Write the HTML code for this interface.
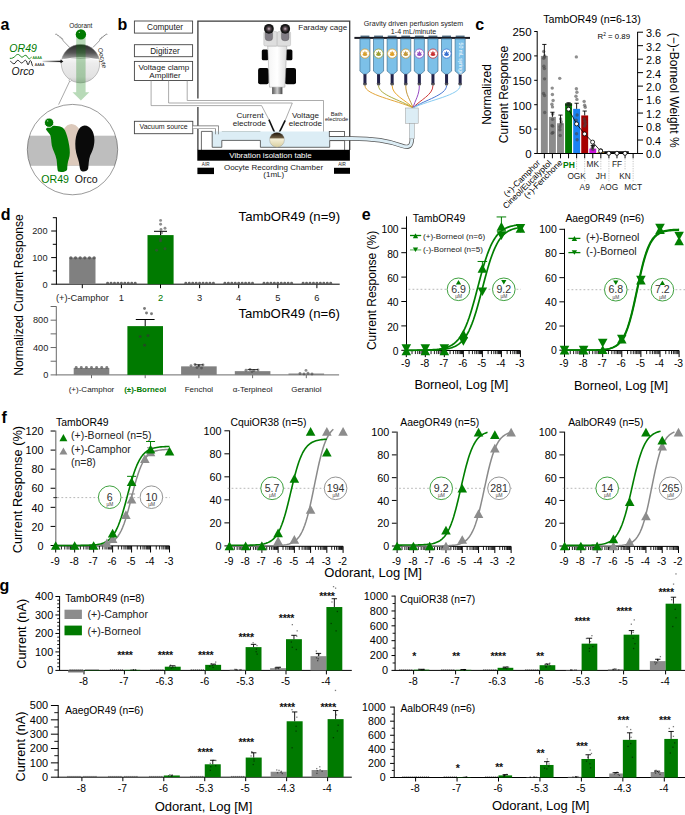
<!DOCTYPE html>
<html><head><meta charset="utf-8"><style>
html,body{margin:0;padding:0;background:#fff;width:685px;height:815px;overflow:hidden}
svg{display:block}
text{font-family:"Liberation Sans", sans-serif}
</style></head><body>
<svg width="685" height="815" viewBox="0 0 685 815">
<defs>
<linearGradient id="oog" x1="0" y1="0" x2="0" y2="1">
<stop offset="0" stop-color="#2a2a2a"/><stop offset="0.22" stop-color="#555"/><stop offset="0.36" stop-color="#9a9a9a"/><stop offset="0.39" stop-color="#f4f4f4"/><stop offset="0.5" stop-color="#ececec"/><stop offset="0.85" stop-color="#e2e2e2"/><stop offset="1" stop-color="#c8c8c8"/>
</linearGradient>
<linearGradient id="oog2" x1="0" y1="0" x2="0" y2="1">
<stop offset="0" stop-color="#1a1208"/><stop offset="0.35" stop-color="#6a5a40"/><stop offset="0.45" stop-color="#f6f0d8"/><stop offset="1" stop-color="#d8cfa0"/>
</linearGradient>
<linearGradient id="arrg" x1="0" y1="0" x2="1" y2="0">
<stop offset="0" stop-color="#ddd"/><stop offset="1" stop-color="#111"/>
</linearGradient>
<linearGradient id="bodyg" x1="0" y1="0" x2="1" y2="0">
<stop offset="0" stop-color="#f4f4f4"/><stop offset="0.5" stop-color="#ffffff"/><stop offset="1" stop-color="#dcdcdc"/>
</linearGradient>
<linearGradient id="objg" x1="0" y1="0" x2="1" y2="0">
<stop offset="0" stop-color="#555"/><stop offset="0.5" stop-color="#ccc"/><stop offset="1" stop-color="#444"/>
</linearGradient>
</defs>
<text x="0.60" y="29.60" font-size="16" font-weight="bold" >a</text>
<text x="80.80" y="27.90" font-size="6.4" text-anchor="middle" fill="#222" >Odorant</text>
<path d="M55.2,34.4 L56.6,34 L57.6,35.6 L58.6,35.5 L59.6,37.2 L60.8,37 L61.4,38.8 L62.4,38.6 L63.2,40.8 L69.6,47.4" fill="none" stroke="#555" stroke-width="0.6" />
<path d="M107.4,34.4 L106,34 L105,35.6 L104,35.5 L103,37.2 L101.8,37 L101.2,38.8 L100.2,38.6 L99.4,40.8 L93,47.4" fill="none" stroke="#555" stroke-width="0.6" />
<circle cx="80.50" cy="63.60" r="19.20" fill="url(#oog)" stroke="#8a8a8a" stroke-width="0.5"/>
<path d="M62.3,60 Q80.5,55.5 98.7,60" fill="none" stroke="#ffffff" stroke-width="1.2" opacity="0.9"/>
<line x1="70.00" y1="80.50" x2="58.60" y2="104.60" stroke="#555" stroke-width="0.5" />
<circle cx="70.20" cy="80.30" r="1.20" fill="#fff" stroke="#777" stroke-width="0.4"/>
<path d="M76.2,36 L85.6,36 L85.6,92.3 L89.3,92.3 L80.9,100.6 L72.5,92.3 L76.2,92.3 Z" fill="#007a00" opacity="0.28"/>
<circle cx="80.90" cy="34.40" r="5.20" fill="#007a00" />
<circle cx="79.30" cy="32.30" r="0.60" fill="#fff" opacity="0.8"/>
<text x="97.70" y="48.60" font-size="6.5" fill="#222" transform="rotate(76 97.70 48.60)" >Oocyte</text>
<text x="9.30" y="51.70" font-size="10.6" fill="#007a00" font-style="italic" >OR49</text>
<text x="11.60" y="74.80" font-size="10.4" fill="#111" font-style="italic" >Orco</text>
<path d="M9.8,58.3 C12,58.8 14,57.5 15.5,55.8 C16.8,54.2 18.5,54 19.6,55.2 C20.8,56.8 21.6,57.6 23,56.8 C24,56 24.8,55 26,55.4 C27.5,56 28,58.8 29.2,58.8 C30.2,58.8 30.8,57.5 31.4,57.2" fill="none" stroke="#007a00" stroke-width="0.9" />
<text x="32.40" y="58.50" font-size="3.6" fill="#007a00" >AAAA</text>
<path d="M10.3,61.2 C11.8,62.2 12.8,63.8 14,63.8 C15.5,63.8 16.2,60.3 17.8,60.3 C19.3,60.3 20.2,63 21.6,63 C23,63 24,60.3 25.6,60.3 C27,60.3 27.2,64.9 28,64.9 C28.9,64.9 29.3,60.5 30.4,60.5 C31.6,60.5 32,66.2 32.9,66.2" fill="none" stroke="#111" stroke-width="0.9" />
<text x="34.80" y="65.90" font-size="3.6" fill="#222" >AAAA</text>
<rect x="42.50" y="60.70" width="18.50" height="1.40" fill="url(#arrg)" />
<path d="M60.5,59.6 L63.4,61.4 L60.5,63.2 Z" fill="#111" />
<clipPath id="mc"><circle cx="72.5" cy="149.6" r="45.2"/></clipPath>
<g clip-path="url(#mc)">
<rect x="20.00" y="135.70" width="110.00" height="30.10" fill="#bebebe" />
</g>
<path d="M60.5,165.5 C59.5,148 59,125 71.5,124 C84,125 84,148 83,165.5 Z" fill="#dcc9bb" />
<path d="M45.8,128.9 C47.5,127.2 50,126 52.5,125.8 C55,125.6 57,125.9 59,126.2 C61.5,126.5 63.5,127.5 65,130.5 C66.5,133.5 68.2,139 69.2,145.5 C70,151 70.2,155 68.8,159 C67.6,162.5 67.3,166 67.2,169.2 C66.8,171.8 61,172.6 58.3,171.6 C57.2,170.8 57.3,165 56.6,159.8 C55.5,154 52.8,150.5 51.8,145.5 C51,141 51.4,137.5 50.2,135 C49,132.5 46.8,131 45.8,128.9 Z" fill="#007a00" />
<circle cx="49.10" cy="122.70" r="4.70" fill="#007a00" stroke="#fff" stroke-width="0.9"/>
<circle cx="47.70" cy="120.90" r="0.60" fill="#fff" opacity="0.8"/>
<path d="M84.6,125.6 C90.5,125.6 94.4,132 94.4,140 C94.4,147 92,151.5 90.2,155.5 C88.6,159.5 88.8,164.5 88.2,168.5 C87.6,171.8 82,172.4 80.6,170.2 C79.4,168 79.6,163.5 78.2,159.5 C76.8,155.5 75.2,150.5 75.3,144 C75.4,134.5 79,125.6 84.6,125.6 Z" fill="#0a0a0a" />
<circle cx="72.50" cy="149.60" r="45.20" fill="none" stroke="#555" stroke-width="0.6"/>
<text x="41.30" y="182.50" font-size="10.6" fill="#007a00" >OR49</text>
<text x="74.80" y="182.50" font-size="10.6" fill="#111" >Orco</text>
<text x="117.40" y="29.70" font-size="16" font-weight="bold" >b</text>
<rect x="134.40" y="21.00" width="58.20" height="12.10" fill="#fff" stroke="#444" stroke-width="0.9"/>
<rect x="134.40" y="44.70" width="58.20" height="12.00" fill="#fff" stroke="#444" stroke-width="0.9"/>
<rect x="134.40" y="61.40" width="58.20" height="19.10" fill="#fff" stroke="#444" stroke-width="0.9"/>
<text x="165.00" y="29.70" font-size="8.2" text-anchor="middle" fill="#222" >Computer</text>
<text x="165.00" y="53.60" font-size="8.2" text-anchor="middle" fill="#222" >Digitizer</text>
<text x="163.80" y="70.10" font-size="8.1" text-anchor="middle" fill="#222" >Voltage clamp</text>
<text x="165.00" y="77.90" font-size="8.1" text-anchor="middle" fill="#222" >Amplifier</text>
<rect x="134.40" y="121.30" width="58.40" height="12.40" fill="#fff" stroke="#444" stroke-width="0.9"/>
<text x="163.60" y="129.40" font-size="7.0" text-anchor="middle" fill="#222" >Vacuum source</text>
<path d="M151.1,80.5 L151.1,105.6 L261.6,105.6 L268.9,119.6" stroke="#888" stroke-width="0.7" fill="none"/>
<path d="M168.6,80.5 L168.6,103.0 L292.3,103.0 L285.2,120.4" stroke="#888" stroke-width="0.7" fill="none"/>
<path d="M187.2,80.5 L187.2,100.5 L323.5,100.5 L323.5,136.4" stroke="#888" stroke-width="0.7" fill="none"/>
<line x1="268.90" y1="119.60" x2="274.60" y2="132.60" stroke="#111" stroke-width="1.6" />
<line x1="285.20" y1="120.40" x2="279.20" y2="132.60" stroke="#111" stroke-width="1.6" />
<path d="M197.9,98.5 L197.9,21.1 L349.7,21.1 L349.7,150" stroke="#3a3a3a" stroke-width="1.3" fill="none"/>
<path d="M197.9,107 L197.9,150" stroke="#3a3a3a" stroke-width="1.3" fill="none"/>
<text x="347.20" y="30.10" font-size="8.0" text-anchor="end" fill="#222" >Faraday cage</text>
<path d="M212.2,131.4 L329.7,131.4 L329.7,140.6 L329.7,147.3 L260.4,147.3 L260.4,140.4 L221.8,140.4 L221.8,147.3 L212.2,147.3 Z" fill="#dcedf5" />
<path d="M201.4,150 L201.4,131.4 L212.2,131.4 L212.2,147.3 L221.8,147.3 L221.8,140.4 L260.4,140.4 L260.4,147.3 L329.7,147.3 L329.7,140.6 L344.6,140.6 L344.6,150" stroke="#444" stroke-width="0.8" fill="none"/>
<line x1="221.80" y1="131.50" x2="260.40" y2="131.50" stroke="#9aa" stroke-width="0.5" />
<path d="M192.8,127.3 L217,127.3 L217,134.2" stroke="#666" stroke-width="3.6" fill="none"/>
<path d="M192.8,127.3 L217,127.3 L217,134.6" stroke="#fff" stroke-width="2.2" fill="none"/>
<path d="M217,131.4 L217,134.4" stroke="#dcedf5" stroke-width="2.2" fill="none"/>
<rect x="329.30" y="131.50" width="15.30" height="4.90" fill="#fff" stroke="#444" stroke-width="0.8"/>
<path d="M329.7,138.5 L352,138.5 C375,138.5 392,142 402,145.8 C409,148.4 411.8,146 411.8,138.5" stroke="#555" stroke-width="4.4" fill="none"/>
<path d="M329.7,138.5 L352,138.5 C375,138.5 392,142 402,145.8 C409,148.4 411.8,146 411.8,138.5" stroke="#dcedf5" stroke-width="2.9" fill="none"/>
<circle cx="277.00" cy="139.80" r="7.40" fill="url(#oog2)" stroke="#777" stroke-width="0.3"/>
<rect x="197.30" y="149.80" width="152.60" height="10.90" fill="#000" />
<text x="270.50" y="157.70" font-size="8.0" text-anchor="middle" fill="#fff" >Vibration isolation table</text>
<rect x="197.40" y="167.70" width="16.60" height="6.40" fill="#000" />
<rect x="334.00" y="167.80" width="16.00" height="6.00" fill="#000" />
<text x="205.70" y="165.60" font-size="4.6" text-anchor="middle" fill="#222" >AIR</text>
<text x="342.00" y="165.60" font-size="4.6" text-anchor="middle" fill="#222" >AIR</text>
<text x="273.50" y="169.60" font-size="8.0" text-anchor="middle" fill="#222" >Oocyte Recording Chamber</text>
<text x="273.80" y="177.40" font-size="8.0" text-anchor="middle" fill="#222" >(1mL)</text>
<text x="250.00" y="117.80" font-size="8.1" text-anchor="middle" fill="#222" >Current</text>
<text x="249.30" y="125.70" font-size="8.1" text-anchor="middle" fill="#222" >electrode</text>
<text x="305.40" y="117.80" font-size="8.1" text-anchor="middle" fill="#222" >Voltage</text>
<text x="305.40" y="125.70" font-size="8.1" text-anchor="middle" fill="#222" >electrode</text>
<text x="336.60" y="115.70" font-size="5.8" text-anchor="middle" fill="#222" >Bath</text>
<text x="336.60" y="120.60" font-size="5.7" text-anchor="middle" fill="#222" >electrode</text>
<rect x="258.1" y="68.1" width="10.6" height="16.2" rx="2" fill="#050505"/>
<rect x="284.8" y="68.1" width="11.2" height="16.2" rx="2" fill="#050505"/>
<rect x="261.8" y="49.4" width="6.6" height="10.8" rx="1.5" fill="#050505"/>
<rect x="285.8" y="49.4" width="6.6" height="10.8" rx="1.5" fill="#050505"/>
<path d="M267.7,46 L286.8,46 L284.9,87.2 L269.5,87.2 Z" fill="url(#bodyg)" stroke="#999" stroke-width="0.5"/>
<rect x="272.1" y="87.2" width="10.3" height="6.9" fill="url(#objg)"/>
<rect x="263.8" y="31.6" width="13.5" height="14.4" rx="1.5" fill="#dedede" stroke="#aaa" stroke-width="0.4"/>
<rect x="277.2" y="31.6" width="13.4" height="14.4" rx="1.5" fill="#dedede" stroke="#aaa" stroke-width="0.4"/>
<rect x="265.2" y="30.5" width="7.4" height="10.2" rx="3" fill="#807c84" stroke="#555" stroke-width="0.4"/>
<rect x="281.4" y="30.5" width="7.6" height="10.2" rx="3" fill="#807c84" stroke="#555" stroke-width="0.4"/>
<radialGradient id="eye"><stop offset="0" stop-color="#c8b8c0"/><stop offset="0.35" stop-color="#5a4a52"/><stop offset="0.7" stop-color="#1a1a1a"/><stop offset="1" stop-color="#111"/></radialGradient>
<circle cx="268.90" cy="28.80" r="4.90" fill="url(#eye)" />
<circle cx="285.20" cy="28.80" r="4.90" fill="url(#eye)" />
<text x="413.50" y="25.50" font-size="7.1" text-anchor="middle" fill="#222" >Gravity driven perfusion system</text>
<text x="413.50" y="33.50" font-size="7.1" text-anchor="middle" fill="#222" >1-4 mL/minute</text>
<rect x="354.40" y="36.90" width="115.60" height="2.00" fill="#1c1c24" />
<rect x="360.50" y="35.60" width="8.90" height="1.40" fill="#4a6478" />
<path d="M359.90,38.8 L370.00,38.8 L370.00,71.1 L366.25,74.2 L363.65,74.2 L359.90,71.1 Z" fill="#7cc0e8" stroke="#2f5f82" stroke-width="0.6"/>
<rect x="363.45" y="74.2" width="3" height="10.6" fill="#23234a"/>
<path d="M362.95,83.2 L366.95,83.2 L365.95,85.6 L363.95,85.6 Z" fill="#555"/>
<path d="M364.95,85.6 C364.95,95 396.18,100 413,107.8" stroke="#e0a030" stroke-width="0.95" fill="none"/>
<circle cx="364.95" cy="53.60" r="4.60" fill="#fff" stroke="#d8a030" stroke-width="0.8"/>
<path d="M362.35,55 Q364.95,57.2 367.55,55 L366.55,53.3 L367.75,51.6 L365.85,52.7 L364.95,50.6 L364.05,52.7 L362.15,51.6 L363.35,53.3 Z" fill="#d8a030"/>
<rect x="374.10" y="35.60" width="8.90" height="1.40" fill="#4a6478" />
<path d="M373.50,38.8 L383.60,38.8 L383.60,71.1 L379.85,74.2 L377.25,74.2 L373.50,71.1 Z" fill="#7cc0e8" stroke="#2f5f82" stroke-width="0.6"/>
<rect x="377.05" y="74.2" width="3" height="10.6" fill="#23234a"/>
<path d="M376.55,83.2 L380.55,83.2 L379.55,85.6 L377.55,85.6 Z" fill="#555"/>
<path d="M378.55,85.6 C378.55,95 400.94,100 413,107.8" stroke="#a8a838" stroke-width="0.95" fill="none"/>
<circle cx="378.55" cy="53.60" r="4.60" fill="#fff" stroke="#a0a030" stroke-width="0.8"/>
<path d="M375.95,55 Q378.55,57.2 381.15,55 L380.15,53.3 L381.35,51.6 L379.45,52.7 L378.55,50.6 L377.65,52.7 L375.75,51.6 L376.95,53.3 Z" fill="#a0a030"/>
<rect x="387.70" y="35.60" width="8.90" height="1.40" fill="#4a6478" />
<path d="M387.10,38.8 L397.20,38.8 L397.20,71.1 L393.45,74.2 L390.85,74.2 L387.10,71.1 Z" fill="#7cc0e8" stroke="#2f5f82" stroke-width="0.6"/>
<rect x="390.65" y="74.2" width="3" height="10.6" fill="#23234a"/>
<path d="M390.15,83.2 L394.15,83.2 L393.15,85.6 L391.15,85.6 Z" fill="#555"/>
<path d="M392.15,85.6 C392.15,95 405.70,100 413,107.8" stroke="#e8a020" stroke-width="0.95" fill="none"/>
<circle cx="392.15" cy="53.60" r="4.60" fill="#fff" stroke="#e0a028" stroke-width="0.8"/>
<path d="M389.55,55 Q392.15,57.2 394.75,55 L393.75,53.3 L394.95,51.6 L393.05,52.7 L392.15,50.6 L391.25,52.7 L389.35,51.6 L390.55,53.3 Z" fill="#e0a028"/>
<rect x="401.30" y="35.60" width="8.90" height="1.40" fill="#4a6478" />
<path d="M400.70,38.8 L410.80,38.8 L410.80,71.1 L407.05,74.2 L404.45,74.2 L400.70,71.1 Z" fill="#7cc0e8" stroke="#2f5f82" stroke-width="0.6"/>
<rect x="404.25" y="74.2" width="3" height="10.6" fill="#23234a"/>
<path d="M403.75,83.2 L407.75,83.2 L406.75,85.6 L404.75,85.6 Z" fill="#555"/>
<path d="M405.75,85.6 C405.75,95 410.46,100 413,107.8" stroke="#c09030" stroke-width="0.95" fill="none"/>
<circle cx="405.75" cy="53.60" r="4.60" fill="#fff" stroke="#c49838" stroke-width="0.8"/>
<path d="M403.15,55 Q405.75,57.2 408.35,55 L407.35,53.3 L408.55,51.6 L406.65,52.7 L405.75,50.6 L404.85,52.7 L402.95,51.6 L404.15,53.3 Z" fill="#c49838"/>
<rect x="414.90" y="35.60" width="8.90" height="1.40" fill="#4a6478" />
<path d="M414.30,38.8 L424.40,38.8 L424.40,71.1 L420.65,74.2 L418.05,74.2 L414.30,71.1 Z" fill="#7cc0e8" stroke="#2f5f82" stroke-width="0.6"/>
<rect x="417.85" y="74.2" width="3" height="10.6" fill="#23234a"/>
<path d="M417.35,83.2 L421.35,83.2 L420.35,85.6 L418.35,85.6 Z" fill="#555"/>
<path d="M419.35,85.6 C419.35,95 415.22,100 413,107.8" stroke="#9040c0" stroke-width="0.95" fill="none"/>
<circle cx="419.35" cy="53.60" r="4.60" fill="#fff" stroke="#9a50c0" stroke-width="0.8"/>
<path d="M416.75,55 Q419.35,57.2 421.95,55 L420.95,53.3 L422.15,51.6 L420.25,52.7 L419.35,50.6 L418.45,52.7 L416.55,51.6 L417.75,53.3 Z" fill="#9a50c0"/>
<rect x="428.50" y="35.60" width="8.90" height="1.40" fill="#4a6478" />
<path d="M427.90,38.8 L438.00,38.8 L438.00,71.1 L434.25,74.2 L431.65,74.2 L427.90,71.1 Z" fill="#7cc0e8" stroke="#2f5f82" stroke-width="0.6"/>
<rect x="431.45" y="74.2" width="3" height="10.6" fill="#23234a"/>
<path d="M430.95,83.2 L434.95,83.2 L433.95,85.6 L431.95,85.6 Z" fill="#555"/>
<path d="M432.95,85.6 C432.95,95 419.98,100 413,107.8" stroke="#c83030" stroke-width="0.95" fill="none"/>
<circle cx="432.95" cy="53.60" r="4.60" fill="#fff" stroke="#c83030" stroke-width="0.8"/>
<path d="M430.35,55 Q432.95,57.2 435.55,55 L434.55,53.3 L435.75,51.6 L433.85,52.7 L432.95,50.6 L432.05,52.7 L430.15,51.6 L431.35,53.3 Z" fill="#c83030"/>
<rect x="442.10" y="35.60" width="8.90" height="1.40" fill="#4a6478" />
<path d="M441.50,38.8 L451.60,38.8 L451.60,71.1 L447.85,74.2 L445.25,74.2 L441.50,71.1 Z" fill="#7cc0e8" stroke="#2f5f82" stroke-width="0.6"/>
<rect x="445.05" y="74.2" width="3" height="10.6" fill="#23234a"/>
<path d="M444.55,83.2 L448.55,83.2 L447.55,85.6 L445.55,85.6 Z" fill="#555"/>
<path d="M446.55,85.6 C446.55,95 424.74,100 413,107.8" stroke="#4070d0" stroke-width="0.95" fill="none"/>
<circle cx="446.55" cy="53.60" r="4.60" fill="#fff" stroke="#3a72d0" stroke-width="0.8"/>
<path d="M443.95,55 Q446.55,57.2 449.15,55 L448.15,53.3 L449.35,51.6 L447.45,52.7 L446.55,50.6 L445.65,52.7 L443.75,51.6 L444.95,53.3 Z" fill="#3a72d0"/>
<rect x="455.70" y="35.60" width="8.90" height="1.40" fill="#4a6478" />
<path d="M455.10,38.8 L465.20,38.8 L465.20,71.1 L461.45,74.2 L458.85,74.2 L455.10,71.1 Z" fill="#7cc0e8" stroke="#2f5f82" stroke-width="0.6"/>
<rect x="458.65" y="74.2" width="3" height="10.6" fill="#23234a"/>
<path d="M458.15,83.2 L462.15,83.2 L461.15,85.6 L459.15,85.6 Z" fill="#555"/>
<path d="M460.15,85.6 C460.15,95 429.50,100 413,107.8" stroke="#80c8f0" stroke-width="0.95" fill="none"/>
<text x="458.55" y="42.50" font-size="5.2" fill="#fff" transform="rotate(90 458.55 42.50)" >50 mL syringe</text>
<rect x="405.50" y="108.00" width="12.70" height="15.30" fill="#dcedf5" stroke="#999" stroke-width="0.5"/>
<rect x="409.30" y="123.30" width="5.10" height="15.50" fill="#dcedf5" stroke="#999" stroke-width="0.5"/>
<text x="475.30" y="29.70" font-size="16" font-weight="bold" >c</text>
<text x="592.00" y="23.30" font-size="10.7" text-anchor="middle" >TambOR49 (n=6-13)</text>
<line x1="537.20" y1="31.20" x2="537.20" y2="154.00" stroke="#000" stroke-width="1" />
<line x1="534.20" y1="153.50" x2="537.20" y2="153.50" stroke="#000" stroke-width="1" />
<text x="531.60" y="158.40" font-size="11.5" text-anchor="end" >0</text>
<line x1="534.20" y1="129.10" x2="537.20" y2="129.10" stroke="#000" stroke-width="1" />
<text x="531.60" y="134.00" font-size="11.5" text-anchor="end" >50</text>
<line x1="534.20" y1="104.70" x2="537.20" y2="104.70" stroke="#000" stroke-width="1" />
<text x="531.60" y="109.60" font-size="11.5" text-anchor="end" >100</text>
<line x1="534.20" y1="80.30" x2="537.20" y2="80.30" stroke="#000" stroke-width="1" />
<text x="531.60" y="85.20" font-size="11.5" text-anchor="end" >150</text>
<line x1="534.20" y1="55.90" x2="537.20" y2="55.90" stroke="#000" stroke-width="1" />
<text x="531.60" y="60.80" font-size="11.5" text-anchor="end" >200</text>
<line x1="534.20" y1="31.50" x2="537.20" y2="31.50" stroke="#000" stroke-width="1" />
<text x="531.60" y="36.40" font-size="11.5" text-anchor="end" >250</text>
<text x="491.40" y="94.50" font-size="12" text-anchor="middle" transform="rotate(-90 491.40 94.50)" >Normalized</text>
<text x="507.70" y="94.50" font-size="12" text-anchor="middle" transform="rotate(-90 507.70 94.50)" >Current Response</text>
<line x1="637.60" y1="31.90" x2="637.60" y2="154.00" stroke="#000" stroke-width="1" />
<line x1="637.60" y1="153.50" x2="643.00" y2="153.50" stroke="#000" stroke-width="1" />
<text x="645.90" y="158.40" font-size="10.9" >0.0</text>
<line x1="637.60" y1="140.02" x2="643.00" y2="140.02" stroke="#000" stroke-width="1" />
<text x="645.90" y="144.92" font-size="10.9" >0.4</text>
<line x1="637.60" y1="126.54" x2="643.00" y2="126.54" stroke="#000" stroke-width="1" />
<text x="645.90" y="131.44" font-size="10.9" >0.8</text>
<line x1="637.60" y1="113.07" x2="643.00" y2="113.07" stroke="#000" stroke-width="1" />
<text x="645.90" y="117.97" font-size="10.9" >1.2</text>
<line x1="637.60" y1="99.59" x2="643.00" y2="99.59" stroke="#000" stroke-width="1" />
<text x="645.90" y="104.49" font-size="10.9" >1.6</text>
<line x1="637.60" y1="86.11" x2="643.00" y2="86.11" stroke="#000" stroke-width="1" />
<text x="645.90" y="91.01" font-size="10.9" >2.0</text>
<line x1="637.60" y1="72.63" x2="643.00" y2="72.63" stroke="#000" stroke-width="1" />
<text x="645.90" y="77.53" font-size="10.9" >2.4</text>
<line x1="637.60" y1="59.16" x2="643.00" y2="59.16" stroke="#000" stroke-width="1" />
<text x="645.90" y="64.06" font-size="10.9" >2.8</text>
<line x1="637.60" y1="45.68" x2="643.00" y2="45.68" stroke="#000" stroke-width="1" />
<text x="645.90" y="50.58" font-size="10.9" >3.2</text>
<line x1="637.60" y1="32.20" x2="643.00" y2="32.20" stroke="#000" stroke-width="1" />
<text x="645.90" y="37.10" font-size="10.9" >3.6</text>
<text x="669.50" y="90.20" font-size="12" text-anchor="middle" transform="rotate(90 669.50 90.20)" >(−)-Borneol Weight %</text>
<text x="597.60" y="39.20" font-size="7.8" >R<tspan font-size="4.8" dy="-3">2</tspan><tspan dy="3"> = 0.89</tspan></text>
<rect x="540.90" y="55.90" width="6.90" height="97.60" fill="#8c8c8c" />
<rect x="548.97" y="116.90" width="6.90" height="36.60" fill="#8c8c8c" />
<rect x="557.04" y="123.24" width="6.90" height="30.26" fill="#8c8c8c" />
<rect x="565.11" y="103.48" width="6.90" height="50.02" fill="#007a00" />
<rect x="573.18" y="108.85" width="6.90" height="44.65" fill="#1a82f2" />
<rect x="581.25" y="115.44" width="6.90" height="38.06" fill="#a60000" />
<rect x="589.32" y="148.62" width="6.90" height="4.88" fill="#c812d8" />
<rect x="597.39" y="152.04" width="6.90" height="1.46" fill="#d9a21e" />
<circle cx="543.69" cy="51.51" r="1.70" fill="#444" opacity="0.6"/>
<circle cx="544.38" cy="57.12" r="1.70" fill="#444" opacity="0.6"/>
<circle cx="544.77" cy="55.90" r="1.70" fill="#444" opacity="0.6"/>
<circle cx="543.91" cy="66.29" r="1.70" fill="#444" opacity="0.6"/>
<circle cx="544.43" cy="68.59" r="1.70" fill="#444" opacity="0.6"/>
<circle cx="544.59" cy="78.84" r="1.70" fill="#444" opacity="0.6"/>
<circle cx="543.56" cy="93.48" r="1.70" fill="#444" opacity="0.6"/>
<circle cx="544.55" cy="95.43" r="1.70" fill="#444" opacity="0.6"/>
<circle cx="544.71" cy="112.51" r="1.70" fill="#444" opacity="0.6"/>
<circle cx="543.69" cy="58.34" r="1.70" fill="#444" opacity="0.6"/>
<line x1="544.35" y1="55.90" x2="544.35" y2="44.43" stroke="#000" stroke-width="0.9" />
<line x1="542.25" y1="44.43" x2="546.45" y2="44.43" stroke="#000" stroke-width="0.9" />
<circle cx="552.22" cy="88.11" r="1.70" fill="#444" opacity="0.6"/>
<circle cx="552.40" cy="94.45" r="1.70" fill="#444" opacity="0.6"/>
<circle cx="553.12" cy="100.50" r="1.70" fill="#444" opacity="0.6"/>
<circle cx="551.91" cy="104.21" r="1.70" fill="#444" opacity="0.6"/>
<circle cx="552.50" cy="106.90" r="1.70" fill="#444" opacity="0.6"/>
<circle cx="552.71" cy="113.97" r="1.70" fill="#444" opacity="0.6"/>
<circle cx="552.00" cy="125.39" r="1.70" fill="#444" opacity="0.6"/>
<circle cx="552.64" cy="126.17" r="1.70" fill="#444" opacity="0.6"/>
<circle cx="552.93" cy="132.52" r="1.70" fill="#444" opacity="0.6"/>
<circle cx="552.06" cy="133.20" r="1.70" fill="#444" opacity="0.6"/>
<circle cx="552.52" cy="119.34" r="1.70" fill="#444" opacity="0.6"/>
<line x1="552.42" y1="116.90" x2="552.42" y2="112.26" stroke="#000" stroke-width="0.9" />
<line x1="550.32" y1="112.26" x2="554.52" y2="112.26" stroke="#000" stroke-width="0.9" />
<circle cx="559.73" cy="78.35" r="1.70" fill="#444" opacity="0.6"/>
<circle cx="560.64" cy="119.00" r="1.70" fill="#444" opacity="0.6"/>
<circle cx="561.04" cy="123.98" r="1.70" fill="#444" opacity="0.6"/>
<circle cx="559.87" cy="129.69" r="1.70" fill="#444" opacity="0.6"/>
<circle cx="560.21" cy="135.44" r="1.70" fill="#444" opacity="0.6"/>
<circle cx="561.21" cy="121.78" r="1.70" fill="#444" opacity="0.6"/>
<circle cx="559.97" cy="126.66" r="1.70" fill="#444" opacity="0.6"/>
<line x1="560.49" y1="123.24" x2="560.49" y2="115.09" stroke="#000" stroke-width="0.9" />
<line x1="558.39" y1="115.09" x2="562.59" y2="115.09" stroke="#000" stroke-width="0.9" />
<circle cx="568.19" cy="104.70" r="1.70" fill="#444" opacity="0.6"/>
<circle cx="568.79" cy="104.70" r="1.70" fill="#444" opacity="0.6"/>
<circle cx="569.19" cy="104.70" r="1.70" fill="#444" opacity="0.6"/>
<circle cx="568.31" cy="104.70" r="1.70" fill="#444" opacity="0.6"/>
<circle cx="568.50" cy="104.70" r="1.70" fill="#444" opacity="0.6"/>
<circle cx="569.24" cy="104.70" r="1.70" fill="#444" opacity="0.6"/>
<circle cx="568.03" cy="104.70" r="1.70" fill="#444" opacity="0.6"/>
<circle cx="568.82" cy="104.70" r="1.70" fill="#444" opacity="0.6"/>
<line x1="568.56" y1="103.48" x2="568.56" y2="102.75" stroke="#000" stroke-width="0.9" />
<line x1="566.46" y1="102.75" x2="570.66" y2="102.75" stroke="#000" stroke-width="0.9" />
<circle cx="576.36" cy="56.88" r="1.70" fill="#444" opacity="0.6"/>
<circle cx="576.39" cy="88.79" r="1.70" fill="#444" opacity="0.6"/>
<circle cx="576.91" cy="92.30" r="1.70" fill="#444" opacity="0.6"/>
<circle cx="575.96" cy="96.21" r="1.70" fill="#444" opacity="0.6"/>
<circle cx="576.91" cy="99.38" r="1.70" fill="#444" opacity="0.6"/>
<circle cx="577.09" cy="115.00" r="1.70" fill="#444" opacity="0.6"/>
<circle cx="576.21" cy="120.22" r="1.70" fill="#444" opacity="0.6"/>
<circle cx="576.51" cy="133.69" r="1.70" fill="#444" opacity="0.6"/>
<circle cx="577.13" cy="139.69" r="1.70" fill="#444" opacity="0.6"/>
<line x1="576.63" y1="108.85" x2="576.63" y2="103.24" stroke="#000" stroke-width="0.9" />
<line x1="574.53" y1="103.24" x2="578.73" y2="103.24" stroke="#000" stroke-width="0.9" />
<circle cx="584.13" cy="101.38" r="1.70" fill="#444" opacity="0.6"/>
<circle cx="584.61" cy="105.29" r="1.70" fill="#444" opacity="0.6"/>
<circle cx="585.25" cy="107.19" r="1.70" fill="#444" opacity="0.6"/>
<circle cx="584.25" cy="118.90" r="1.70" fill="#444" opacity="0.6"/>
<circle cx="584.94" cy="121.49" r="1.70" fill="#444" opacity="0.6"/>
<circle cx="585.31" cy="124.12" r="1.70" fill="#444" opacity="0.6"/>
<circle cx="584.46" cy="126.12" r="1.70" fill="#444" opacity="0.6"/>
<line x1="584.70" y1="115.44" x2="584.70" y2="111.04" stroke="#000" stroke-width="0.9" />
<line x1="582.60" y1="111.04" x2="586.80" y2="111.04" stroke="#000" stroke-width="0.9" />
<circle cx="592.48" cy="147.64" r="1.70" fill="#444" opacity="0.6"/>
<circle cx="593.06" cy="146.18" r="1.70" fill="#444" opacity="0.6"/>
<circle cx="593.37" cy="145.20" r="1.70" fill="#444" opacity="0.6"/>
<circle cx="592.07" cy="148.62" r="1.70" fill="#444" opacity="0.6"/>
<circle cx="592.99" cy="149.60" r="1.70" fill="#444" opacity="0.6"/>
<line x1="592.77" y1="148.62" x2="592.77" y2="145.69" stroke="#000" stroke-width="0.9" />
<line x1="590.67" y1="145.69" x2="594.87" y2="145.69" stroke="#000" stroke-width="0.9" />
<circle cx="600.62" cy="149.60" r="1.70" fill="#444" opacity="0.6"/>
<circle cx="601.08" cy="150.57" r="1.70" fill="#444" opacity="0.6"/>
<circle cx="601.38" cy="151.55" r="1.70" fill="#444" opacity="0.6"/>
<circle cx="600.47" cy="152.52" r="1.70" fill="#444" opacity="0.6"/>
<circle cx="600.67" cy="150.08" r="1.70" fill="#444" opacity="0.6"/>
<line x1="600.84" y1="152.04" x2="600.84" y2="150.08" stroke="#000" stroke-width="0.9" />
<line x1="598.74" y1="150.08" x2="602.94" y2="150.08" stroke="#000" stroke-width="0.9" />
<circle cx="608.61" cy="153.01" r="1.70" fill="#444" opacity="0.6"/>
<circle cx="608.95" cy="153.26" r="1.70" fill="#444" opacity="0.6"/>
<circle cx="609.28" cy="152.52" r="1.70" fill="#444" opacity="0.6"/>
<circle cx="608.15" cy="153.01" r="1.70" fill="#444" opacity="0.6"/>
<circle cx="616.69" cy="153.01" r="1.70" fill="#444" opacity="0.6"/>
<circle cx="617.27" cy="153.26" r="1.70" fill="#444" opacity="0.6"/>
<circle cx="617.23" cy="152.52" r="1.70" fill="#444" opacity="0.6"/>
<circle cx="616.66" cy="153.01" r="1.70" fill="#444" opacity="0.6"/>
<circle cx="624.50" cy="153.01" r="1.70" fill="#444" opacity="0.6"/>
<circle cx="624.84" cy="153.26" r="1.70" fill="#444" opacity="0.6"/>
<circle cx="625.43" cy="152.52" r="1.70" fill="#444" opacity="0.6"/>
<circle cx="624.71" cy="153.01" r="1.70" fill="#444" opacity="0.6"/>
<rect x="565.20" y="103.30" width="6.90" height="2.60" fill="#0a2a0a" opacity="0.8"/>
<rect x="604.30" y="151.20" width="24.50" height="2.30" fill="#111" />
<line x1="537.20" y1="153.50" x2="637.60" y2="153.50" stroke="#000" stroke-width="1" />
<line x1="544.35" y1="153.50" x2="544.35" y2="158.30" stroke="#000" stroke-width="1" />
<line x1="552.42" y1="153.50" x2="552.42" y2="158.30" stroke="#000" stroke-width="1" />
<line x1="560.49" y1="153.50" x2="560.49" y2="158.30" stroke="#000" stroke-width="1" />
<line x1="568.56" y1="153.50" x2="568.56" y2="158.30" stroke="#000" stroke-width="1" />
<line x1="576.63" y1="153.50" x2="576.63" y2="158.30" stroke="#000" stroke-width="1" />
<line x1="584.70" y1="153.50" x2="584.70" y2="158.30" stroke="#000" stroke-width="1" />
<line x1="592.77" y1="153.50" x2="592.77" y2="158.30" stroke="#000" stroke-width="1" />
<line x1="600.84" y1="153.50" x2="600.84" y2="158.30" stroke="#000" stroke-width="1" />
<line x1="608.91" y1="153.50" x2="608.91" y2="158.30" stroke="#000" stroke-width="1" />
<line x1="616.98" y1="153.50" x2="616.98" y2="158.30" stroke="#000" stroke-width="1" />
<line x1="625.05" y1="153.50" x2="625.05" y2="158.30" stroke="#000" stroke-width="1" />
<line x1="633.12" y1="153.50" x2="633.12" y2="158.30" stroke="#000" stroke-width="1" />
<path d="M568.60,109.20 L576.60,123.90 L584.60,133.90 L592.60,142.10 L600.70,151.10 L608.80,153.30 L616.90,153.30 L625.00,153.30" fill="none" stroke="#000" stroke-width="0.8" />
<circle cx="568.60" cy="109.20" r="2.00" fill="#fff" stroke="#000" stroke-width="0.8"/>
<circle cx="576.60" cy="123.90" r="2.00" fill="#fff" stroke="#000" stroke-width="0.8"/>
<circle cx="584.60" cy="133.90" r="2.00" fill="#fff" stroke="#000" stroke-width="0.8"/>
<circle cx="592.60" cy="142.10" r="2.00" fill="#fff" stroke="#000" stroke-width="0.8"/>
<circle cx="600.70" cy="151.10" r="2.00" fill="#fff" stroke="#000" stroke-width="0.8"/>
<circle cx="608.80" cy="153.30" r="2.00" fill="#fff" stroke="#000" stroke-width="0.8"/>
<circle cx="616.90" cy="153.30" r="2.00" fill="#fff" stroke="#000" stroke-width="0.8"/>
<circle cx="625.00" cy="153.30" r="2.00" fill="#fff" stroke="#000" stroke-width="0.8"/>
<text x="540.80" y="163.40" font-size="8.4" text-anchor="end" transform="rotate(-45 540.80 163.40)" >(+)-Camphor</text>
<text x="552.00" y="163.60" font-size="8.4" text-anchor="end" transform="rotate(-45 552.00 163.60)" >Cineol/Eucalyptol</text>
<text x="563.00" y="163.20" font-size="8.4" text-anchor="end" transform="rotate(-45 563.00 163.20)" >(+)-Fenchone</text>
<text x="568.90" y="167.50" font-size="8.5" text-anchor="middle" font-weight="bold" fill="#007a00" >PH</text>
<text x="576.63" y="178.70" font-size="8.3" text-anchor="middle" fill="#222" >OGK</text>
<line x1="576.63" y1="158.50" x2="576.63" y2="170.50" stroke="#aaa" stroke-width="0.7" stroke-dasharray="1.2,1.2"/>
<text x="584.70" y="189.60" font-size="8.3" text-anchor="middle" fill="#222" >A9</text>
<line x1="584.70" y1="158.50" x2="584.70" y2="181.40" stroke="#aaa" stroke-width="0.7" stroke-dasharray="1.2,1.2"/>
<text x="592.77" y="167.20" font-size="8.3" text-anchor="middle" fill="#222" >MK</text>
<text x="600.84" y="178.70" font-size="8.3" text-anchor="middle" fill="#222" >JH</text>
<line x1="600.84" y1="158.50" x2="600.84" y2="170.50" stroke="#aaa" stroke-width="0.7" stroke-dasharray="1.2,1.2"/>
<text x="608.91" y="189.60" font-size="8.3" text-anchor="middle" fill="#222" >AOG</text>
<line x1="608.91" y1="158.50" x2="608.91" y2="181.40" stroke="#aaa" stroke-width="0.7" stroke-dasharray="1.2,1.2"/>
<text x="616.98" y="167.20" font-size="8.3" text-anchor="middle" fill="#222" >FF</text>
<text x="625.05" y="178.70" font-size="8.3" text-anchor="middle" fill="#222" >KN</text>
<line x1="625.05" y1="158.50" x2="625.05" y2="170.50" stroke="#aaa" stroke-width="0.7" stroke-dasharray="1.2,1.2"/>
<text x="633.12" y="189.60" font-size="8.3" text-anchor="middle" fill="#222" >MCT</text>
<line x1="633.12" y1="158.50" x2="633.12" y2="181.40" stroke="#aaa" stroke-width="0.7" stroke-dasharray="1.2,1.2"/>
<text x="0.70" y="219.70" font-size="16" font-weight="bold" >d</text>
<text x="23.20" y="295.00" font-size="12" text-anchor="middle" transform="rotate(-90 23.20 295.00)" >Normalized Current Response</text>
<line x1="56.40" y1="217.30" x2="56.40" y2="284.70" stroke="#000" stroke-width="1" />
<line x1="51.20" y1="284.20" x2="56.40" y2="284.20" stroke="#000" stroke-width="1" />
<text x="47.60" y="287.50" font-size="9.2" text-anchor="end" fill="#222" >0</text>
<line x1="52.80" y1="270.90" x2="56.40" y2="270.90" stroke="#000" stroke-width="1" />
<line x1="51.20" y1="257.60" x2="56.40" y2="257.60" stroke="#000" stroke-width="1" />
<text x="47.60" y="260.90" font-size="9.2" text-anchor="end" fill="#222" >100</text>
<line x1="52.80" y1="244.30" x2="56.40" y2="244.30" stroke="#000" stroke-width="1" />
<line x1="51.20" y1="231.00" x2="56.40" y2="231.00" stroke="#000" stroke-width="1" />
<text x="47.60" y="234.30" font-size="9.2" text-anchor="end" fill="#222" >200</text>
<line x1="52.80" y1="217.70" x2="56.40" y2="217.70" stroke="#000" stroke-width="1" />
<line x1="56.40" y1="284.20" x2="339.70" y2="284.20" stroke="#000" stroke-width="1" />
<line x1="82.30" y1="284.20" x2="82.30" y2="288.20" stroke="#000" stroke-width="1" />
<line x1="121.40" y1="284.20" x2="121.40" y2="288.20" stroke="#000" stroke-width="1" />
<line x1="160.50" y1="284.20" x2="160.50" y2="288.20" stroke="#000" stroke-width="1" />
<line x1="199.60" y1="284.20" x2="199.60" y2="288.20" stroke="#000" stroke-width="1" />
<line x1="238.70" y1="284.20" x2="238.70" y2="288.20" stroke="#000" stroke-width="1" />
<line x1="277.80" y1="284.20" x2="277.80" y2="288.20" stroke="#000" stroke-width="1" />
<line x1="316.90" y1="284.20" x2="316.90" y2="288.20" stroke="#000" stroke-width="1" />
<rect x="69.20" y="257.60" width="26.30" height="26.60" fill="#808080" />
<rect x="147.50" y="235.10" width="26.10" height="49.10" fill="#007a00" />
<line x1="160.50" y1="235.10" x2="160.50" y2="231.30" stroke="#000" stroke-width="1" />
<line x1="154.00" y1="231.30" x2="167.00" y2="231.30" stroke="#000" stroke-width="1" />
<circle cx="70.90" cy="257.80" r="1.60" fill="#555" opacity="0.85"/>
<circle cx="75.54" cy="257.80" r="1.60" fill="#555" opacity="0.85"/>
<circle cx="80.18" cy="257.80" r="1.60" fill="#555" opacity="0.85"/>
<circle cx="84.82" cy="257.80" r="1.60" fill="#555" opacity="0.85"/>
<circle cx="89.46" cy="257.80" r="1.60" fill="#555" opacity="0.85"/>
<circle cx="94.10" cy="257.80" r="1.60" fill="#555" opacity="0.85"/>
<circle cx="160.60" cy="220.40" r="1.45" fill="#444" opacity="0.6"/>
<circle cx="160.60" cy="224.30" r="1.45" fill="#444" opacity="0.6"/>
<circle cx="161.00" cy="229.50" r="1.45" fill="#444" opacity="0.6"/>
<circle cx="165.00" cy="228.30" r="1.45" fill="#444" opacity="0.6"/>
<circle cx="160.50" cy="239.20" r="1.45" fill="#444" opacity="0.6"/>
<circle cx="160.50" cy="240.90" r="1.45" fill="#444" opacity="0.6"/>
<circle cx="156.60" cy="250.20" r="1.45" fill="#444" opacity="0.6"/>
<circle cx="165.00" cy="248.80" r="1.45" fill="#444" opacity="0.6"/>
<circle cx="161.50" cy="233.00" r="1.45" fill="#444" opacity="0.6"/>
<circle cx="107.60" cy="283.20" r="1.45" fill="#555" opacity="0.9"/>
<circle cx="111.05" cy="283.20" r="1.45" fill="#555" opacity="0.9"/>
<circle cx="114.50" cy="283.20" r="1.45" fill="#555" opacity="0.9"/>
<circle cx="117.95" cy="283.20" r="1.45" fill="#555" opacity="0.9"/>
<circle cx="121.40" cy="283.20" r="1.45" fill="#555" opacity="0.9"/>
<circle cx="124.85" cy="283.20" r="1.45" fill="#555" opacity="0.9"/>
<circle cx="128.30" cy="283.20" r="1.45" fill="#555" opacity="0.9"/>
<circle cx="131.75" cy="283.20" r="1.45" fill="#555" opacity="0.9"/>
<circle cx="135.20" cy="283.20" r="1.45" fill="#555" opacity="0.9"/>
<circle cx="185.80" cy="283.20" r="1.45" fill="#555" opacity="0.9"/>
<circle cx="189.25" cy="283.20" r="1.45" fill="#555" opacity="0.9"/>
<circle cx="192.70" cy="283.20" r="1.45" fill="#555" opacity="0.9"/>
<circle cx="196.15" cy="283.20" r="1.45" fill="#555" opacity="0.9"/>
<circle cx="199.60" cy="283.20" r="1.45" fill="#555" opacity="0.9"/>
<circle cx="203.05" cy="283.20" r="1.45" fill="#555" opacity="0.9"/>
<circle cx="206.50" cy="283.20" r="1.45" fill="#555" opacity="0.9"/>
<circle cx="209.95" cy="283.20" r="1.45" fill="#555" opacity="0.9"/>
<circle cx="213.40" cy="283.20" r="1.45" fill="#555" opacity="0.9"/>
<circle cx="224.90" cy="283.20" r="1.45" fill="#555" opacity="0.9"/>
<circle cx="228.35" cy="283.20" r="1.45" fill="#555" opacity="0.9"/>
<circle cx="231.80" cy="283.20" r="1.45" fill="#555" opacity="0.9"/>
<circle cx="235.25" cy="283.20" r="1.45" fill="#555" opacity="0.9"/>
<circle cx="238.70" cy="283.20" r="1.45" fill="#555" opacity="0.9"/>
<circle cx="242.15" cy="283.20" r="1.45" fill="#555" opacity="0.9"/>
<circle cx="245.60" cy="283.20" r="1.45" fill="#555" opacity="0.9"/>
<circle cx="249.05" cy="283.20" r="1.45" fill="#555" opacity="0.9"/>
<circle cx="252.50" cy="283.20" r="1.45" fill="#555" opacity="0.9"/>
<circle cx="264.00" cy="283.20" r="1.45" fill="#555" opacity="0.9"/>
<circle cx="267.45" cy="283.20" r="1.45" fill="#555" opacity="0.9"/>
<circle cx="270.90" cy="283.20" r="1.45" fill="#555" opacity="0.9"/>
<circle cx="274.35" cy="283.20" r="1.45" fill="#555" opacity="0.9"/>
<circle cx="277.80" cy="283.20" r="1.45" fill="#555" opacity="0.9"/>
<circle cx="281.25" cy="283.20" r="1.45" fill="#555" opacity="0.9"/>
<circle cx="284.70" cy="283.20" r="1.45" fill="#555" opacity="0.9"/>
<circle cx="288.15" cy="283.20" r="1.45" fill="#555" opacity="0.9"/>
<circle cx="291.60" cy="283.20" r="1.45" fill="#555" opacity="0.9"/>
<circle cx="303.10" cy="283.20" r="1.45" fill="#555" opacity="0.9"/>
<circle cx="306.55" cy="283.20" r="1.45" fill="#555" opacity="0.9"/>
<circle cx="310.00" cy="283.20" r="1.45" fill="#555" opacity="0.9"/>
<circle cx="313.45" cy="283.20" r="1.45" fill="#555" opacity="0.9"/>
<circle cx="316.90" cy="283.20" r="1.45" fill="#555" opacity="0.9"/>
<circle cx="320.35" cy="283.20" r="1.45" fill="#555" opacity="0.9"/>
<circle cx="323.80" cy="283.20" r="1.45" fill="#555" opacity="0.9"/>
<circle cx="327.25" cy="283.20" r="1.45" fill="#555" opacity="0.9"/>
<circle cx="330.70" cy="283.20" r="1.45" fill="#555" opacity="0.9"/>
<text x="82.40" y="300.80" font-size="9.3" text-anchor="middle" fill="#222" >(+)-Camphor</text>
<text x="121.40" y="300.80" font-size="9.3" text-anchor="middle" fill="#222" >1</text>
<text x="160.50" y="300.80" font-size="9.3" text-anchor="middle" fill="#007a00" >2</text>
<text x="199.60" y="300.80" font-size="9.3" text-anchor="middle" fill="#222" >3</text>
<text x="238.70" y="300.80" font-size="9.3" text-anchor="middle" fill="#222" >4</text>
<text x="277.80" y="300.80" font-size="9.3" text-anchor="middle" fill="#222" >5</text>
<text x="316.90" y="300.80" font-size="9.3" text-anchor="middle" fill="#222" >6</text>
<text x="340.10" y="220.90" font-size="13.2" text-anchor="end" >TambOR49 (n=9)</text>
<line x1="56.30" y1="306.30" x2="56.30" y2="375.40" stroke="#6a6a6a" stroke-width="1" />
<line x1="50.60" y1="374.90" x2="56.30" y2="374.90" stroke="#6a6a6a" stroke-width="1" />
<text x="48.30" y="378.20" font-size="9.2" text-anchor="end" fill="#222" >0</text>
<line x1="50.60" y1="361.22" x2="56.30" y2="361.22" stroke="#6a6a6a" stroke-width="1" />
<line x1="50.60" y1="347.54" x2="56.30" y2="347.54" stroke="#6a6a6a" stroke-width="1" />
<text x="48.30" y="350.84" font-size="9.2" text-anchor="end" fill="#222" >400</text>
<line x1="50.60" y1="333.86" x2="56.30" y2="333.86" stroke="#6a6a6a" stroke-width="1" />
<line x1="50.60" y1="320.18" x2="56.30" y2="320.18" stroke="#6a6a6a" stroke-width="1" />
<text x="48.30" y="323.48" font-size="9.2" text-anchor="end" fill="#222" >800</text>
<line x1="50.60" y1="306.50" x2="56.30" y2="306.50" stroke="#6a6a6a" stroke-width="1" />
<line x1="56.30" y1="374.90" x2="339.10" y2="374.90" stroke="#6a6a6a" stroke-width="1" />
<line x1="91.50" y1="374.90" x2="91.50" y2="378.20" stroke="#6a6a6a" stroke-width="1" />
<line x1="145.20" y1="374.90" x2="145.20" y2="378.20" stroke="#6a6a6a" stroke-width="1" />
<line x1="198.90" y1="374.90" x2="198.90" y2="378.20" stroke="#6a6a6a" stroke-width="1" />
<line x1="252.60" y1="374.90" x2="252.60" y2="378.20" stroke="#6a6a6a" stroke-width="1" />
<line x1="306.30" y1="374.90" x2="306.30" y2="378.20" stroke="#6a6a6a" stroke-width="1" />
<rect x="73.70" y="367.99" width="35.60" height="6.91" fill="#808080" />
<rect x="127.40" y="326.13" width="35.60" height="48.77" fill="#007a00" />
<rect x="181.10" y="366.35" width="35.60" height="8.55" fill="#808080" />
<rect x="234.80" y="371.14" width="35.60" height="3.76" fill="#808080" />
<rect x="288.50" y="373.53" width="35.60" height="1.37" fill="#808080" />
<line x1="145.20" y1="326.13" x2="145.20" y2="319.50" stroke="#000" stroke-width="1" />
<line x1="135.80" y1="319.50" x2="154.60" y2="319.50" stroke="#000" stroke-width="1" />
<circle cx="76.20" cy="367.50" r="1.45" fill="#555" opacity="0.75"/>
<circle cx="81.30" cy="367.50" r="1.45" fill="#555" opacity="0.75"/>
<circle cx="86.40" cy="367.50" r="1.45" fill="#555" opacity="0.75"/>
<circle cx="91.50" cy="367.50" r="1.45" fill="#555" opacity="0.75"/>
<circle cx="96.60" cy="367.50" r="1.45" fill="#555" opacity="0.75"/>
<circle cx="101.70" cy="367.50" r="1.45" fill="#555" opacity="0.75"/>
<circle cx="106.80" cy="367.50" r="1.45" fill="#555" opacity="0.75"/>
<circle cx="144.50" cy="308.50" r="1.45" fill="#333" opacity="0.65"/>
<circle cx="146.50" cy="313.00" r="1.45" fill="#333" opacity="0.65"/>
<circle cx="151.50" cy="313.70" r="1.45" fill="#333" opacity="0.65"/>
<circle cx="140.20" cy="336.60" r="1.45" fill="#333" opacity="0.65"/>
<circle cx="148.00" cy="335.60" r="1.45" fill="#333" opacity="0.65"/>
<circle cx="144.60" cy="345.20" r="1.45" fill="#333" opacity="0.65"/>
<circle cx="191.00" cy="365.60" r="1.45" fill="#444" opacity="0.6"/>
<circle cx="195.00" cy="364.50" r="1.45" fill="#444" opacity="0.6"/>
<circle cx="199.00" cy="365.80" r="1.45" fill="#444" opacity="0.6"/>
<circle cx="203.00" cy="365.00" r="1.45" fill="#444" opacity="0.6"/>
<circle cx="197.00" cy="367.50" r="1.45" fill="#444" opacity="0.6"/>
<circle cx="201.50" cy="368.00" r="1.45" fill="#444" opacity="0.6"/>
<line x1="198.80" y1="366.50" x2="198.80" y2="364.80" stroke="#000" stroke-width="0.8" />
<line x1="194.50" y1="364.80" x2="203.20" y2="364.80" stroke="#000" stroke-width="0.8" />
<circle cx="246.00" cy="370.20" r="1.45" fill="#444" opacity="0.6"/>
<circle cx="250.00" cy="369.50" r="1.45" fill="#444" opacity="0.6"/>
<circle cx="254.00" cy="370.50" r="1.45" fill="#444" opacity="0.6"/>
<circle cx="258.00" cy="370.00" r="1.45" fill="#444" opacity="0.6"/>
<circle cx="252.00" cy="371.60" r="1.45" fill="#444" opacity="0.6"/>
<line x1="247.50" y1="369.60" x2="258.00" y2="369.60" stroke="#000" stroke-width="0.8" />
<circle cx="300.00" cy="373.50" r="1.45" fill="#444" opacity="0.6"/>
<circle cx="304.00" cy="374.00" r="1.45" fill="#444" opacity="0.6"/>
<circle cx="308.00" cy="373.20" r="1.45" fill="#444" opacity="0.6"/>
<circle cx="312.00" cy="374.00" r="1.45" fill="#444" opacity="0.6"/>
<circle cx="306.00" cy="370.40" r="1.45" fill="#444" opacity="0.6"/>
<text x="91.50" y="392.40" font-size="8.0" text-anchor="middle" fill="#222" >(+)-Camphor</text>
<text x="145.20" y="392.40" font-size="7.9" text-anchor="middle" font-weight="bold" fill="#007a00" >(±)-Borneol</text>
<text x="198.90" y="392.40" font-size="8.0" text-anchor="middle" fill="#222" >Fenchol</text>
<text x="252.60" y="392.40" font-size="8.0" text-anchor="middle" fill="#222" >α-Terpineol</text>
<text x="306.30" y="392.40" font-size="8.0" text-anchor="middle" fill="#222" >Geraniol</text>
<text x="339.90" y="318.00" font-size="13.2" text-anchor="end" >TambOR49 (n=6)</text>
<text x="361.70" y="220.00" font-size="16" font-weight="bold" >e</text>
<line x1="406.50" y1="216.40" x2="406.50" y2="350.80" stroke="#000" stroke-width="1" />
<line x1="401.30" y1="350.30" x2="406.50" y2="350.30" stroke="#000" stroke-width="1" />
<text x="398.60" y="355.10" font-size="10.3" text-anchor="end" >0</text>
<line x1="401.30" y1="325.90" x2="406.50" y2="325.90" stroke="#000" stroke-width="1" />
<text x="398.60" y="330.70" font-size="10.3" text-anchor="end" >20</text>
<line x1="401.30" y1="301.50" x2="406.50" y2="301.50" stroke="#000" stroke-width="1" />
<text x="398.60" y="306.30" font-size="10.3" text-anchor="end" >40</text>
<line x1="401.30" y1="277.10" x2="406.50" y2="277.10" stroke="#000" stroke-width="1" />
<text x="398.60" y="281.90" font-size="10.3" text-anchor="end" >60</text>
<line x1="401.30" y1="252.70" x2="406.50" y2="252.70" stroke="#000" stroke-width="1" />
<text x="398.60" y="257.50" font-size="10.3" text-anchor="end" >80</text>
<line x1="401.30" y1="228.30" x2="406.50" y2="228.30" stroke="#000" stroke-width="1" />
<text x="398.60" y="233.10" font-size="10.3" text-anchor="end" >100</text>
<line x1="406.30" y1="350.50" x2="520.42" y2="350.50" stroke="#000" stroke-width="1" />
<line x1="406.30" y1="350.50" x2="406.30" y2="357.10" stroke="#000" stroke-width="1" />
<text x="405.70" y="366.90" font-size="10.3" text-anchor="middle" >-9</text>
<line x1="412.03" y1="350.50" x2="412.03" y2="354.10" stroke="#000" stroke-width="0.9" />
<line x1="415.37" y1="350.50" x2="415.37" y2="354.10" stroke="#000" stroke-width="0.9" />
<line x1="417.75" y1="350.50" x2="417.75" y2="354.10" stroke="#000" stroke-width="0.9" />
<line x1="419.59" y1="350.50" x2="419.59" y2="354.10" stroke="#000" stroke-width="0.9" />
<line x1="421.10" y1="350.50" x2="421.10" y2="354.10" stroke="#000" stroke-width="0.9" />
<line x1="422.37" y1="350.50" x2="422.37" y2="354.10" stroke="#000" stroke-width="0.9" />
<line x1="423.48" y1="350.50" x2="423.48" y2="354.10" stroke="#000" stroke-width="0.9" />
<line x1="424.45" y1="350.50" x2="424.45" y2="354.10" stroke="#000" stroke-width="0.9" />
<line x1="425.32" y1="350.50" x2="425.32" y2="357.10" stroke="#000" stroke-width="1" />
<text x="424.72" y="366.90" font-size="10.3" text-anchor="middle" >-8</text>
<line x1="431.05" y1="350.50" x2="431.05" y2="354.10" stroke="#000" stroke-width="0.9" />
<line x1="434.39" y1="350.50" x2="434.39" y2="354.10" stroke="#000" stroke-width="0.9" />
<line x1="436.77" y1="350.50" x2="436.77" y2="354.10" stroke="#000" stroke-width="0.9" />
<line x1="438.61" y1="350.50" x2="438.61" y2="354.10" stroke="#000" stroke-width="0.9" />
<line x1="440.12" y1="350.50" x2="440.12" y2="354.10" stroke="#000" stroke-width="0.9" />
<line x1="441.39" y1="350.50" x2="441.39" y2="354.10" stroke="#000" stroke-width="0.9" />
<line x1="442.50" y1="350.50" x2="442.50" y2="354.10" stroke="#000" stroke-width="0.9" />
<line x1="443.47" y1="350.50" x2="443.47" y2="354.10" stroke="#000" stroke-width="0.9" />
<line x1="444.34" y1="350.50" x2="444.34" y2="357.10" stroke="#000" stroke-width="1" />
<text x="443.74" y="366.90" font-size="10.3" text-anchor="middle" >-7</text>
<line x1="450.07" y1="350.50" x2="450.07" y2="354.10" stroke="#000" stroke-width="0.9" />
<line x1="453.41" y1="350.50" x2="453.41" y2="354.10" stroke="#000" stroke-width="0.9" />
<line x1="455.79" y1="350.50" x2="455.79" y2="354.10" stroke="#000" stroke-width="0.9" />
<line x1="457.63" y1="350.50" x2="457.63" y2="354.10" stroke="#000" stroke-width="0.9" />
<line x1="459.14" y1="350.50" x2="459.14" y2="354.10" stroke="#000" stroke-width="0.9" />
<line x1="460.41" y1="350.50" x2="460.41" y2="354.10" stroke="#000" stroke-width="0.9" />
<line x1="461.52" y1="350.50" x2="461.52" y2="354.10" stroke="#000" stroke-width="0.9" />
<line x1="462.49" y1="350.50" x2="462.49" y2="354.10" stroke="#000" stroke-width="0.9" />
<line x1="463.36" y1="350.50" x2="463.36" y2="357.10" stroke="#000" stroke-width="1" />
<text x="462.76" y="366.90" font-size="10.3" text-anchor="middle" >-6</text>
<line x1="469.09" y1="350.50" x2="469.09" y2="354.10" stroke="#000" stroke-width="0.9" />
<line x1="472.43" y1="350.50" x2="472.43" y2="354.10" stroke="#000" stroke-width="0.9" />
<line x1="474.81" y1="350.50" x2="474.81" y2="354.10" stroke="#000" stroke-width="0.9" />
<line x1="476.65" y1="350.50" x2="476.65" y2="354.10" stroke="#000" stroke-width="0.9" />
<line x1="478.16" y1="350.50" x2="478.16" y2="354.10" stroke="#000" stroke-width="0.9" />
<line x1="479.43" y1="350.50" x2="479.43" y2="354.10" stroke="#000" stroke-width="0.9" />
<line x1="480.54" y1="350.50" x2="480.54" y2="354.10" stroke="#000" stroke-width="0.9" />
<line x1="481.51" y1="350.50" x2="481.51" y2="354.10" stroke="#000" stroke-width="0.9" />
<line x1="482.38" y1="350.50" x2="482.38" y2="357.10" stroke="#000" stroke-width="1" />
<text x="481.78" y="366.90" font-size="10.3" text-anchor="middle" >-5</text>
<line x1="488.11" y1="350.50" x2="488.11" y2="354.10" stroke="#000" stroke-width="0.9" />
<line x1="491.45" y1="350.50" x2="491.45" y2="354.10" stroke="#000" stroke-width="0.9" />
<line x1="493.83" y1="350.50" x2="493.83" y2="354.10" stroke="#000" stroke-width="0.9" />
<line x1="495.67" y1="350.50" x2="495.67" y2="354.10" stroke="#000" stroke-width="0.9" />
<line x1="497.18" y1="350.50" x2="497.18" y2="354.10" stroke="#000" stroke-width="0.9" />
<line x1="498.45" y1="350.50" x2="498.45" y2="354.10" stroke="#000" stroke-width="0.9" />
<line x1="499.56" y1="350.50" x2="499.56" y2="354.10" stroke="#000" stroke-width="0.9" />
<line x1="500.53" y1="350.50" x2="500.53" y2="354.10" stroke="#000" stroke-width="0.9" />
<line x1="501.40" y1="350.50" x2="501.40" y2="357.10" stroke="#000" stroke-width="1" />
<text x="500.80" y="366.90" font-size="10.3" text-anchor="middle" >-4</text>
<line x1="507.13" y1="350.50" x2="507.13" y2="354.10" stroke="#000" stroke-width="0.9" />
<line x1="510.47" y1="350.50" x2="510.47" y2="354.10" stroke="#000" stroke-width="0.9" />
<line x1="512.85" y1="350.50" x2="512.85" y2="354.10" stroke="#000" stroke-width="0.9" />
<line x1="514.69" y1="350.50" x2="514.69" y2="354.10" stroke="#000" stroke-width="0.9" />
<line x1="516.20" y1="350.50" x2="516.20" y2="354.10" stroke="#000" stroke-width="0.9" />
<line x1="517.47" y1="350.50" x2="517.47" y2="354.10" stroke="#000" stroke-width="0.9" />
<line x1="518.58" y1="350.50" x2="518.58" y2="354.10" stroke="#000" stroke-width="0.9" />
<line x1="519.55" y1="350.50" x2="519.55" y2="354.10" stroke="#000" stroke-width="0.9" />
<line x1="520.42" y1="350.50" x2="520.42" y2="357.10" stroke="#000" stroke-width="1" />
<text x="519.82" y="366.90" font-size="10.3" text-anchor="middle" >-3</text>
<text x="376.00" y="290.40" font-size="12" text-anchor="middle" transform="rotate(-90 376.00 290.40)" >Current Response (%)</text>
<text x="461.40" y="389.30" font-size="12.8" text-anchor="middle" >Borneol, Log [M]</text>
<text x="412.80" y="222.00" font-size="10.4" >TambOR49</text>
<line x1="410.00" y1="235.50" x2="421.20" y2="235.50" stroke="#007f00" stroke-width="1.3" />
<path d="M415.50,233.30 L418.15,238.30 L412.85,238.30 Z" fill="#007f00" />
<line x1="410.00" y1="249.90" x2="421.20" y2="249.90" stroke="#7cc47c" stroke-width="1.3" />
<path d="M415.50,252.10 L418.15,247.50 L412.85,247.50 Z" fill="#007f00" />
<text x="423.00" y="238.60" font-size="8.1" fill="#222" >(+)-Borneol (n=6)</text>
<text x="423.00" y="252.30" font-size="8.1" fill="#222" >(-)-Borneol (n=5)</text>
<line x1="408.50" y1="289.30" x2="521.00" y2="289.30" stroke="#999" stroke-width="0.7" stroke-dasharray="1.8,2.2"/>
<path d="M406.30,350.28 L407.73,350.27 L409.15,350.27 L410.58,350.26 L412.01,350.26 L413.43,350.25 L414.86,350.24 L416.29,350.23 L417.71,350.21 L419.14,350.20 L420.56,350.18 L421.99,350.15 L423.42,350.13 L424.84,350.09 L426.27,350.05 L427.70,350.01 L429.12,349.95 L430.55,349.89 L431.98,349.81 L433.40,349.72 L434.83,349.61 L436.26,349.48 L437.68,349.33 L439.11,349.15 L440.54,348.93 L441.96,348.68 L443.39,348.37 L444.82,348.02 L446.24,347.60 L447.67,347.10 L449.10,346.51 L450.52,345.83 L451.95,345.02 L453.37,344.07 L454.80,342.97 L456.23,341.68 L457.65,340.18 L459.08,338.46 L460.51,336.47 L461.93,334.19 L463.36,331.61 L464.79,328.68 L466.21,325.41 L467.64,321.78 L469.07,317.79 L470.49,313.45 L471.92,308.79 L473.35,303.84 L474.77,298.67 L476.20,293.32 L477.62,287.89 L479.05,282.45 L480.48,277.08 L481.90,271.85 L483.33,266.84 L484.76,262.09 L486.18,257.66 L487.61,253.58 L489.04,249.85 L490.46,246.48 L491.89,243.47 L493.32,240.80 L494.74,238.44 L496.17,236.38 L497.60,234.58 L499.02,233.03 L500.45,231.69 L501.88,230.54 L503.30,229.55 L504.73,228.71 L506.16,227.99 L507.58,227.38 L509.01,226.86 L510.43,226.42 L511.86,226.05 L513.29,225.73 L514.71,225.46 L516.14,225.24 L517.57,225.05 L518.99,224.89 L520.42,224.75" fill="none" stroke="#007f00" stroke-width="1.7" stroke-linejoin="round"/>
<path d="M406.30,350.29 L407.73,350.29 L409.15,350.29 L410.58,350.28 L412.01,350.28 L413.43,350.28 L414.86,350.27 L416.29,350.27 L417.71,350.26 L419.14,350.25 L420.56,350.24 L421.99,350.23 L423.42,350.22 L424.84,350.21 L426.27,350.19 L427.70,350.16 L429.12,350.14 L430.55,350.11 L431.98,350.07 L433.40,350.02 L434.83,349.97 L436.26,349.91 L437.68,349.83 L439.11,349.74 L440.54,349.63 L441.96,349.50 L443.39,349.35 L444.82,349.17 L446.24,348.95 L447.67,348.69 L449.10,348.38 L450.52,348.01 L451.95,347.58 L453.37,347.06 L454.80,346.45 L456.23,345.73 L457.65,344.88 L459.08,343.87 L460.51,342.70 L461.93,341.33 L463.36,339.73 L464.79,337.88 L466.21,335.74 L467.64,333.30 L469.07,330.52 L470.49,327.38 L471.92,323.87 L473.35,319.99 L474.77,315.73 L476.20,311.13 L477.62,306.22 L479.05,301.05 L480.48,295.69 L481.90,290.22 L483.33,284.72 L484.76,279.27 L486.18,273.97 L487.61,268.88 L489.04,264.07 L490.46,259.58 L491.89,255.45 L493.32,251.69 L494.74,248.30 L496.17,245.28 L497.60,242.62 L499.02,240.28 L500.45,238.24 L501.88,236.48 L503.30,234.96 L504.73,233.66 L506.16,232.54 L507.58,231.60 L509.01,230.79 L510.43,230.11 L511.86,229.53 L513.29,229.04 L514.71,228.63 L516.14,228.28 L517.57,227.99 L518.99,227.75 L520.42,227.54" fill="none" stroke="#007f00" stroke-width="1.7" stroke-linejoin="round"/>
<path d="M406.30,353.05 L411.10,344.35 L401.50,344.35 Z" fill="#007f00" />
<path d="M406.30,346.55 L411.10,355.25 L401.50,355.25 Z" fill="#007f00" />
<path d="M425.32,353.05 L430.12,344.35 L420.52,344.35 Z" fill="#007f00" />
<path d="M425.32,346.55 L430.12,355.25 L420.52,355.25 Z" fill="#007f00" />
<path d="M444.34,353.05 L449.14,344.35 L439.54,344.35 Z" fill="#007f00" />
<path d="M444.34,346.55 L449.14,355.25 L439.54,355.25 Z" fill="#007f00" />
<path d="M463.36,329.60 L468.16,338.30 L458.56,338.30 Z" fill="#007f00" />
<path d="M463.36,345.87 L468.16,337.17 L458.56,337.17 Z" fill="#007f00" />
<path d="M482.38,264.09 L487.18,272.79 L477.58,272.79 Z" fill="#007f00" />
<path d="M482.38,296.09 L487.18,287.39 L477.58,287.39 Z" fill="#007f00" />
<path d="M501.40,222.00 L506.20,230.70 L496.60,230.70 Z" fill="#007f00" />
<path d="M501.40,239.97 L506.20,231.27 L496.60,231.27 Z" fill="#007f00" />
<path d="M520.42,223.95 L525.22,232.65 L515.62,232.65 Z" fill="#007f00" />
<path d="M520.42,232.65 L525.22,223.95 L515.62,223.95 Z" fill="#007f00" />
<line x1="482.38" y1="268.44" x2="482.38" y2="261.48" stroke="#007f00" stroke-width="1" />
<line x1="477.58" y1="261.48" x2="487.18" y2="261.48" stroke="#007f00" stroke-width="1" />
<line x1="501.40" y1="226.35" x2="501.40" y2="216.95" stroke="#007f00" stroke-width="1" />
<line x1="496.60" y1="216.95" x2="506.20" y2="216.95" stroke="#007f00" stroke-width="1" />
<circle cx="458.50" cy="289.30" r="11.30" fill="#fff" stroke="#2a962a" stroke-width="0.9"/>
<path d="M458.50,280.00 L461.15,284.60 L455.85,284.60 Z" fill="#007f00" />
<text x="458.50" y="292.80" font-size="10.6" text-anchor="middle" fill="#333" >6.9</text>
<text x="458.70" y="298.10" font-size="4.8" text-anchor="middle" fill="#444" >µM</text>
<circle cx="503.80" cy="289.30" r="11.30" fill="#fff" stroke="#2a962a" stroke-width="0.9"/>
<path d="M503.80,284.60 L506.45,280.00 L501.15,280.00 Z" fill="#007f00" />
<text x="503.80" y="292.80" font-size="10.6" text-anchor="middle" fill="#333" >9.2</text>
<text x="504.00" y="298.10" font-size="4.8" text-anchor="middle" fill="#444" >µM</text>
<line x1="564.50" y1="228.80" x2="564.50" y2="350.70" stroke="#000" stroke-width="1" />
<line x1="559.40" y1="350.20" x2="564.50" y2="350.20" stroke="#000" stroke-width="1" />
<text x="556.80" y="354.20" font-size="10.5" text-anchor="end" >0</text>
<line x1="559.40" y1="326.02" x2="564.50" y2="326.02" stroke="#000" stroke-width="1" />
<text x="556.80" y="330.02" font-size="10.5" text-anchor="end" >20</text>
<line x1="559.40" y1="301.84" x2="564.50" y2="301.84" stroke="#000" stroke-width="1" />
<text x="556.80" y="305.84" font-size="10.5" text-anchor="end" >40</text>
<line x1="559.40" y1="277.66" x2="564.50" y2="277.66" stroke="#000" stroke-width="1" />
<text x="556.80" y="281.66" font-size="10.5" text-anchor="end" >60</text>
<line x1="559.40" y1="253.48" x2="564.50" y2="253.48" stroke="#000" stroke-width="1" />
<text x="556.80" y="257.48" font-size="10.5" text-anchor="end" >80</text>
<line x1="559.40" y1="229.30" x2="564.50" y2="229.30" stroke="#000" stroke-width="1" />
<text x="556.80" y="233.30" font-size="10.5" text-anchor="end" >100</text>
<line x1="564.50" y1="350.50" x2="679.10" y2="350.50" stroke="#000" stroke-width="1" />
<line x1="564.50" y1="350.50" x2="564.50" y2="357.10" stroke="#000" stroke-width="1" />
<text x="563.90" y="367.30" font-size="10.3" text-anchor="middle" >-9</text>
<line x1="570.25" y1="350.50" x2="570.25" y2="354.10" stroke="#000" stroke-width="0.9" />
<line x1="573.61" y1="350.50" x2="573.61" y2="354.10" stroke="#000" stroke-width="0.9" />
<line x1="576.00" y1="350.50" x2="576.00" y2="354.10" stroke="#000" stroke-width="0.9" />
<line x1="577.85" y1="350.50" x2="577.85" y2="354.10" stroke="#000" stroke-width="0.9" />
<line x1="579.36" y1="350.50" x2="579.36" y2="354.10" stroke="#000" stroke-width="0.9" />
<line x1="580.64" y1="350.50" x2="580.64" y2="354.10" stroke="#000" stroke-width="0.9" />
<line x1="581.75" y1="350.50" x2="581.75" y2="354.10" stroke="#000" stroke-width="0.9" />
<line x1="582.73" y1="350.50" x2="582.73" y2="354.10" stroke="#000" stroke-width="0.9" />
<line x1="583.60" y1="350.50" x2="583.60" y2="357.10" stroke="#000" stroke-width="1" />
<text x="583.00" y="367.30" font-size="10.3" text-anchor="middle" >-8</text>
<line x1="589.35" y1="350.50" x2="589.35" y2="354.10" stroke="#000" stroke-width="0.9" />
<line x1="592.71" y1="350.50" x2="592.71" y2="354.10" stroke="#000" stroke-width="0.9" />
<line x1="595.10" y1="350.50" x2="595.10" y2="354.10" stroke="#000" stroke-width="0.9" />
<line x1="596.95" y1="350.50" x2="596.95" y2="354.10" stroke="#000" stroke-width="0.9" />
<line x1="598.46" y1="350.50" x2="598.46" y2="354.10" stroke="#000" stroke-width="0.9" />
<line x1="599.74" y1="350.50" x2="599.74" y2="354.10" stroke="#000" stroke-width="0.9" />
<line x1="600.85" y1="350.50" x2="600.85" y2="354.10" stroke="#000" stroke-width="0.9" />
<line x1="601.83" y1="350.50" x2="601.83" y2="354.10" stroke="#000" stroke-width="0.9" />
<line x1="602.70" y1="350.50" x2="602.70" y2="357.10" stroke="#000" stroke-width="1" />
<text x="602.10" y="367.30" font-size="10.3" text-anchor="middle" >-7</text>
<line x1="608.45" y1="350.50" x2="608.45" y2="354.10" stroke="#000" stroke-width="0.9" />
<line x1="611.81" y1="350.50" x2="611.81" y2="354.10" stroke="#000" stroke-width="0.9" />
<line x1="614.20" y1="350.50" x2="614.20" y2="354.10" stroke="#000" stroke-width="0.9" />
<line x1="616.05" y1="350.50" x2="616.05" y2="354.10" stroke="#000" stroke-width="0.9" />
<line x1="617.56" y1="350.50" x2="617.56" y2="354.10" stroke="#000" stroke-width="0.9" />
<line x1="618.84" y1="350.50" x2="618.84" y2="354.10" stroke="#000" stroke-width="0.9" />
<line x1="619.95" y1="350.50" x2="619.95" y2="354.10" stroke="#000" stroke-width="0.9" />
<line x1="620.93" y1="350.50" x2="620.93" y2="354.10" stroke="#000" stroke-width="0.9" />
<line x1="621.80" y1="350.50" x2="621.80" y2="357.10" stroke="#000" stroke-width="1" />
<text x="621.20" y="367.30" font-size="10.3" text-anchor="middle" >-6</text>
<line x1="627.55" y1="350.50" x2="627.55" y2="354.10" stroke="#000" stroke-width="0.9" />
<line x1="630.91" y1="350.50" x2="630.91" y2="354.10" stroke="#000" stroke-width="0.9" />
<line x1="633.30" y1="350.50" x2="633.30" y2="354.10" stroke="#000" stroke-width="0.9" />
<line x1="635.15" y1="350.50" x2="635.15" y2="354.10" stroke="#000" stroke-width="0.9" />
<line x1="636.66" y1="350.50" x2="636.66" y2="354.10" stroke="#000" stroke-width="0.9" />
<line x1="637.94" y1="350.50" x2="637.94" y2="354.10" stroke="#000" stroke-width="0.9" />
<line x1="639.05" y1="350.50" x2="639.05" y2="354.10" stroke="#000" stroke-width="0.9" />
<line x1="640.03" y1="350.50" x2="640.03" y2="354.10" stroke="#000" stroke-width="0.9" />
<line x1="640.90" y1="350.50" x2="640.90" y2="357.10" stroke="#000" stroke-width="1" />
<text x="640.30" y="367.30" font-size="10.3" text-anchor="middle" >-5</text>
<line x1="646.65" y1="350.50" x2="646.65" y2="354.10" stroke="#000" stroke-width="0.9" />
<line x1="650.01" y1="350.50" x2="650.01" y2="354.10" stroke="#000" stroke-width="0.9" />
<line x1="652.40" y1="350.50" x2="652.40" y2="354.10" stroke="#000" stroke-width="0.9" />
<line x1="654.25" y1="350.50" x2="654.25" y2="354.10" stroke="#000" stroke-width="0.9" />
<line x1="655.76" y1="350.50" x2="655.76" y2="354.10" stroke="#000" stroke-width="0.9" />
<line x1="657.04" y1="350.50" x2="657.04" y2="354.10" stroke="#000" stroke-width="0.9" />
<line x1="658.15" y1="350.50" x2="658.15" y2="354.10" stroke="#000" stroke-width="0.9" />
<line x1="659.13" y1="350.50" x2="659.13" y2="354.10" stroke="#000" stroke-width="0.9" />
<line x1="660.00" y1="350.50" x2="660.00" y2="357.10" stroke="#000" stroke-width="1" />
<text x="659.40" y="367.30" font-size="10.3" text-anchor="middle" >-4</text>
<line x1="665.75" y1="350.50" x2="665.75" y2="354.10" stroke="#000" stroke-width="0.9" />
<line x1="669.11" y1="350.50" x2="669.11" y2="354.10" stroke="#000" stroke-width="0.9" />
<line x1="671.50" y1="350.50" x2="671.50" y2="354.10" stroke="#000" stroke-width="0.9" />
<line x1="673.35" y1="350.50" x2="673.35" y2="354.10" stroke="#000" stroke-width="0.9" />
<line x1="674.86" y1="350.50" x2="674.86" y2="354.10" stroke="#000" stroke-width="0.9" />
<line x1="676.14" y1="350.50" x2="676.14" y2="354.10" stroke="#000" stroke-width="0.9" />
<line x1="677.25" y1="350.50" x2="677.25" y2="354.10" stroke="#000" stroke-width="0.9" />
<line x1="678.23" y1="350.50" x2="678.23" y2="354.10" stroke="#000" stroke-width="0.9" />
<line x1="679.10" y1="350.50" x2="679.10" y2="357.10" stroke="#000" stroke-width="1" />
<text x="678.50" y="367.30" font-size="10.3" text-anchor="middle" >-3</text>
<text x="621.00" y="389.50" font-size="12.8" text-anchor="middle" >Borneol, Log [M]</text>
<text x="565.40" y="221.90" font-size="10.4" >AaegOR49 (n=6)</text>
<line x1="568.40" y1="238.40" x2="580.40" y2="238.40" stroke="#007f00" stroke-width="1.3" />
<path d="M574.40,236.10 L577.10,241.10 L571.70,241.10 Z" fill="#007f00" />
<line x1="568.40" y1="252.60" x2="580.40" y2="252.60" stroke="#007f00" stroke-width="1.3" />
<path d="M574.40,254.80 L577.10,250.20 L571.70,250.20 Z" fill="#007f00" />
<text x="586.10" y="241.20" font-size="10.6" fill="#222" >(+)-Borneol</text>
<text x="586.10" y="255.40" font-size="10.6" fill="#222" >(-)-Borneol</text>
<line x1="567.50" y1="289.70" x2="685.00" y2="289.70" stroke="#999" stroke-width="0.7" stroke-dasharray="1.8,2.2"/>
<path d="M564.50,350.20 L565.93,350.20 L567.37,350.20 L568.80,350.20 L570.23,350.20 L571.66,350.20 L573.10,350.19 L574.53,350.19 L575.96,350.19 L577.39,350.19 L578.83,350.19 L580.26,350.18 L581.69,350.18 L583.12,350.17 L584.55,350.17 L585.99,350.16 L587.42,350.15 L588.85,350.14 L590.28,350.12 L591.72,350.10 L593.15,350.07 L594.58,350.04 L596.01,350.00 L597.45,349.95 L598.88,349.89 L600.31,349.81 L601.75,349.71 L603.18,349.59 L604.61,349.44 L606.04,349.25 L607.48,349.01 L608.91,348.71 L610.34,348.34 L611.77,347.89 L613.21,347.32 L614.64,346.61 L616.07,345.74 L617.50,344.67 L618.93,343.36 L620.37,341.76 L621.80,339.81 L623.23,337.48 L624.66,334.68 L626.10,331.39 L627.53,327.54 L628.96,323.11 L630.39,318.10 L631.83,312.54 L633.26,306.49 L634.69,300.05 L636.12,293.36 L637.56,286.59 L638.99,279.89 L640.42,273.43 L641.86,267.35 L643.29,261.75 L644.72,256.70 L646.15,252.24 L647.59,248.35 L649.02,245.02 L650.45,242.20 L651.88,239.83 L653.32,237.86 L654.75,236.24 L656.18,234.91 L657.61,233.82 L659.05,232.94 L660.48,232.23 L661.91,231.65 L663.34,231.18 L664.77,230.81 L666.21,230.51 L667.64,230.27 L669.07,230.07 L670.50,229.92 L671.94,229.80 L673.37,229.70 L674.80,229.62 L676.24,229.55 L677.67,229.50 L679.10,229.46" fill="none" stroke="#007f00" stroke-width="1.7" stroke-linejoin="round"/>
<path d="M564.50,350.20 L565.93,350.20 L567.37,350.20 L568.80,350.20 L570.23,350.20 L571.66,350.20 L573.10,350.19 L574.53,350.19 L575.96,350.19 L577.39,350.19 L578.83,350.19 L580.26,350.18 L581.69,350.18 L583.12,350.18 L584.55,350.17 L585.99,350.16 L587.42,350.15 L588.85,350.14 L590.28,350.12 L591.72,350.10 L593.15,350.08 L594.58,350.05 L596.01,350.01 L597.45,349.97 L598.88,349.91 L600.31,349.83 L601.75,349.74 L603.18,349.63 L604.61,349.48 L606.04,349.31 L607.48,349.08 L608.91,348.80 L610.34,348.46 L611.77,348.03 L613.21,347.49 L614.64,346.83 L616.07,346.01 L617.50,345.01 L618.93,343.77 L620.37,342.26 L621.80,340.42 L623.23,338.20 L624.66,335.55 L626.10,332.41 L627.53,328.73 L628.96,324.48 L630.39,319.65 L631.83,314.26 L633.26,308.36 L634.69,302.04 L636.12,295.44 L637.56,288.70 L638.99,282.00 L640.42,275.49 L641.86,269.33 L643.29,263.62 L644.72,258.45 L646.15,253.86 L647.59,249.84 L649.02,246.38 L650.45,243.44 L651.88,240.97 L653.32,238.91 L654.75,237.21 L656.18,235.81 L657.61,234.67 L659.05,233.74 L660.48,232.99 L661.91,232.38 L663.34,231.89 L664.77,231.50 L666.21,231.18 L667.64,230.93 L669.07,230.72 L670.50,230.56 L671.94,230.43 L673.37,230.32 L674.80,230.24 L676.24,230.17 L677.67,230.12 L679.10,230.08" fill="none" stroke="#007f00" stroke-width="1.7" stroke-linejoin="round"/>
<path d="M564.50,354.55 L569.30,345.85 L559.70,345.85 Z" fill="#007f00" />
<path d="M564.50,345.85 L569.30,354.55 L559.70,354.55 Z" fill="#007f00" />
<path d="M583.60,354.55 L588.40,345.85 L578.80,345.85 Z" fill="#007f00" />
<path d="M583.60,345.85 L588.40,354.55 L578.80,354.55 Z" fill="#007f00" />
<path d="M602.70,347.54 L607.50,338.84 L597.90,338.84 Z" fill="#007f00" />
<path d="M602.70,345.37 L607.50,354.07 L597.90,354.07 Z" fill="#007f00" />
<path d="M621.80,343.55 L626.60,334.85 L617.00,334.85 Z" fill="#007f00" />
<path d="M621.80,334.85 L626.60,343.55 L617.00,343.55 Z" fill="#007f00" />
<path d="M640.90,284.43 L645.70,275.73 L636.10,275.73 Z" fill="#007f00" />
<path d="M640.90,275.73 L645.70,284.43 L636.10,284.43 Z" fill="#007f00" />
<path d="M660.00,232.56 L664.80,223.86 L655.20,223.86 Z" fill="#007f00" />
<path d="M660.00,225.31 L664.80,234.01 L655.20,234.01 Z" fill="#007f00" />
<path d="M679.10,240.42 L683.90,231.72 L674.30,231.72 Z" fill="#007f00" />
<path d="M679.10,236.44 L683.90,245.14 L674.30,245.14 Z" fill="#007f00" />
<circle cx="615.80" cy="289.70" r="11.30" fill="#fff" stroke="#2a962a" stroke-width="0.9"/>
<path d="M615.80,285.00 L618.45,280.40 L613.15,280.40 Z" fill="#007f00" />
<text x="615.80" y="293.20" font-size="10.6" text-anchor="middle" fill="#333" >6.8</text>
<text x="616.00" y="298.50" font-size="4.8" text-anchor="middle" fill="#444" >µM</text>
<circle cx="662.40" cy="289.70" r="11.30" fill="#fff" stroke="#2a962a" stroke-width="0.9"/>
<path d="M662.40,280.40 L665.05,285.00 L659.75,285.00 Z" fill="#007f00" />
<text x="662.40" y="293.20" font-size="10.6" text-anchor="middle" fill="#333" >7.2</text>
<text x="662.60" y="298.50" font-size="4.8" text-anchor="middle" fill="#444" >µM</text>
<text x="1.60" y="423.40" font-size="16" font-weight="bold" >f</text>
<text x="21.60" y="489.60" font-size="12.8" text-anchor="middle" transform="rotate(-90 21.60 489.60)" >Current Response (%)</text>
<line x1="55.80" y1="430.52" x2="55.80" y2="546.00" stroke="#777" stroke-width="1.2" />
<line x1="50.60" y1="545.50" x2="55.30" y2="545.50" stroke="#000" stroke-width="1" />
<text x="43.40" y="549.70" font-size="10.8" text-anchor="end" >0</text>
<line x1="50.60" y1="526.42" x2="55.30" y2="526.42" stroke="#000" stroke-width="1" />
<text x="43.40" y="530.62" font-size="10.8" text-anchor="end" >20</text>
<line x1="50.60" y1="507.34" x2="55.30" y2="507.34" stroke="#000" stroke-width="1" />
<text x="43.40" y="511.54" font-size="10.8" text-anchor="end" >40</text>
<line x1="50.60" y1="488.26" x2="55.30" y2="488.26" stroke="#000" stroke-width="1" />
<text x="43.40" y="492.46" font-size="10.8" text-anchor="end" >60</text>
<line x1="50.60" y1="469.18" x2="55.30" y2="469.18" stroke="#000" stroke-width="1" />
<text x="43.40" y="473.38" font-size="10.8" text-anchor="end" >80</text>
<line x1="50.60" y1="450.10" x2="55.30" y2="450.10" stroke="#000" stroke-width="1" />
<text x="43.40" y="454.30" font-size="10.8" text-anchor="end" >100</text>
<line x1="50.60" y1="431.02" x2="55.30" y2="431.02" stroke="#000" stroke-width="1" />
<text x="43.40" y="435.22" font-size="10.8" text-anchor="end" >120</text>
<line x1="55.70" y1="545.90" x2="169.52" y2="545.90" stroke="#000" stroke-width="1" />
<line x1="55.70" y1="545.90" x2="55.70" y2="552.50" stroke="#000" stroke-width="1" />
<text x="55.10" y="564.50" font-size="10.3" text-anchor="middle" >-9</text>
<line x1="61.41" y1="545.90" x2="61.41" y2="549.50" stroke="#000" stroke-width="0.9" />
<line x1="64.75" y1="545.90" x2="64.75" y2="549.50" stroke="#000" stroke-width="0.9" />
<line x1="67.12" y1="545.90" x2="67.12" y2="549.50" stroke="#000" stroke-width="0.9" />
<line x1="68.96" y1="545.90" x2="68.96" y2="549.50" stroke="#000" stroke-width="0.9" />
<line x1="70.46" y1="545.90" x2="70.46" y2="549.50" stroke="#000" stroke-width="0.9" />
<line x1="71.73" y1="545.90" x2="71.73" y2="549.50" stroke="#000" stroke-width="0.9" />
<line x1="72.83" y1="545.90" x2="72.83" y2="549.50" stroke="#000" stroke-width="0.9" />
<line x1="73.80" y1="545.90" x2="73.80" y2="549.50" stroke="#000" stroke-width="0.9" />
<line x1="74.67" y1="545.90" x2="74.67" y2="552.50" stroke="#000" stroke-width="1" />
<text x="74.07" y="564.50" font-size="10.3" text-anchor="middle" >-8</text>
<line x1="80.38" y1="545.90" x2="80.38" y2="549.50" stroke="#000" stroke-width="0.9" />
<line x1="83.72" y1="545.90" x2="83.72" y2="549.50" stroke="#000" stroke-width="0.9" />
<line x1="86.09" y1="545.90" x2="86.09" y2="549.50" stroke="#000" stroke-width="0.9" />
<line x1="87.93" y1="545.90" x2="87.93" y2="549.50" stroke="#000" stroke-width="0.9" />
<line x1="89.43" y1="545.90" x2="89.43" y2="549.50" stroke="#000" stroke-width="0.9" />
<line x1="90.70" y1="545.90" x2="90.70" y2="549.50" stroke="#000" stroke-width="0.9" />
<line x1="91.80" y1="545.90" x2="91.80" y2="549.50" stroke="#000" stroke-width="0.9" />
<line x1="92.77" y1="545.90" x2="92.77" y2="549.50" stroke="#000" stroke-width="0.9" />
<line x1="93.64" y1="545.90" x2="93.64" y2="552.50" stroke="#000" stroke-width="1" />
<text x="93.04" y="564.50" font-size="10.3" text-anchor="middle" >-7</text>
<line x1="99.35" y1="545.90" x2="99.35" y2="549.50" stroke="#000" stroke-width="0.9" />
<line x1="102.69" y1="545.90" x2="102.69" y2="549.50" stroke="#000" stroke-width="0.9" />
<line x1="105.06" y1="545.90" x2="105.06" y2="549.50" stroke="#000" stroke-width="0.9" />
<line x1="106.90" y1="545.90" x2="106.90" y2="549.50" stroke="#000" stroke-width="0.9" />
<line x1="108.40" y1="545.90" x2="108.40" y2="549.50" stroke="#000" stroke-width="0.9" />
<line x1="109.67" y1="545.90" x2="109.67" y2="549.50" stroke="#000" stroke-width="0.9" />
<line x1="110.77" y1="545.90" x2="110.77" y2="549.50" stroke="#000" stroke-width="0.9" />
<line x1="111.74" y1="545.90" x2="111.74" y2="549.50" stroke="#000" stroke-width="0.9" />
<line x1="112.61" y1="545.90" x2="112.61" y2="552.50" stroke="#000" stroke-width="1" />
<text x="112.01" y="564.50" font-size="10.3" text-anchor="middle" >-6</text>
<line x1="118.32" y1="545.90" x2="118.32" y2="549.50" stroke="#000" stroke-width="0.9" />
<line x1="121.66" y1="545.90" x2="121.66" y2="549.50" stroke="#000" stroke-width="0.9" />
<line x1="124.03" y1="545.90" x2="124.03" y2="549.50" stroke="#000" stroke-width="0.9" />
<line x1="125.87" y1="545.90" x2="125.87" y2="549.50" stroke="#000" stroke-width="0.9" />
<line x1="127.37" y1="545.90" x2="127.37" y2="549.50" stroke="#000" stroke-width="0.9" />
<line x1="128.64" y1="545.90" x2="128.64" y2="549.50" stroke="#000" stroke-width="0.9" />
<line x1="129.74" y1="545.90" x2="129.74" y2="549.50" stroke="#000" stroke-width="0.9" />
<line x1="130.71" y1="545.90" x2="130.71" y2="549.50" stroke="#000" stroke-width="0.9" />
<line x1="131.58" y1="545.90" x2="131.58" y2="552.50" stroke="#000" stroke-width="1" />
<text x="130.98" y="564.50" font-size="10.3" text-anchor="middle" >-5</text>
<line x1="137.29" y1="545.90" x2="137.29" y2="549.50" stroke="#000" stroke-width="0.9" />
<line x1="140.63" y1="545.90" x2="140.63" y2="549.50" stroke="#000" stroke-width="0.9" />
<line x1="143.00" y1="545.90" x2="143.00" y2="549.50" stroke="#000" stroke-width="0.9" />
<line x1="144.84" y1="545.90" x2="144.84" y2="549.50" stroke="#000" stroke-width="0.9" />
<line x1="146.34" y1="545.90" x2="146.34" y2="549.50" stroke="#000" stroke-width="0.9" />
<line x1="147.61" y1="545.90" x2="147.61" y2="549.50" stroke="#000" stroke-width="0.9" />
<line x1="148.71" y1="545.90" x2="148.71" y2="549.50" stroke="#000" stroke-width="0.9" />
<line x1="149.68" y1="545.90" x2="149.68" y2="549.50" stroke="#000" stroke-width="0.9" />
<line x1="150.55" y1="545.90" x2="150.55" y2="552.50" stroke="#000" stroke-width="1" />
<text x="149.95" y="564.50" font-size="10.3" text-anchor="middle" >-4</text>
<line x1="156.26" y1="545.90" x2="156.26" y2="549.50" stroke="#000" stroke-width="0.9" />
<line x1="159.60" y1="545.90" x2="159.60" y2="549.50" stroke="#000" stroke-width="0.9" />
<line x1="161.97" y1="545.90" x2="161.97" y2="549.50" stroke="#000" stroke-width="0.9" />
<line x1="163.81" y1="545.90" x2="163.81" y2="549.50" stroke="#000" stroke-width="0.9" />
<line x1="165.31" y1="545.90" x2="165.31" y2="549.50" stroke="#000" stroke-width="0.9" />
<line x1="166.58" y1="545.90" x2="166.58" y2="549.50" stroke="#000" stroke-width="0.9" />
<line x1="167.68" y1="545.90" x2="167.68" y2="549.50" stroke="#000" stroke-width="0.9" />
<line x1="168.65" y1="545.90" x2="168.65" y2="549.50" stroke="#000" stroke-width="0.9" />
<line x1="169.52" y1="545.90" x2="169.52" y2="552.50" stroke="#000" stroke-width="1" />
<text x="168.92" y="564.50" font-size="10.3" text-anchor="middle" >-3</text>
<text x="56.00" y="425.70" font-size="10.4" >TambOR49</text>
<line x1="53.40" y1="497.60" x2="170.00" y2="497.60" stroke="#999" stroke-width="0.7" stroke-dasharray="1.8,2.2"/>
<line x1="53.40" y1="497.60" x2="57.20" y2="497.60" stroke="#222" stroke-width="0.9" />
<path d="M55.70,545.50 L57.12,545.50 L58.55,545.50 L59.97,545.50 L61.39,545.50 L62.81,545.50 L64.24,545.50 L65.66,545.50 L67.08,545.50 L68.50,545.50 L69.93,545.50 L71.35,545.50 L72.77,545.49 L74.20,545.49 L75.62,545.49 L77.04,545.49 L78.46,545.48 L79.89,545.48 L81.31,545.47 L82.73,545.47 L84.16,545.46 L85.58,545.45 L87.00,545.44 L88.42,545.42 L89.85,545.40 L91.27,545.37 L92.69,545.34 L94.11,545.29 L95.54,545.24 L96.96,545.17 L98.38,545.08 L99.81,544.97 L101.23,544.84 L102.65,544.67 L104.07,544.45 L105.50,544.18 L106.92,543.84 L108.34,543.41 L109.76,542.87 L111.19,542.21 L112.61,541.38 L114.03,540.36 L115.46,539.10 L116.88,537.55 L118.30,535.68 L119.72,533.42 L121.15,530.74 L122.57,527.58 L123.99,523.93 L125.41,519.78 L126.84,515.15 L128.26,510.11 L129.68,504.75 L131.11,499.19 L132.53,493.59 L133.95,488.08 L135.37,482.81 L136.80,477.90 L138.22,473.43 L139.64,469.44 L141.06,465.96 L142.49,462.96 L143.91,460.43 L145.33,458.30 L146.76,456.54 L148.18,455.10 L149.60,453.92 L151.02,452.97 L152.45,452.20 L153.87,451.58 L155.29,451.08 L156.72,450.69 L158.14,450.37 L159.56,450.12 L160.98,449.92 L162.41,449.76 L163.83,449.63 L165.25,449.53 L166.67,449.45 L168.10,449.39 L169.52,449.34" fill="none" stroke="#8a8a8a" stroke-width="1.5" stroke-linejoin="round"/>
<path d="M55.70,545.50 L57.12,545.50 L58.55,545.50 L59.97,545.50 L61.39,545.50 L62.81,545.49 L64.24,545.49 L65.66,545.49 L67.08,545.49 L68.50,545.49 L69.93,545.48 L71.35,545.48 L72.77,545.47 L74.20,545.47 L75.62,545.46 L77.04,545.45 L78.46,545.44 L79.89,545.43 L81.31,545.41 L82.73,545.39 L84.16,545.36 L85.58,545.33 L87.00,545.28 L88.42,545.23 L89.85,545.17 L91.27,545.09 L92.69,544.99 L94.11,544.87 L95.54,544.71 L96.96,544.53 L98.38,544.29 L99.81,544.01 L101.23,543.66 L102.65,543.22 L104.07,542.69 L105.50,542.03 L106.92,541.23 L108.34,540.26 L109.76,539.08 L111.19,537.66 L112.61,535.95 L114.03,533.91 L115.46,531.52 L116.88,528.72 L118.30,525.49 L119.72,521.82 L121.15,517.71 L122.57,513.20 L123.99,508.33 L125.41,503.19 L126.84,497.89 L128.26,492.54 L129.68,487.27 L131.11,482.19 L132.53,477.41 L133.95,472.99 L135.37,468.99 L136.80,465.44 L138.22,462.32 L139.64,459.62 L141.06,457.32 L142.49,455.37 L143.91,453.74 L145.33,452.38 L146.76,451.26 L148.18,450.33 L149.60,449.57 L151.02,448.95 L152.45,448.44 L153.87,448.03 L155.29,447.70 L156.72,447.43 L158.14,447.21 L159.56,447.03 L160.98,446.89 L162.41,446.77 L163.83,446.68 L165.25,446.60 L166.67,446.54 L168.10,446.49 L169.52,446.45" fill="none" stroke="#007f00" stroke-width="1.6" stroke-linejoin="round"/>
<path d="M106.92,538.57 L111.72,547.27 L102.12,547.27 Z" fill="#8c8c8c" />
<path d="M112.61,534.19 L117.41,542.89 L107.81,542.89 Z" fill="#8c8c8c" />
<path d="M125.89,510.24 L130.69,518.94 L121.09,518.94 Z" fill="#8c8c8c" />
<path d="M131.58,494.79 L136.38,503.49 L126.78,503.49 Z" fill="#8c8c8c" />
<path d="M144.86,454.34 L149.66,463.04 L140.06,463.04 Z" fill="#8c8c8c" />
<path d="M150.55,447.66 L155.35,456.36 L145.75,456.36 Z" fill="#8c8c8c" />
<line x1="131.58" y1="499.14" x2="131.58" y2="493.98" stroke="#8c8c8c" stroke-width="1" />
<line x1="128.08" y1="493.98" x2="135.08" y2="493.98" stroke="#8c8c8c" stroke-width="1" />
<line x1="150.55" y1="452.01" x2="150.55" y2="447.72" stroke="#8c8c8c" stroke-width="1" />
<line x1="147.05" y1="447.72" x2="154.05" y2="447.72" stroke="#8c8c8c" stroke-width="1" />
<path d="M55.70,541.15 L60.50,549.85 L50.90,549.85 Z" fill="#007f00" />
<path d="M74.67,541.15 L79.47,549.85 L69.87,549.85 Z" fill="#007f00" />
<path d="M93.64,541.15 L98.44,549.85 L88.84,549.85 Z" fill="#007f00" />
<path d="M112.61,528.75 L117.41,537.45 L107.81,537.45 Z" fill="#007f00" />
<path d="M131.58,477.23 L136.38,485.93 L126.78,485.93 Z" fill="#007f00" />
<path d="M150.55,444.80 L155.35,453.50 L145.75,453.50 Z" fill="#007f00" />
<path d="M169.52,446.70 L174.32,455.40 L164.72,455.40 Z" fill="#007f00" />
<line x1="131.58" y1="481.58" x2="131.58" y2="476.34" stroke="#007f00" stroke-width="1" />
<line x1="127.08" y1="476.34" x2="136.08" y2="476.34" stroke="#007f00" stroke-width="1" />
<line x1="150.55" y1="449.15" x2="150.55" y2="441.51" stroke="#007f00" stroke-width="1" />
<line x1="146.05" y1="441.51" x2="155.05" y2="441.51" stroke="#007f00" stroke-width="1" />
<circle cx="109.70" cy="497.20" r="11.30" fill="#fff" stroke="#2a962a" stroke-width="0.9"/>
<text x="109.70" y="500.70" font-size="10.6" text-anchor="middle" fill="#333" >6</text>
<text x="109.90" y="506.00" font-size="4.8" text-anchor="middle" fill="#444" >µM</text>
<circle cx="151.40" cy="497.20" r="11.30" fill="#fff" stroke="#888" stroke-width="0.9"/>
<text x="151.40" y="500.70" font-size="10.6" text-anchor="middle" fill="#333" >10</text>
<text x="151.60" y="506.00" font-size="4.8" text-anchor="middle" fill="#444" >µM</text>
<path d="M63.40,434.00 L67.40,441.20 L59.40,441.20 Z" fill="#007f00" />
<path d="M63.40,447.40 L67.40,454.60 L59.40,454.60 Z" fill="#8c8c8c" />
<text x="71.00" y="439.30" font-size="10.5" fill="#222" >(+)-Borneol (n=5)</text>
<text x="71.00" y="452.80" font-size="10.5" fill="#222" >(+)-Camphor</text>
<text x="71.00" y="465.50" font-size="10.5" fill="#222" >(n=8)</text>
<line x1="229.60" y1="430.30" x2="229.60" y2="546.40" stroke="#000" stroke-width="1" />
<line x1="224.40" y1="545.90" x2="229.10" y2="545.90" stroke="#000" stroke-width="1" />
<text x="221.40" y="550.10" font-size="10.8" text-anchor="end" >0</text>
<line x1="224.40" y1="522.88" x2="229.10" y2="522.88" stroke="#000" stroke-width="1" />
<text x="221.40" y="527.08" font-size="10.8" text-anchor="end" >20</text>
<line x1="224.40" y1="499.86" x2="229.10" y2="499.86" stroke="#000" stroke-width="1" />
<text x="221.40" y="504.06" font-size="10.8" text-anchor="end" >40</text>
<line x1="224.40" y1="476.84" x2="229.10" y2="476.84" stroke="#000" stroke-width="1" />
<text x="221.40" y="481.04" font-size="10.8" text-anchor="end" >60</text>
<line x1="224.40" y1="453.82" x2="229.10" y2="453.82" stroke="#000" stroke-width="1" />
<text x="221.40" y="458.02" font-size="10.8" text-anchor="end" >80</text>
<line x1="224.40" y1="430.80" x2="229.10" y2="430.80" stroke="#000" stroke-width="1" />
<text x="221.40" y="435.00" font-size="10.8" text-anchor="end" >100</text>
<line x1="229.40" y1="546.30" x2="343.08" y2="546.30" stroke="#000" stroke-width="1" />
<line x1="229.40" y1="546.30" x2="229.40" y2="552.90" stroke="#000" stroke-width="1" />
<text x="228.80" y="564.50" font-size="10.3" text-anchor="middle" >-9</text>
<line x1="234.29" y1="546.30" x2="234.29" y2="549.90" stroke="#000" stroke-width="0.9" />
<line x1="237.15" y1="546.30" x2="237.15" y2="549.90" stroke="#000" stroke-width="0.9" />
<line x1="239.18" y1="546.30" x2="239.18" y2="549.90" stroke="#000" stroke-width="0.9" />
<line x1="240.75" y1="546.30" x2="240.75" y2="549.90" stroke="#000" stroke-width="0.9" />
<line x1="242.04" y1="546.30" x2="242.04" y2="549.90" stroke="#000" stroke-width="0.9" />
<line x1="243.12" y1="546.30" x2="243.12" y2="549.90" stroke="#000" stroke-width="0.9" />
<line x1="244.07" y1="546.30" x2="244.07" y2="549.90" stroke="#000" stroke-width="0.9" />
<line x1="244.90" y1="546.30" x2="244.90" y2="549.90" stroke="#000" stroke-width="0.9" />
<line x1="245.64" y1="546.30" x2="245.64" y2="552.90" stroke="#000" stroke-width="1" />
<text x="245.04" y="564.50" font-size="10.3" text-anchor="middle" >-8</text>
<line x1="250.53" y1="546.30" x2="250.53" y2="549.90" stroke="#000" stroke-width="0.9" />
<line x1="253.39" y1="546.30" x2="253.39" y2="549.90" stroke="#000" stroke-width="0.9" />
<line x1="255.42" y1="546.30" x2="255.42" y2="549.90" stroke="#000" stroke-width="0.9" />
<line x1="256.99" y1="546.30" x2="256.99" y2="549.90" stroke="#000" stroke-width="0.9" />
<line x1="258.28" y1="546.30" x2="258.28" y2="549.90" stroke="#000" stroke-width="0.9" />
<line x1="259.36" y1="546.30" x2="259.36" y2="549.90" stroke="#000" stroke-width="0.9" />
<line x1="260.31" y1="546.30" x2="260.31" y2="549.90" stroke="#000" stroke-width="0.9" />
<line x1="261.14" y1="546.30" x2="261.14" y2="549.90" stroke="#000" stroke-width="0.9" />
<line x1="261.88" y1="546.30" x2="261.88" y2="552.90" stroke="#000" stroke-width="1" />
<text x="261.28" y="564.50" font-size="10.3" text-anchor="middle" >-7</text>
<line x1="266.77" y1="546.30" x2="266.77" y2="549.90" stroke="#000" stroke-width="0.9" />
<line x1="269.63" y1="546.30" x2="269.63" y2="549.90" stroke="#000" stroke-width="0.9" />
<line x1="271.66" y1="546.30" x2="271.66" y2="549.90" stroke="#000" stroke-width="0.9" />
<line x1="273.23" y1="546.30" x2="273.23" y2="549.90" stroke="#000" stroke-width="0.9" />
<line x1="274.52" y1="546.30" x2="274.52" y2="549.90" stroke="#000" stroke-width="0.9" />
<line x1="275.60" y1="546.30" x2="275.60" y2="549.90" stroke="#000" stroke-width="0.9" />
<line x1="276.55" y1="546.30" x2="276.55" y2="549.90" stroke="#000" stroke-width="0.9" />
<line x1="277.38" y1="546.30" x2="277.38" y2="549.90" stroke="#000" stroke-width="0.9" />
<line x1="278.12" y1="546.30" x2="278.12" y2="552.90" stroke="#000" stroke-width="1" />
<text x="277.52" y="564.50" font-size="10.3" text-anchor="middle" >-6</text>
<line x1="283.01" y1="546.30" x2="283.01" y2="549.90" stroke="#000" stroke-width="0.9" />
<line x1="285.87" y1="546.30" x2="285.87" y2="549.90" stroke="#000" stroke-width="0.9" />
<line x1="287.90" y1="546.30" x2="287.90" y2="549.90" stroke="#000" stroke-width="0.9" />
<line x1="289.47" y1="546.30" x2="289.47" y2="549.90" stroke="#000" stroke-width="0.9" />
<line x1="290.76" y1="546.30" x2="290.76" y2="549.90" stroke="#000" stroke-width="0.9" />
<line x1="291.84" y1="546.30" x2="291.84" y2="549.90" stroke="#000" stroke-width="0.9" />
<line x1="292.79" y1="546.30" x2="292.79" y2="549.90" stroke="#000" stroke-width="0.9" />
<line x1="293.62" y1="546.30" x2="293.62" y2="549.90" stroke="#000" stroke-width="0.9" />
<line x1="294.36" y1="546.30" x2="294.36" y2="552.90" stroke="#000" stroke-width="1" />
<text x="293.76" y="564.50" font-size="10.3" text-anchor="middle" >-5</text>
<line x1="299.25" y1="546.30" x2="299.25" y2="549.90" stroke="#000" stroke-width="0.9" />
<line x1="302.11" y1="546.30" x2="302.11" y2="549.90" stroke="#000" stroke-width="0.9" />
<line x1="304.14" y1="546.30" x2="304.14" y2="549.90" stroke="#000" stroke-width="0.9" />
<line x1="305.71" y1="546.30" x2="305.71" y2="549.90" stroke="#000" stroke-width="0.9" />
<line x1="307.00" y1="546.30" x2="307.00" y2="549.90" stroke="#000" stroke-width="0.9" />
<line x1="308.08" y1="546.30" x2="308.08" y2="549.90" stroke="#000" stroke-width="0.9" />
<line x1="309.03" y1="546.30" x2="309.03" y2="549.90" stroke="#000" stroke-width="0.9" />
<line x1="309.86" y1="546.30" x2="309.86" y2="549.90" stroke="#000" stroke-width="0.9" />
<line x1="310.60" y1="546.30" x2="310.60" y2="552.90" stroke="#000" stroke-width="1" />
<text x="310.00" y="564.50" font-size="10.3" text-anchor="middle" >-4</text>
<line x1="315.49" y1="546.30" x2="315.49" y2="549.90" stroke="#000" stroke-width="0.9" />
<line x1="318.35" y1="546.30" x2="318.35" y2="549.90" stroke="#000" stroke-width="0.9" />
<line x1="320.38" y1="546.30" x2="320.38" y2="549.90" stroke="#000" stroke-width="0.9" />
<line x1="321.95" y1="546.30" x2="321.95" y2="549.90" stroke="#000" stroke-width="0.9" />
<line x1="323.24" y1="546.30" x2="323.24" y2="549.90" stroke="#000" stroke-width="0.9" />
<line x1="324.32" y1="546.30" x2="324.32" y2="549.90" stroke="#000" stroke-width="0.9" />
<line x1="325.27" y1="546.30" x2="325.27" y2="549.90" stroke="#000" stroke-width="0.9" />
<line x1="326.10" y1="546.30" x2="326.10" y2="549.90" stroke="#000" stroke-width="0.9" />
<line x1="326.84" y1="546.30" x2="326.84" y2="552.90" stroke="#000" stroke-width="1" />
<text x="326.24" y="564.50" font-size="10.3" text-anchor="middle" >-3</text>
<line x1="331.73" y1="546.30" x2="331.73" y2="549.90" stroke="#000" stroke-width="0.9" />
<line x1="334.59" y1="546.30" x2="334.59" y2="549.90" stroke="#000" stroke-width="0.9" />
<line x1="336.62" y1="546.30" x2="336.62" y2="549.90" stroke="#000" stroke-width="0.9" />
<line x1="338.19" y1="546.30" x2="338.19" y2="549.90" stroke="#000" stroke-width="0.9" />
<line x1="339.48" y1="546.30" x2="339.48" y2="549.90" stroke="#000" stroke-width="0.9" />
<line x1="340.56" y1="546.30" x2="340.56" y2="549.90" stroke="#000" stroke-width="0.9" />
<line x1="341.51" y1="546.30" x2="341.51" y2="549.90" stroke="#000" stroke-width="0.9" />
<line x1="342.34" y1="546.30" x2="342.34" y2="549.90" stroke="#000" stroke-width="0.9" />
<line x1="343.08" y1="546.30" x2="343.08" y2="552.90" stroke="#000" stroke-width="1" />
<text x="342.48" y="564.50" font-size="10.3" text-anchor="middle" >-2</text>
<text x="230.50" y="425.70" font-size="10.4" >CquiOR38 (n=5)</text>
<line x1="227.60" y1="488.30" x2="345.00" y2="488.30" stroke="#999" stroke-width="0.7" stroke-dasharray="1.8,2.2"/>
<path d="M229.40,545.90 L230.70,545.90 L232.00,545.90 L233.30,545.90 L234.60,545.90 L235.90,545.90 L237.20,545.90 L238.49,545.90 L239.79,545.90 L241.09,545.90 L242.39,545.90 L243.69,545.90 L244.99,545.90 L246.29,545.90 L247.59,545.90 L248.89,545.90 L250.19,545.90 L251.49,545.90 L252.79,545.89 L254.08,545.89 L255.38,545.89 L256.68,545.89 L257.98,545.89 L259.28,545.88 L260.58,545.88 L261.88,545.88 L263.18,545.87 L264.48,545.86 L265.78,545.86 L267.08,545.85 L268.38,545.83 L269.68,545.82 L270.97,545.80 L272.27,545.78 L273.57,545.75 L274.87,545.71 L276.17,545.66 L277.47,545.61 L278.77,545.54 L280.07,545.46 L281.37,545.35 L282.67,545.22 L283.97,545.07 L285.27,544.87 L286.56,544.63 L287.86,544.33 L289.16,543.97 L290.46,543.52 L291.76,542.98 L293.06,542.31 L294.36,541.49 L295.66,540.50 L296.96,539.29 L298.26,537.83 L299.56,536.08 L300.86,533.99 L302.16,531.52 L303.45,528.60 L304.75,525.21 L306.05,521.32 L307.35,516.89 L308.65,511.95 L309.95,506.53 L311.25,500.68 L312.55,494.51 L313.85,488.12 L315.15,481.67 L316.45,475.29 L317.75,469.11 L319.04,463.26 L320.34,457.84 L321.64,452.90 L322.94,448.48 L324.24,444.58 L325.54,441.19 L326.84,438.28 L328.14,435.80 L329.44,433.71 L330.74,431.96 L332.04,430.50 L333.34,429.30" fill="none" stroke="#8a8a8a" stroke-width="1.5" stroke-linejoin="round"/>
<path d="M229.40,545.32 L230.62,545.32 L231.84,545.32 L233.05,545.31 L234.27,545.31 L235.49,545.31 L236.71,545.30 L237.93,545.30 L239.14,545.30 L240.36,545.29 L241.58,545.28 L242.80,545.27 L244.02,545.26 L245.23,545.25 L246.45,545.23 L247.67,545.21 L248.89,545.19 L250.11,545.16 L251.32,545.12 L252.54,545.08 L253.76,545.03 L254.98,544.96 L256.20,544.89 L257.41,544.80 L258.63,544.68 L259.85,544.55 L261.07,544.38 L262.29,544.18 L263.50,543.94 L264.72,543.65 L265.94,543.30 L267.16,542.88 L268.38,542.38 L269.59,541.77 L270.81,541.04 L272.03,540.17 L273.25,539.14 L274.47,537.91 L275.68,536.46 L276.90,534.75 L278.12,532.76 L279.34,530.46 L280.56,527.80 L281.77,524.79 L282.99,521.39 L284.21,517.61 L285.43,513.47 L286.65,508.99 L287.86,504.23 L289.08,499.25 L290.30,494.15 L291.52,489.01 L292.74,483.92 L293.95,478.98 L295.17,474.27 L296.39,469.86 L297.61,465.78 L298.83,462.08 L300.04,458.76 L301.26,455.82 L302.48,453.24 L303.70,451.00 L304.92,449.07 L306.13,447.42 L307.35,446.01 L308.57,444.82 L309.79,443.82 L311.01,442.98 L312.22,442.28 L313.44,441.70 L314.66,441.21 L315.88,440.80 L317.10,440.46 L318.31,440.19 L319.53,439.95 L320.75,439.76 L321.97,439.60 L323.19,439.47 L324.40,439.37 L325.62,439.28 L326.84,439.20" fill="none" stroke="#007f00" stroke-width="1.6" stroke-linejoin="round"/>
<path d="M261.88,541.55 L266.68,550.25 L257.08,550.25 Z" fill="#8c8c8c" />
<path d="M278.12,536.60 L282.92,545.30 L273.32,545.30 Z" fill="#8c8c8c" />
<path d="M294.36,535.10 L299.16,543.80 L289.56,543.80 Z" fill="#8c8c8c" />
<path d="M310.60,505.06 L315.40,513.76 L305.80,513.76 Z" fill="#8c8c8c" />
<path d="M326.84,427.03 L331.64,435.73 L322.04,435.73 Z" fill="#8c8c8c" />
<path d="M343.08,427.03 L347.88,435.73 L338.28,435.73 Z" fill="#8c8c8c" />
<path d="M229.40,541.55 L234.20,550.25 L224.60,550.25 Z" fill="#007f00" />
<path d="M245.64,541.55 L250.44,550.25 L240.84,550.25 Z" fill="#007f00" />
<path d="M261.88,541.55 L266.68,550.25 L257.08,550.25 Z" fill="#007f00" />
<path d="M278.12,528.54 L282.92,537.24 L273.32,537.24 Z" fill="#007f00" />
<path d="M294.36,474.10 L299.16,482.80 L289.56,482.80 Z" fill="#007f00" />
<path d="M310.60,427.03 L315.40,435.73 L305.80,435.73 Z" fill="#007f00" />
<path d="M326.84,447.74 L331.64,456.44 L322.04,456.44 Z" fill="#007f00" />
<circle cx="272.10" cy="488.30" r="11.30" fill="#fff" stroke="#2a962a" stroke-width="0.9"/>
<text x="272.10" y="491.80" font-size="10.6" text-anchor="middle" fill="#333" >5.7</text>
<text x="272.30" y="497.10" font-size="4.8" text-anchor="middle" fill="#444" >µM</text>
<circle cx="335.60" cy="488.30" r="11.30" fill="#fff" stroke="#888" stroke-width="0.9"/>
<text x="335.60" y="491.80" font-size="10.6" text-anchor="middle" fill="#333" >194</text>
<text x="335.80" y="497.10" font-size="4.8" text-anchor="middle" fill="#444" >µM</text>
<line x1="397.10" y1="431.60" x2="397.10" y2="546.50" stroke="#000" stroke-width="1" />
<line x1="391.90" y1="546.00" x2="396.60" y2="546.00" stroke="#000" stroke-width="1" />
<text x="389.30" y="550.20" font-size="10.8" text-anchor="end" >0</text>
<line x1="391.90" y1="523.22" x2="396.60" y2="523.22" stroke="#000" stroke-width="1" />
<text x="389.30" y="527.42" font-size="10.8" text-anchor="end" >20</text>
<line x1="391.90" y1="500.44" x2="396.60" y2="500.44" stroke="#000" stroke-width="1" />
<text x="389.30" y="504.64" font-size="10.8" text-anchor="end" >40</text>
<line x1="391.90" y1="477.66" x2="396.60" y2="477.66" stroke="#000" stroke-width="1" />
<text x="389.30" y="481.86" font-size="10.8" text-anchor="end" >60</text>
<line x1="391.90" y1="454.88" x2="396.60" y2="454.88" stroke="#000" stroke-width="1" />
<text x="389.30" y="459.08" font-size="10.8" text-anchor="end" >80</text>
<line x1="391.90" y1="432.10" x2="396.60" y2="432.10" stroke="#000" stroke-width="1" />
<text x="389.30" y="436.30" font-size="10.8" text-anchor="end" >100</text>
<line x1="397.10" y1="546.40" x2="511.13" y2="546.40" stroke="#000" stroke-width="1" />
<line x1="397.10" y1="546.40" x2="397.10" y2="553.00" stroke="#000" stroke-width="1" />
<text x="396.50" y="564.50" font-size="10.3" text-anchor="middle" >-9</text>
<line x1="402.00" y1="546.40" x2="402.00" y2="550.00" stroke="#000" stroke-width="0.9" />
<line x1="404.87" y1="546.40" x2="404.87" y2="550.00" stroke="#000" stroke-width="0.9" />
<line x1="406.91" y1="546.40" x2="406.91" y2="550.00" stroke="#000" stroke-width="0.9" />
<line x1="408.49" y1="546.40" x2="408.49" y2="550.00" stroke="#000" stroke-width="0.9" />
<line x1="409.78" y1="546.40" x2="409.78" y2="550.00" stroke="#000" stroke-width="0.9" />
<line x1="410.87" y1="546.40" x2="410.87" y2="550.00" stroke="#000" stroke-width="0.9" />
<line x1="411.81" y1="546.40" x2="411.81" y2="550.00" stroke="#000" stroke-width="0.9" />
<line x1="412.64" y1="546.40" x2="412.64" y2="550.00" stroke="#000" stroke-width="0.9" />
<line x1="413.39" y1="546.40" x2="413.39" y2="553.00" stroke="#000" stroke-width="1" />
<text x="412.79" y="564.50" font-size="10.3" text-anchor="middle" >-8</text>
<line x1="418.29" y1="546.40" x2="418.29" y2="550.00" stroke="#000" stroke-width="0.9" />
<line x1="421.16" y1="546.40" x2="421.16" y2="550.00" stroke="#000" stroke-width="0.9" />
<line x1="423.20" y1="546.40" x2="423.20" y2="550.00" stroke="#000" stroke-width="0.9" />
<line x1="424.78" y1="546.40" x2="424.78" y2="550.00" stroke="#000" stroke-width="0.9" />
<line x1="426.07" y1="546.40" x2="426.07" y2="550.00" stroke="#000" stroke-width="0.9" />
<line x1="427.16" y1="546.40" x2="427.16" y2="550.00" stroke="#000" stroke-width="0.9" />
<line x1="428.10" y1="546.40" x2="428.10" y2="550.00" stroke="#000" stroke-width="0.9" />
<line x1="428.93" y1="546.40" x2="428.93" y2="550.00" stroke="#000" stroke-width="0.9" />
<line x1="429.68" y1="546.40" x2="429.68" y2="553.00" stroke="#000" stroke-width="1" />
<text x="429.08" y="564.50" font-size="10.3" text-anchor="middle" >-7</text>
<line x1="434.58" y1="546.40" x2="434.58" y2="550.00" stroke="#000" stroke-width="0.9" />
<line x1="437.45" y1="546.40" x2="437.45" y2="550.00" stroke="#000" stroke-width="0.9" />
<line x1="439.49" y1="546.40" x2="439.49" y2="550.00" stroke="#000" stroke-width="0.9" />
<line x1="441.07" y1="546.40" x2="441.07" y2="550.00" stroke="#000" stroke-width="0.9" />
<line x1="442.36" y1="546.40" x2="442.36" y2="550.00" stroke="#000" stroke-width="0.9" />
<line x1="443.45" y1="546.40" x2="443.45" y2="550.00" stroke="#000" stroke-width="0.9" />
<line x1="444.39" y1="546.40" x2="444.39" y2="550.00" stroke="#000" stroke-width="0.9" />
<line x1="445.22" y1="546.40" x2="445.22" y2="550.00" stroke="#000" stroke-width="0.9" />
<line x1="445.97" y1="546.40" x2="445.97" y2="553.00" stroke="#000" stroke-width="1" />
<text x="445.37" y="564.50" font-size="10.3" text-anchor="middle" >-6</text>
<line x1="450.87" y1="546.40" x2="450.87" y2="550.00" stroke="#000" stroke-width="0.9" />
<line x1="453.74" y1="546.40" x2="453.74" y2="550.00" stroke="#000" stroke-width="0.9" />
<line x1="455.78" y1="546.40" x2="455.78" y2="550.00" stroke="#000" stroke-width="0.9" />
<line x1="457.36" y1="546.40" x2="457.36" y2="550.00" stroke="#000" stroke-width="0.9" />
<line x1="458.65" y1="546.40" x2="458.65" y2="550.00" stroke="#000" stroke-width="0.9" />
<line x1="459.74" y1="546.40" x2="459.74" y2="550.00" stroke="#000" stroke-width="0.9" />
<line x1="460.68" y1="546.40" x2="460.68" y2="550.00" stroke="#000" stroke-width="0.9" />
<line x1="461.51" y1="546.40" x2="461.51" y2="550.00" stroke="#000" stroke-width="0.9" />
<line x1="462.26" y1="546.40" x2="462.26" y2="553.00" stroke="#000" stroke-width="1" />
<text x="461.66" y="564.50" font-size="10.3" text-anchor="middle" >-5</text>
<line x1="467.16" y1="546.40" x2="467.16" y2="550.00" stroke="#000" stroke-width="0.9" />
<line x1="470.03" y1="546.40" x2="470.03" y2="550.00" stroke="#000" stroke-width="0.9" />
<line x1="472.07" y1="546.40" x2="472.07" y2="550.00" stroke="#000" stroke-width="0.9" />
<line x1="473.65" y1="546.40" x2="473.65" y2="550.00" stroke="#000" stroke-width="0.9" />
<line x1="474.94" y1="546.40" x2="474.94" y2="550.00" stroke="#000" stroke-width="0.9" />
<line x1="476.03" y1="546.40" x2="476.03" y2="550.00" stroke="#000" stroke-width="0.9" />
<line x1="476.97" y1="546.40" x2="476.97" y2="550.00" stroke="#000" stroke-width="0.9" />
<line x1="477.80" y1="546.40" x2="477.80" y2="550.00" stroke="#000" stroke-width="0.9" />
<line x1="478.55" y1="546.40" x2="478.55" y2="553.00" stroke="#000" stroke-width="1" />
<text x="477.95" y="564.50" font-size="10.3" text-anchor="middle" >-4</text>
<line x1="483.45" y1="546.40" x2="483.45" y2="550.00" stroke="#000" stroke-width="0.9" />
<line x1="486.32" y1="546.40" x2="486.32" y2="550.00" stroke="#000" stroke-width="0.9" />
<line x1="488.36" y1="546.40" x2="488.36" y2="550.00" stroke="#000" stroke-width="0.9" />
<line x1="489.94" y1="546.40" x2="489.94" y2="550.00" stroke="#000" stroke-width="0.9" />
<line x1="491.23" y1="546.40" x2="491.23" y2="550.00" stroke="#000" stroke-width="0.9" />
<line x1="492.32" y1="546.40" x2="492.32" y2="550.00" stroke="#000" stroke-width="0.9" />
<line x1="493.26" y1="546.40" x2="493.26" y2="550.00" stroke="#000" stroke-width="0.9" />
<line x1="494.09" y1="546.40" x2="494.09" y2="550.00" stroke="#000" stroke-width="0.9" />
<line x1="494.84" y1="546.40" x2="494.84" y2="553.00" stroke="#000" stroke-width="1" />
<text x="494.24" y="564.50" font-size="10.3" text-anchor="middle" >-3</text>
<line x1="499.74" y1="546.40" x2="499.74" y2="550.00" stroke="#000" stroke-width="0.9" />
<line x1="502.61" y1="546.40" x2="502.61" y2="550.00" stroke="#000" stroke-width="0.9" />
<line x1="504.65" y1="546.40" x2="504.65" y2="550.00" stroke="#000" stroke-width="0.9" />
<line x1="506.23" y1="546.40" x2="506.23" y2="550.00" stroke="#000" stroke-width="0.9" />
<line x1="507.52" y1="546.40" x2="507.52" y2="550.00" stroke="#000" stroke-width="0.9" />
<line x1="508.61" y1="546.40" x2="508.61" y2="550.00" stroke="#000" stroke-width="0.9" />
<line x1="509.55" y1="546.40" x2="509.55" y2="550.00" stroke="#000" stroke-width="0.9" />
<line x1="510.38" y1="546.40" x2="510.38" y2="550.00" stroke="#000" stroke-width="0.9" />
<line x1="511.13" y1="546.40" x2="511.13" y2="553.00" stroke="#000" stroke-width="1" />
<text x="510.53" y="564.50" font-size="10.3" text-anchor="middle" >-2</text>
<text x="400.30" y="425.70" font-size="10.4" >AaegOR49 (n=5)</text>
<line x1="395.10" y1="488.30" x2="512.00" y2="488.30" stroke="#999" stroke-width="0.7" stroke-dasharray="1.8,2.2"/>
<path d="M397.10,546.00 L398.53,546.00 L399.95,546.00 L401.38,546.00 L402.80,546.00 L404.23,546.00 L405.65,546.00 L407.08,546.00 L408.50,546.00 L409.93,546.00 L411.35,546.00 L412.78,546.00 L414.20,546.00 L415.63,546.00 L417.06,546.00 L418.48,546.00 L419.91,546.00 L421.33,546.00 L422.76,545.99 L424.18,545.99 L425.61,545.99 L427.03,545.99 L428.46,545.99 L429.88,545.98 L431.31,545.98 L432.73,545.97 L434.16,545.97 L435.59,545.96 L437.01,545.95 L438.44,545.93 L439.86,545.92 L441.29,545.90 L442.71,545.87 L444.14,545.84 L445.56,545.79 L446.99,545.74 L448.41,545.67 L449.84,545.58 L451.26,545.48 L452.69,545.34 L454.12,545.17 L455.54,544.96 L456.97,544.69 L458.39,544.35 L459.82,543.93 L461.24,543.40 L462.67,542.74 L464.09,541.92 L465.52,540.90 L466.94,539.65 L468.37,538.11 L469.79,536.22 L471.22,533.94 L472.64,531.20 L474.07,527.95 L475.50,524.14 L476.92,519.74 L478.35,514.75 L479.77,509.21 L481.20,503.19 L482.62,496.80 L484.05,490.19 L485.47,483.54 L486.90,477.02 L488.32,470.79 L489.75,464.99 L491.17,459.71 L492.60,455.01 L494.03,450.90 L495.45,447.36 L496.88,444.37 L498.30,441.86 L499.73,439.78 L501.15,438.07 L502.58,436.67 L504.00,435.54 L505.43,434.62 L506.85,433.88 L508.28,433.29 L509.70,432.82 L511.13,432.44" fill="none" stroke="#8a8a8a" stroke-width="1.5" stroke-linejoin="round"/>
<path d="M397.10,545.08 L398.23,545.08 L399.36,545.08 L400.49,545.08 L401.62,545.08 L402.75,545.07 L403.88,545.07 L405.01,545.07 L406.14,545.06 L407.27,545.06 L408.40,545.05 L409.53,545.04 L410.66,545.04 L411.79,545.03 L412.92,545.01 L414.05,545.00 L415.18,544.98 L416.31,544.96 L417.44,544.94 L418.57,544.91 L419.70,544.88 L420.83,544.84 L421.96,544.79 L423.09,544.74 L424.22,544.67 L425.35,544.59 L426.48,544.50 L427.61,544.39 L428.74,544.26 L429.87,544.10 L431.00,543.92 L432.13,543.70 L433.26,543.44 L434.39,543.13 L435.52,542.77 L436.65,542.35 L437.78,541.85 L438.91,541.26 L440.04,540.56 L441.17,539.75 L442.30,538.80 L443.43,537.69 L444.56,536.41 L445.70,534.92 L446.83,533.20 L447.96,531.23 L449.09,528.99 L450.22,526.45 L451.35,523.60 L452.48,520.42 L453.61,516.92 L454.74,513.09 L455.87,508.97 L457.00,504.57 L458.13,499.94 L459.26,495.14 L460.39,490.23 L461.52,485.29 L462.65,480.38 L463.78,475.58 L464.91,470.95 L466.04,466.55 L467.17,462.42 L468.30,458.60 L469.43,455.09 L470.56,451.91 L471.69,449.05 L472.82,446.51 L473.95,444.27 L475.08,442.30 L476.21,440.58 L477.34,439.09 L478.47,437.80 L479.60,436.69 L480.73,435.74 L481.86,434.92 L482.99,434.23 L484.12,433.64 L485.25,433.14 L486.38,432.71 L487.51,432.35" fill="none" stroke="#007f00" stroke-width="1.6" stroke-linejoin="round"/>
<path d="M429.68,541.65 L434.48,550.35 L424.88,550.35 Z" fill="#8c8c8c" />
<path d="M445.97,541.65 L450.77,550.35 L441.17,550.35 Z" fill="#8c8c8c" />
<path d="M462.26,535.16 L467.06,543.86 L457.46,543.86 Z" fill="#8c8c8c" />
<path d="M478.55,509.19 L483.35,517.89 L473.75,517.89 Z" fill="#8c8c8c" />
<path d="M494.84,443.70 L499.64,452.40 L490.04,452.40 Z" fill="#8c8c8c" />
<path d="M511.13,427.75 L515.93,436.45 L506.33,436.45 Z" fill="#8c8c8c" />
<path d="M397.10,541.65 L401.90,550.35 L392.30,550.35 Z" fill="#007f00" />
<path d="M413.39,541.65 L418.19,550.35 L408.59,550.35 Z" fill="#007f00" />
<path d="M429.68,541.65 L434.48,550.35 L424.88,550.35 Z" fill="#007f00" />
<path d="M445.97,525.70 L450.77,534.40 L441.17,534.40 Z" fill="#007f00" />
<path d="M462.26,483.90 L467.06,492.60 L457.46,492.60 Z" fill="#007f00" />
<path d="M478.55,427.75 L483.35,436.45 L473.75,436.45 Z" fill="#007f00" />
<path d="M494.84,430.26 L499.64,438.96 L490.04,438.96 Z" fill="#007f00" />
<circle cx="441.20" cy="488.30" r="11.30" fill="#fff" stroke="#2a962a" stroke-width="0.9"/>
<text x="441.20" y="491.80" font-size="10.6" text-anchor="middle" fill="#333" >9.2</text>
<text x="441.40" y="497.10" font-size="4.8" text-anchor="middle" fill="#444" >µM</text>
<circle cx="499.00" cy="488.30" r="11.30" fill="#fff" stroke="#888" stroke-width="0.9"/>
<text x="499.00" y="491.80" font-size="10.6" text-anchor="middle" fill="#333" >281</text>
<text x="499.20" y="497.10" font-size="4.8" text-anchor="middle" fill="#444" >µM</text>
<line x1="564.60" y1="431.60" x2="564.60" y2="546.50" stroke="#000" stroke-width="1" />
<line x1="559.40" y1="546.00" x2="564.10" y2="546.00" stroke="#000" stroke-width="1" />
<text x="556.80" y="550.20" font-size="10.8" text-anchor="end" >0</text>
<line x1="559.40" y1="523.22" x2="564.10" y2="523.22" stroke="#000" stroke-width="1" />
<text x="556.80" y="527.42" font-size="10.8" text-anchor="end" >20</text>
<line x1="559.40" y1="500.44" x2="564.10" y2="500.44" stroke="#000" stroke-width="1" />
<text x="556.80" y="504.64" font-size="10.8" text-anchor="end" >40</text>
<line x1="559.40" y1="477.66" x2="564.10" y2="477.66" stroke="#000" stroke-width="1" />
<text x="556.80" y="481.86" font-size="10.8" text-anchor="end" >60</text>
<line x1="559.40" y1="454.88" x2="564.10" y2="454.88" stroke="#000" stroke-width="1" />
<text x="556.80" y="459.08" font-size="10.8" text-anchor="end" >80</text>
<line x1="559.40" y1="432.10" x2="564.10" y2="432.10" stroke="#000" stroke-width="1" />
<text x="556.80" y="436.30" font-size="10.8" text-anchor="end" >100</text>
<line x1="564.60" y1="546.40" x2="678.49" y2="546.40" stroke="#000" stroke-width="1" />
<line x1="564.60" y1="546.40" x2="564.60" y2="553.00" stroke="#000" stroke-width="1" />
<text x="564.00" y="564.50" font-size="10.3" text-anchor="middle" >-9</text>
<line x1="569.50" y1="546.40" x2="569.50" y2="550.00" stroke="#000" stroke-width="0.9" />
<line x1="572.36" y1="546.40" x2="572.36" y2="550.00" stroke="#000" stroke-width="0.9" />
<line x1="574.40" y1="546.40" x2="574.40" y2="550.00" stroke="#000" stroke-width="0.9" />
<line x1="575.97" y1="546.40" x2="575.97" y2="550.00" stroke="#000" stroke-width="0.9" />
<line x1="577.26" y1="546.40" x2="577.26" y2="550.00" stroke="#000" stroke-width="0.9" />
<line x1="578.35" y1="546.40" x2="578.35" y2="550.00" stroke="#000" stroke-width="0.9" />
<line x1="579.29" y1="546.40" x2="579.29" y2="550.00" stroke="#000" stroke-width="0.9" />
<line x1="580.13" y1="546.40" x2="580.13" y2="550.00" stroke="#000" stroke-width="0.9" />
<line x1="580.87" y1="546.40" x2="580.87" y2="553.00" stroke="#000" stroke-width="1" />
<text x="580.27" y="564.50" font-size="10.3" text-anchor="middle" >-8</text>
<line x1="585.77" y1="546.40" x2="585.77" y2="550.00" stroke="#000" stroke-width="0.9" />
<line x1="588.63" y1="546.40" x2="588.63" y2="550.00" stroke="#000" stroke-width="0.9" />
<line x1="590.67" y1="546.40" x2="590.67" y2="550.00" stroke="#000" stroke-width="0.9" />
<line x1="592.24" y1="546.40" x2="592.24" y2="550.00" stroke="#000" stroke-width="0.9" />
<line x1="593.53" y1="546.40" x2="593.53" y2="550.00" stroke="#000" stroke-width="0.9" />
<line x1="594.62" y1="546.40" x2="594.62" y2="550.00" stroke="#000" stroke-width="0.9" />
<line x1="595.56" y1="546.40" x2="595.56" y2="550.00" stroke="#000" stroke-width="0.9" />
<line x1="596.40" y1="546.40" x2="596.40" y2="550.00" stroke="#000" stroke-width="0.9" />
<line x1="597.14" y1="546.40" x2="597.14" y2="553.00" stroke="#000" stroke-width="1" />
<text x="596.54" y="564.50" font-size="10.3" text-anchor="middle" >-7</text>
<line x1="602.04" y1="546.40" x2="602.04" y2="550.00" stroke="#000" stroke-width="0.9" />
<line x1="604.90" y1="546.40" x2="604.90" y2="550.00" stroke="#000" stroke-width="0.9" />
<line x1="606.94" y1="546.40" x2="606.94" y2="550.00" stroke="#000" stroke-width="0.9" />
<line x1="608.51" y1="546.40" x2="608.51" y2="550.00" stroke="#000" stroke-width="0.9" />
<line x1="609.80" y1="546.40" x2="609.80" y2="550.00" stroke="#000" stroke-width="0.9" />
<line x1="610.89" y1="546.40" x2="610.89" y2="550.00" stroke="#000" stroke-width="0.9" />
<line x1="611.83" y1="546.40" x2="611.83" y2="550.00" stroke="#000" stroke-width="0.9" />
<line x1="612.67" y1="546.40" x2="612.67" y2="550.00" stroke="#000" stroke-width="0.9" />
<line x1="613.41" y1="546.40" x2="613.41" y2="553.00" stroke="#000" stroke-width="1" />
<text x="612.81" y="564.50" font-size="10.3" text-anchor="middle" >-6</text>
<line x1="618.31" y1="546.40" x2="618.31" y2="550.00" stroke="#000" stroke-width="0.9" />
<line x1="621.17" y1="546.40" x2="621.17" y2="550.00" stroke="#000" stroke-width="0.9" />
<line x1="623.21" y1="546.40" x2="623.21" y2="550.00" stroke="#000" stroke-width="0.9" />
<line x1="624.78" y1="546.40" x2="624.78" y2="550.00" stroke="#000" stroke-width="0.9" />
<line x1="626.07" y1="546.40" x2="626.07" y2="550.00" stroke="#000" stroke-width="0.9" />
<line x1="627.16" y1="546.40" x2="627.16" y2="550.00" stroke="#000" stroke-width="0.9" />
<line x1="628.10" y1="546.40" x2="628.10" y2="550.00" stroke="#000" stroke-width="0.9" />
<line x1="628.94" y1="546.40" x2="628.94" y2="550.00" stroke="#000" stroke-width="0.9" />
<line x1="629.68" y1="546.40" x2="629.68" y2="553.00" stroke="#000" stroke-width="1" />
<text x="629.08" y="564.50" font-size="10.3" text-anchor="middle" >-5</text>
<line x1="634.58" y1="546.40" x2="634.58" y2="550.00" stroke="#000" stroke-width="0.9" />
<line x1="637.44" y1="546.40" x2="637.44" y2="550.00" stroke="#000" stroke-width="0.9" />
<line x1="639.48" y1="546.40" x2="639.48" y2="550.00" stroke="#000" stroke-width="0.9" />
<line x1="641.05" y1="546.40" x2="641.05" y2="550.00" stroke="#000" stroke-width="0.9" />
<line x1="642.34" y1="546.40" x2="642.34" y2="550.00" stroke="#000" stroke-width="0.9" />
<line x1="643.43" y1="546.40" x2="643.43" y2="550.00" stroke="#000" stroke-width="0.9" />
<line x1="644.37" y1="546.40" x2="644.37" y2="550.00" stroke="#000" stroke-width="0.9" />
<line x1="645.21" y1="546.40" x2="645.21" y2="550.00" stroke="#000" stroke-width="0.9" />
<line x1="645.95" y1="546.40" x2="645.95" y2="553.00" stroke="#000" stroke-width="1" />
<text x="645.35" y="564.50" font-size="10.3" text-anchor="middle" >-4</text>
<line x1="650.85" y1="546.40" x2="650.85" y2="550.00" stroke="#000" stroke-width="0.9" />
<line x1="653.71" y1="546.40" x2="653.71" y2="550.00" stroke="#000" stroke-width="0.9" />
<line x1="655.75" y1="546.40" x2="655.75" y2="550.00" stroke="#000" stroke-width="0.9" />
<line x1="657.32" y1="546.40" x2="657.32" y2="550.00" stroke="#000" stroke-width="0.9" />
<line x1="658.61" y1="546.40" x2="658.61" y2="550.00" stroke="#000" stroke-width="0.9" />
<line x1="659.70" y1="546.40" x2="659.70" y2="550.00" stroke="#000" stroke-width="0.9" />
<line x1="660.64" y1="546.40" x2="660.64" y2="550.00" stroke="#000" stroke-width="0.9" />
<line x1="661.48" y1="546.40" x2="661.48" y2="550.00" stroke="#000" stroke-width="0.9" />
<line x1="662.22" y1="546.40" x2="662.22" y2="553.00" stroke="#000" stroke-width="1" />
<text x="661.62" y="564.50" font-size="10.3" text-anchor="middle" >-3</text>
<line x1="667.12" y1="546.40" x2="667.12" y2="550.00" stroke="#000" stroke-width="0.9" />
<line x1="669.98" y1="546.40" x2="669.98" y2="550.00" stroke="#000" stroke-width="0.9" />
<line x1="672.02" y1="546.40" x2="672.02" y2="550.00" stroke="#000" stroke-width="0.9" />
<line x1="673.59" y1="546.40" x2="673.59" y2="550.00" stroke="#000" stroke-width="0.9" />
<line x1="674.88" y1="546.40" x2="674.88" y2="550.00" stroke="#000" stroke-width="0.9" />
<line x1="675.97" y1="546.40" x2="675.97" y2="550.00" stroke="#000" stroke-width="0.9" />
<line x1="676.91" y1="546.40" x2="676.91" y2="550.00" stroke="#000" stroke-width="0.9" />
<line x1="677.75" y1="546.40" x2="677.75" y2="550.00" stroke="#000" stroke-width="0.9" />
<line x1="678.49" y1="546.40" x2="678.49" y2="553.00" stroke="#000" stroke-width="1" />
<text x="677.89" y="564.50" font-size="10.3" text-anchor="middle" >-2</text>
<text x="568.20" y="425.70" font-size="10.4" >AalbOR49 (n=5)</text>
<line x1="562.60" y1="488.30" x2="680.00" y2="488.30" stroke="#999" stroke-width="0.7" stroke-dasharray="1.8,2.2"/>
<path d="M564.60,546.00 L565.97,546.00 L567.35,546.00 L568.72,546.00 L570.09,546.00 L571.46,546.00 L572.84,546.00 L574.21,546.00 L575.58,546.00 L576.96,546.00 L578.33,546.00 L579.70,546.00 L581.07,546.00 L582.45,546.00 L583.82,546.00 L585.19,546.00 L586.56,546.00 L587.94,546.00 L589.31,546.00 L590.68,546.00 L592.06,546.00 L593.43,545.99 L594.80,545.99 L596.17,545.99 L597.55,545.99 L598.92,545.99 L600.29,545.98 L601.67,545.98 L603.04,545.97 L604.41,545.97 L605.78,545.96 L607.16,545.95 L608.53,545.93 L609.90,545.91 L611.27,545.89 L612.65,545.86 L614.02,545.82 L615.39,545.78 L616.77,545.72 L618.14,545.64 L619.51,545.55 L620.88,545.43 L622.26,545.28 L623.63,545.09 L625.00,544.84 L626.38,544.54 L627.75,544.15 L629.12,543.67 L630.49,543.06 L631.87,542.30 L633.24,541.35 L634.61,540.17 L635.98,538.71 L637.36,536.91 L638.73,534.72 L640.10,532.06 L641.48,528.88 L642.85,525.13 L644.22,520.76 L645.59,515.76 L646.97,510.17 L648.34,504.05 L649.71,497.51 L651.09,490.71 L652.46,483.84 L653.83,477.08 L655.20,470.60 L656.58,464.57 L657.95,459.09 L659.32,454.21 L660.69,449.95 L662.07,446.31 L663.44,443.23 L664.81,440.66 L666.19,438.55 L667.56,436.82 L668.93,435.41 L670.30,434.28 L671.68,433.37 L673.05,432.64 L674.42,432.05" fill="none" stroke="#8a8a8a" stroke-width="1.5" stroke-linejoin="round"/>
<path d="M564.60,545.43 L565.80,545.43 L567.00,545.42 L568.20,545.42 L569.40,545.42 L570.60,545.42 L571.80,545.42 L573.00,545.42 L574.20,545.41 L575.40,545.41 L576.60,545.41 L577.80,545.40 L579.00,545.40 L580.20,545.39 L581.40,545.38 L582.60,545.37 L583.80,545.36 L585.00,545.34 L586.20,545.32 L587.40,545.30 L588.60,545.28 L589.80,545.25 L591.00,545.21 L592.20,545.17 L593.40,545.11 L594.60,545.05 L595.80,544.97 L597.00,544.88 L598.20,544.77 L599.40,544.64 L600.60,544.48 L601.80,544.29 L603.00,544.06 L604.20,543.79 L605.40,543.47 L606.60,543.08 L607.80,542.62 L609.00,542.07 L610.20,541.42 L611.40,540.65 L612.60,539.73 L613.80,538.65 L615.00,537.38 L616.20,535.89 L617.40,534.16 L618.60,532.15 L619.80,529.84 L621.00,527.20 L622.20,524.20 L623.40,520.84 L624.60,517.10 L625.80,513.00 L627.00,508.55 L628.20,503.80 L629.40,498.80 L630.60,493.62 L631.80,488.34 L633.00,483.05 L634.19,477.84 L635.39,472.78 L636.59,467.96 L637.79,463.43 L638.99,459.23 L640.19,455.39 L641.39,451.92 L642.59,448.83 L643.79,446.09 L644.99,443.69 L646.19,441.61 L647.39,439.80 L648.59,438.25 L649.79,436.93 L650.99,435.80 L652.19,434.84 L653.39,434.03 L654.59,433.35 L655.79,432.77 L656.99,432.29 L658.19,431.88 L659.39,431.54 L660.59,431.26" fill="none" stroke="#007f00" stroke-width="1.6" stroke-linejoin="round"/>
<path d="M597.14,541.65 L601.94,550.35 L592.34,550.35 Z" fill="#8c8c8c" />
<path d="M613.41,541.65 L618.21,550.35 L608.61,550.35 Z" fill="#8c8c8c" />
<path d="M629.68,537.55 L634.48,546.25 L624.88,546.25 Z" fill="#8c8c8c" />
<path d="M645.95,511.58 L650.75,520.28 L641.15,520.28 Z" fill="#8c8c8c" />
<path d="M662.22,441.76 L667.02,450.46 L657.42,450.46 Z" fill="#8c8c8c" />
<path d="M678.49,427.75 L683.29,436.45 L673.69,436.45 Z" fill="#8c8c8c" />
<path d="M564.60,541.65 L569.40,550.35 L559.80,550.35 Z" fill="#007f00" />
<path d="M580.87,541.65 L585.67,550.35 L576.07,550.35 Z" fill="#007f00" />
<path d="M597.14,541.65 L601.94,550.35 L592.34,550.35 Z" fill="#007f00" />
<path d="M613.41,534.47 L618.21,543.17 L608.61,543.17 Z" fill="#007f00" />
<path d="M629.68,497.23 L634.48,505.93 L624.88,505.93 Z" fill="#007f00" />
<path d="M645.95,427.75 L650.75,436.45 L641.15,436.45 Z" fill="#007f00" />
<path d="M662.22,435.72 L667.02,444.42 L657.42,444.42 Z" fill="#007f00" />
<circle cx="607.20" cy="488.30" r="11.30" fill="#fff" stroke="#2a962a" stroke-width="0.9"/>
<text x="607.20" y="491.80" font-size="10.6" text-anchor="middle" fill="#333" >14</text>
<text x="607.40" y="497.10" font-size="4.8" text-anchor="middle" fill="#444" >µM</text>
<circle cx="670.50" cy="488.30" r="11.30" fill="#fff" stroke="#888" stroke-width="0.9"/>
<text x="670.50" y="491.80" font-size="10.6" text-anchor="middle" fill="#333" >265</text>
<text x="670.70" y="497.10" font-size="4.8" text-anchor="middle" fill="#444" >µM</text>
<text x="373.10" y="577.30" font-size="13" text-anchor="middle" >Odorant, Log [M]</text>
<text x="-0.60" y="591.30" font-size="16" font-weight="bold" >g</text>
<text x="25.60" y="633.80" font-size="12.7" text-anchor="middle" transform="rotate(-90 25.60 633.80)" >Current (nA)</text>
<line x1="59.60" y1="596.00" x2="59.60" y2="670.90" stroke="#000" stroke-width="1" />
<line x1="55.40" y1="670.40" x2="59.60" y2="670.40" stroke="#000" stroke-width="1" />
<text x="53.20" y="674.20" font-size="10.9" text-anchor="end" >0</text>
<line x1="57.20" y1="666.70" x2="59.60" y2="666.70" stroke="#000" stroke-width="0.9" />
<line x1="57.20" y1="663.01" x2="59.60" y2="663.01" stroke="#000" stroke-width="0.9" />
<line x1="57.20" y1="659.31" x2="59.60" y2="659.31" stroke="#000" stroke-width="0.9" />
<line x1="57.20" y1="655.62" x2="59.60" y2="655.62" stroke="#000" stroke-width="0.9" />
<line x1="55.40" y1="651.92" x2="59.60" y2="651.92" stroke="#000" stroke-width="1" />
<text x="53.20" y="655.72" font-size="10.9" text-anchor="end" >100</text>
<line x1="57.20" y1="648.23" x2="59.60" y2="648.23" stroke="#000" stroke-width="0.9" />
<line x1="57.20" y1="644.53" x2="59.60" y2="644.53" stroke="#000" stroke-width="0.9" />
<line x1="57.20" y1="640.84" x2="59.60" y2="640.84" stroke="#000" stroke-width="0.9" />
<line x1="57.20" y1="637.14" x2="59.60" y2="637.14" stroke="#000" stroke-width="0.9" />
<line x1="55.40" y1="633.45" x2="59.60" y2="633.45" stroke="#000" stroke-width="1" />
<text x="53.20" y="637.25" font-size="10.9" text-anchor="end" >200</text>
<line x1="57.20" y1="629.75" x2="59.60" y2="629.75" stroke="#000" stroke-width="0.9" />
<line x1="57.20" y1="626.06" x2="59.60" y2="626.06" stroke="#000" stroke-width="0.9" />
<line x1="57.20" y1="622.37" x2="59.60" y2="622.37" stroke="#000" stroke-width="0.9" />
<line x1="57.20" y1="618.67" x2="59.60" y2="618.67" stroke="#000" stroke-width="0.9" />
<line x1="55.40" y1="614.98" x2="59.60" y2="614.98" stroke="#000" stroke-width="1" />
<text x="53.20" y="618.77" font-size="10.9" text-anchor="end" >300</text>
<line x1="57.20" y1="611.28" x2="59.60" y2="611.28" stroke="#000" stroke-width="0.9" />
<line x1="57.20" y1="607.59" x2="59.60" y2="607.59" stroke="#000" stroke-width="0.9" />
<line x1="57.20" y1="603.89" x2="59.60" y2="603.89" stroke="#000" stroke-width="0.9" />
<line x1="57.20" y1="600.19" x2="59.60" y2="600.19" stroke="#000" stroke-width="0.9" />
<line x1="55.40" y1="596.50" x2="59.60" y2="596.50" stroke="#000" stroke-width="1" />
<text x="53.20" y="600.30" font-size="10.9" text-anchor="end" >400</text>
<line x1="59.60" y1="670.40" x2="351.80" y2="670.40" stroke="#000" stroke-width="1" />
<line x1="84.00" y1="670.40" x2="84.00" y2="674.40" stroke="#000" stroke-width="1" />
<text x="83.50" y="685.20" font-size="10.3" text-anchor="middle" >-8</text>
<line x1="124.40" y1="670.40" x2="124.40" y2="674.40" stroke="#000" stroke-width="1" />
<text x="123.90" y="685.20" font-size="10.3" text-anchor="middle" >-7</text>
<line x1="164.80" y1="670.40" x2="164.80" y2="674.40" stroke="#000" stroke-width="1" />
<text x="164.30" y="685.20" font-size="10.3" text-anchor="middle" >-6.3</text>
<line x1="205.20" y1="670.40" x2="205.20" y2="674.40" stroke="#000" stroke-width="1" />
<text x="204.70" y="685.20" font-size="10.3" text-anchor="middle" >-6</text>
<line x1="245.60" y1="670.40" x2="245.60" y2="674.40" stroke="#000" stroke-width="1" />
<text x="245.10" y="685.20" font-size="10.3" text-anchor="middle" >-5.3</text>
<line x1="286.00" y1="670.40" x2="286.00" y2="674.40" stroke="#000" stroke-width="1" />
<text x="285.50" y="685.20" font-size="10.3" text-anchor="middle" >-5</text>
<line x1="326.40" y1="670.40" x2="326.40" y2="674.40" stroke="#000" stroke-width="1" />
<text x="325.90" y="685.20" font-size="10.3" text-anchor="middle" >-4</text>
<rect x="68.10" y="670.40" width="15.90" height="2.06" fill="#777" />
<rect x="84.00" y="670.03" width="15.90" height="0.37" fill="#007a00" />
<rect x="69.45" y="669.10" width="1.30" height="1.10" fill="#000" opacity="0.45"/>
<rect x="71.45" y="669.10" width="1.30" height="1.10" fill="#000" opacity="0.45"/>
<rect x="73.45" y="669.10" width="1.30" height="1.10" fill="#000" opacity="0.45"/>
<rect x="75.45" y="669.10" width="1.30" height="1.10" fill="#000" opacity="0.45"/>
<rect x="77.45" y="669.10" width="1.30" height="1.10" fill="#000" opacity="0.45"/>
<rect x="79.45" y="669.10" width="1.30" height="1.10" fill="#000" opacity="0.45"/>
<rect x="81.45" y="669.10" width="1.30" height="1.10" fill="#000" opacity="0.45"/>
<rect x="85.35" y="669.10" width="1.30" height="1.10" fill="#000" opacity="0.45"/>
<rect x="87.35" y="669.10" width="1.30" height="1.10" fill="#000" opacity="0.45"/>
<rect x="89.35" y="669.10" width="1.30" height="1.10" fill="#000" opacity="0.45"/>
<rect x="91.35" y="669.10" width="1.30" height="1.10" fill="#000" opacity="0.45"/>
<rect x="93.35" y="669.10" width="1.30" height="1.10" fill="#000" opacity="0.45"/>
<rect x="95.35" y="669.10" width="1.30" height="1.10" fill="#000" opacity="0.45"/>
<rect x="97.35" y="669.10" width="1.30" height="1.10" fill="#000" opacity="0.45"/>
<rect x="124.40" y="669.85" width="15.90" height="0.55" fill="#007a00" />
<rect x="109.85" y="669.10" width="1.30" height="1.10" fill="#000" opacity="0.45"/>
<rect x="111.85" y="669.10" width="1.30" height="1.10" fill="#000" opacity="0.45"/>
<rect x="113.85" y="669.10" width="1.30" height="1.10" fill="#000" opacity="0.45"/>
<rect x="115.85" y="669.10" width="1.30" height="1.10" fill="#000" opacity="0.45"/>
<rect x="117.85" y="669.10" width="1.30" height="1.10" fill="#000" opacity="0.45"/>
<rect x="119.85" y="669.10" width="1.30" height="1.10" fill="#000" opacity="0.45"/>
<rect x="121.85" y="669.10" width="1.30" height="1.10" fill="#000" opacity="0.45"/>
<rect x="134.82" y="668.97" width="1.30" height="1.30" fill="#000" opacity="0.5"/>
<rect x="132.46" y="669.06" width="1.30" height="1.30" fill="#000" opacity="0.5"/>
<rect x="132.76" y="669.15" width="1.30" height="1.30" fill="#000" opacity="0.5"/>
<rect x="130.47" y="669.24" width="1.30" height="1.30" fill="#000" opacity="0.5"/>
<rect x="133.20" y="669.33" width="1.30" height="1.30" fill="#000" opacity="0.5"/>
<rect x="135.10" y="669.46" width="1.30" height="1.30" fill="#000" opacity="0.5"/>
<text x="124.90" y="659.40" font-size="10.6" text-anchor="middle" font-weight="bold" fill="#111" letter-spacing="-0.3">****</text>
<rect x="164.80" y="666.70" width="15.90" height="3.69" fill="#007a00" />
<line x1="172.75" y1="666.70" x2="172.75" y2="665.78" stroke="#000" stroke-width="0.9" />
<line x1="170.05" y1="665.78" x2="175.45" y2="665.78" stroke="#000" stroke-width="0.9" />
<rect x="150.25" y="669.10" width="1.30" height="1.10" fill="#000" opacity="0.45"/>
<rect x="152.25" y="669.10" width="1.30" height="1.10" fill="#000" opacity="0.45"/>
<rect x="154.25" y="669.10" width="1.30" height="1.10" fill="#000" opacity="0.45"/>
<rect x="156.25" y="669.10" width="1.30" height="1.10" fill="#000" opacity="0.45"/>
<rect x="158.25" y="669.10" width="1.30" height="1.10" fill="#000" opacity="0.45"/>
<rect x="160.25" y="669.10" width="1.30" height="1.10" fill="#000" opacity="0.45"/>
<rect x="162.25" y="669.10" width="1.30" height="1.10" fill="#000" opacity="0.45"/>
<rect x="169.85" y="664.49" width="1.30" height="1.30" fill="#000" opacity="0.5"/>
<rect x="169.17" y="665.16" width="1.30" height="1.30" fill="#000" opacity="0.5"/>
<rect x="168.96" y="665.81" width="1.30" height="1.30" fill="#000" opacity="0.5"/>
<rect x="174.65" y="666.40" width="1.30" height="1.30" fill="#000" opacity="0.5"/>
<rect x="172.25" y="666.88" width="1.30" height="1.30" fill="#000" opacity="0.5"/>
<rect x="170.70" y="667.43" width="1.30" height="1.30" fill="#000" opacity="0.5"/>
<text x="165.30" y="659.40" font-size="10.6" text-anchor="middle" font-weight="bold" fill="#111" letter-spacing="-0.3">****</text>
<rect x="205.20" y="664.86" width="15.90" height="5.54" fill="#007a00" />
<line x1="213.15" y1="664.86" x2="213.15" y2="664.12" stroke="#000" stroke-width="0.9" />
<line x1="210.45" y1="664.12" x2="215.85" y2="664.12" stroke="#000" stroke-width="0.9" />
<rect x="190.65" y="669.10" width="1.30" height="1.10" fill="#000" opacity="0.45"/>
<rect x="192.65" y="669.10" width="1.30" height="1.10" fill="#000" opacity="0.45"/>
<rect x="194.65" y="669.10" width="1.30" height="1.10" fill="#000" opacity="0.45"/>
<rect x="196.65" y="669.10" width="1.30" height="1.10" fill="#000" opacity="0.45"/>
<rect x="198.65" y="669.10" width="1.30" height="1.10" fill="#000" opacity="0.45"/>
<rect x="200.65" y="669.10" width="1.30" height="1.10" fill="#000" opacity="0.45"/>
<rect x="202.65" y="669.10" width="1.30" height="1.10" fill="#000" opacity="0.45"/>
<rect x="215.03" y="661.42" width="1.30" height="1.30" fill="#000" opacity="0.5"/>
<rect x="210.76" y="663.02" width="1.30" height="1.30" fill="#000" opacity="0.5"/>
<rect x="214.51" y="663.88" width="1.30" height="1.30" fill="#000" opacity="0.5"/>
<rect x="211.86" y="664.83" width="1.30" height="1.30" fill="#000" opacity="0.5"/>
<rect x="209.15" y="665.58" width="1.30" height="1.30" fill="#000" opacity="0.5"/>
<rect x="212.44" y="666.77" width="1.30" height="1.30" fill="#000" opacity="0.5"/>
<text x="205.70" y="659.40" font-size="10.6" text-anchor="middle" font-weight="bold" fill="#111" letter-spacing="-0.3">****</text>
<rect x="229.70" y="669.66" width="15.90" height="0.74" fill="#8c8c8c" />
<rect x="245.60" y="647.12" width="15.90" height="23.28" fill="#007a00" />
<line x1="253.55" y1="647.12" x2="253.55" y2="644.35" stroke="#000" stroke-width="0.9" />
<line x1="250.85" y1="644.35" x2="256.25" y2="644.35" stroke="#000" stroke-width="0.9" />
<rect x="234.16" y="668.73" width="1.30" height="1.30" fill="#000" opacity="0.5"/>
<rect x="235.54" y="668.81" width="1.30" height="1.30" fill="#000" opacity="0.5"/>
<rect x="240.40" y="668.96" width="1.30" height="1.30" fill="#000" opacity="0.5"/>
<rect x="235.37" y="669.07" width="1.30" height="1.30" fill="#000" opacity="0.5"/>
<rect x="239.23" y="669.13" width="1.30" height="1.30" fill="#000" opacity="0.5"/>
<rect x="236.78" y="669.30" width="1.30" height="1.30" fill="#000" opacity="0.5"/>
<rect x="250.47" y="636.05" width="1.30" height="1.30" fill="#000" opacity="0.5"/>
<rect x="252.50" y="642.06" width="1.30" height="1.30" fill="#000" opacity="0.5"/>
<rect x="256.35" y="644.92" width="1.30" height="1.30" fill="#000" opacity="0.5"/>
<rect x="255.74" y="648.45" width="1.30" height="1.30" fill="#000" opacity="0.5"/>
<rect x="255.53" y="651.07" width="1.30" height="1.30" fill="#000" opacity="0.5"/>
<rect x="256.48" y="653.46" width="1.30" height="1.30" fill="#000" opacity="0.5"/>
<text x="246.10" y="640.60" font-size="10.6" text-anchor="middle" font-weight="bold" fill="#111" letter-spacing="-0.3">****</text>
<rect x="270.10" y="668.18" width="15.90" height="2.22" fill="#8c8c8c" />
<rect x="286.00" y="639.18" width="15.90" height="31.22" fill="#007a00" />
<line x1="278.05" y1="668.18" x2="278.05" y2="667.26" stroke="#000" stroke-width="0.9" />
<line x1="275.35" y1="667.26" x2="280.75" y2="667.26" stroke="#000" stroke-width="0.9" />
<line x1="293.95" y1="639.18" x2="293.95" y2="635.30" stroke="#000" stroke-width="0.9" />
<line x1="291.25" y1="635.30" x2="296.65" y2="635.30" stroke="#000" stroke-width="0.9" />
<rect x="279.46" y="666.76" width="1.30" height="1.30" fill="#000" opacity="0.5"/>
<rect x="274.56" y="667.06" width="1.30" height="1.30" fill="#000" opacity="0.5"/>
<rect x="275.75" y="667.36" width="1.30" height="1.30" fill="#000" opacity="0.5"/>
<rect x="277.22" y="667.73" width="1.30" height="1.30" fill="#000" opacity="0.5"/>
<rect x="278.07" y="667.99" width="1.30" height="1.30" fill="#000" opacity="0.5"/>
<rect x="275.13" y="668.23" width="1.30" height="1.30" fill="#000" opacity="0.5"/>
<rect x="291.70" y="623.99" width="1.30" height="1.30" fill="#000" opacity="0.5"/>
<rect x="296.53" y="630.18" width="1.30" height="1.30" fill="#000" opacity="0.5"/>
<rect x="296.13" y="635.59" width="1.30" height="1.30" fill="#000" opacity="0.5"/>
<rect x="290.68" y="641.37" width="1.30" height="1.30" fill="#000" opacity="0.5"/>
<rect x="291.62" y="646.64" width="1.30" height="1.30" fill="#000" opacity="0.5"/>
<rect x="295.72" y="648.87" width="1.30" height="1.30" fill="#000" opacity="0.5"/>
<text x="286.50" y="621.80" font-size="10.6" text-anchor="middle" font-weight="bold" fill="#111" letter-spacing="-0.3">****</text>
<rect x="310.50" y="656.17" width="15.90" height="14.23" fill="#8c8c8c" />
<rect x="326.40" y="607.03" width="15.90" height="63.37" fill="#007a00" />
<line x1="318.45" y1="656.17" x2="318.45" y2="653.40" stroke="#000" stroke-width="0.9" />
<line x1="315.75" y1="653.40" x2="321.15" y2="653.40" stroke="#000" stroke-width="0.9" />
<line x1="334.35" y1="607.03" x2="334.35" y2="598.72" stroke="#000" stroke-width="0.9" />
<line x1="331.65" y1="598.72" x2="337.05" y2="598.72" stroke="#000" stroke-width="0.9" />
<rect x="315.68" y="650.47" width="1.30" height="1.30" fill="#000" opacity="0.5"/>
<rect x="316.05" y="652.91" width="1.30" height="1.30" fill="#000" opacity="0.5"/>
<rect x="318.75" y="654.24" width="1.30" height="1.30" fill="#000" opacity="0.5"/>
<rect x="315.88" y="657.17" width="1.30" height="1.30" fill="#000" opacity="0.5"/>
<rect x="317.57" y="658.14" width="1.30" height="1.30" fill="#000" opacity="0.5"/>
<rect x="317.03" y="660.01" width="1.30" height="1.30" fill="#000" opacity="0.5"/>
<rect x="332.89" y="586.00" width="1.30" height="1.30" fill="#000" opacity="0.5"/>
<rect x="334.95" y="587.52" width="1.30" height="1.30" fill="#000" opacity="0.5"/>
<rect x="331.33" y="601.35" width="1.30" height="1.30" fill="#000" opacity="0.5"/>
<rect x="336.72" y="610.87" width="1.30" height="1.30" fill="#000" opacity="0.5"/>
<rect x="330.50" y="622.85" width="1.30" height="1.30" fill="#000" opacity="0.5"/>
<rect x="335.46" y="630.24" width="1.30" height="1.30" fill="#000" opacity="0.5"/>
<text x="326.90" y="599.50" font-size="10.6" text-anchor="middle" font-weight="bold" fill="#111" letter-spacing="-0.3">****</text>
<text x="65.20" y="601.90" font-size="10.3" >TambOR49 (n=8)</text>
<rect x="64.50" y="609.70" width="17.40" height="9.30" fill="#8c8c8c" />
<rect x="64.50" y="625.60" width="17.40" height="9.70" fill="#007a00" />
<text x="87.60" y="618.40" font-size="10.6" fill="#222" >(+)-Camphor</text>
<text x="87.60" y="634.80" font-size="10.6" fill="#222" >(+)-Borneol</text>
<line x1="395.10" y1="595.60" x2="395.10" y2="670.90" stroke="#000" stroke-width="1" />
<line x1="391.50" y1="670.40" x2="395.10" y2="670.40" stroke="#000" stroke-width="1" />
<text x="388.00" y="674.20" font-size="10.9" text-anchor="end" >0</text>
<line x1="392.60" y1="662.97" x2="395.10" y2="662.97" stroke="#000" stroke-width="0.9" />
<line x1="391.50" y1="655.54" x2="395.10" y2="655.54" stroke="#000" stroke-width="1" />
<text x="388.00" y="659.34" font-size="10.9" text-anchor="end" >200</text>
<line x1="392.60" y1="648.11" x2="395.10" y2="648.11" stroke="#000" stroke-width="0.9" />
<line x1="391.50" y1="640.68" x2="395.10" y2="640.68" stroke="#000" stroke-width="1" />
<text x="388.00" y="644.48" font-size="10.9" text-anchor="end" >400</text>
<line x1="392.60" y1="633.25" x2="395.10" y2="633.25" stroke="#000" stroke-width="0.9" />
<line x1="391.50" y1="625.82" x2="395.10" y2="625.82" stroke="#000" stroke-width="1" />
<text x="388.00" y="629.62" font-size="10.9" text-anchor="end" >600</text>
<line x1="392.60" y1="618.39" x2="395.10" y2="618.39" stroke="#000" stroke-width="0.9" />
<line x1="391.50" y1="610.96" x2="395.10" y2="610.96" stroke="#000" stroke-width="1" />
<text x="388.00" y="614.76" font-size="10.9" text-anchor="end" >800</text>
<line x1="392.60" y1="603.53" x2="395.10" y2="603.53" stroke="#000" stroke-width="0.9" />
<line x1="391.50" y1="596.10" x2="395.10" y2="596.10" stroke="#000" stroke-width="1" />
<text x="388.00" y="599.90" font-size="10.9" text-anchor="end" >1000</text>
<line x1="395.10" y1="670.40" x2="685.00" y2="670.40" stroke="#000" stroke-width="1" />
<line x1="413.60" y1="670.40" x2="413.60" y2="674.40" stroke="#000" stroke-width="1" />
<text x="413.10" y="685.00" font-size="10.3" text-anchor="middle" >-8</text>
<line x1="455.60" y1="670.40" x2="455.60" y2="674.40" stroke="#000" stroke-width="1" />
<text x="455.10" y="685.00" font-size="10.3" text-anchor="middle" >-7</text>
<line x1="497.60" y1="670.40" x2="497.60" y2="674.40" stroke="#000" stroke-width="1" />
<text x="497.10" y="685.00" font-size="10.3" text-anchor="middle" >-6.3</text>
<line x1="539.60" y1="670.40" x2="539.60" y2="674.40" stroke="#000" stroke-width="1" />
<text x="539.10" y="685.00" font-size="10.3" text-anchor="middle" >-6</text>
<line x1="581.60" y1="670.40" x2="581.60" y2="674.40" stroke="#000" stroke-width="1" />
<text x="581.10" y="685.00" font-size="10.3" text-anchor="middle" >-5.3</text>
<line x1="623.60" y1="670.40" x2="623.60" y2="674.40" stroke="#000" stroke-width="1" />
<text x="623.10" y="685.00" font-size="10.3" text-anchor="middle" >-5</text>
<line x1="665.60" y1="670.40" x2="665.60" y2="674.40" stroke="#000" stroke-width="1" />
<text x="665.10" y="685.00" font-size="10.3" text-anchor="middle" >-4</text>
<rect x="413.60" y="669.66" width="15.70" height="0.74" fill="#007a00" />
<line x1="421.45" y1="669.66" x2="421.45" y2="669.29" stroke="#000" stroke-width="0.9" />
<line x1="418.75" y1="669.29" x2="424.15" y2="669.29" stroke="#000" stroke-width="0.9" />
<rect x="399.15" y="669.10" width="1.30" height="1.10" fill="#000" opacity="0.45"/>
<rect x="401.15" y="669.10" width="1.30" height="1.10" fill="#000" opacity="0.45"/>
<rect x="403.15" y="669.10" width="1.30" height="1.10" fill="#000" opacity="0.45"/>
<rect x="405.15" y="669.10" width="1.30" height="1.10" fill="#000" opacity="0.45"/>
<rect x="407.15" y="669.10" width="1.30" height="1.10" fill="#000" opacity="0.45"/>
<rect x="409.15" y="669.10" width="1.30" height="1.10" fill="#000" opacity="0.45"/>
<rect x="411.15" y="669.10" width="1.30" height="1.10" fill="#000" opacity="0.45"/>
<rect x="417.98" y="668.63" width="1.30" height="1.30" fill="#000" opacity="0.5"/>
<rect x="423.75" y="668.81" width="1.30" height="1.30" fill="#000" opacity="0.5"/>
<rect x="423.00" y="668.94" width="1.30" height="1.30" fill="#000" opacity="0.5"/>
<rect x="422.25" y="669.07" width="1.30" height="1.30" fill="#000" opacity="0.5"/>
<rect x="420.37" y="669.19" width="1.30" height="1.30" fill="#000" opacity="0.5"/>
<rect x="421.46" y="669.34" width="1.30" height="1.30" fill="#000" opacity="0.5"/>
<text x="414.10" y="660.40" font-size="10.6" text-anchor="middle" font-weight="bold" fill="#111" letter-spacing="-0.3">*</text>
<rect x="455.60" y="669.81" width="15.70" height="0.59" fill="#007a00" />
<line x1="463.45" y1="669.81" x2="463.45" y2="669.51" stroke="#000" stroke-width="0.9" />
<line x1="460.75" y1="669.51" x2="466.15" y2="669.51" stroke="#000" stroke-width="0.9" />
<rect x="441.15" y="669.10" width="1.30" height="1.10" fill="#000" opacity="0.45"/>
<rect x="443.15" y="669.10" width="1.30" height="1.10" fill="#000" opacity="0.45"/>
<rect x="445.15" y="669.10" width="1.30" height="1.10" fill="#000" opacity="0.45"/>
<rect x="447.15" y="669.10" width="1.30" height="1.10" fill="#000" opacity="0.45"/>
<rect x="449.15" y="669.10" width="1.30" height="1.10" fill="#000" opacity="0.45"/>
<rect x="451.15" y="669.10" width="1.30" height="1.10" fill="#000" opacity="0.45"/>
<rect x="453.15" y="669.10" width="1.30" height="1.10" fill="#000" opacity="0.45"/>
<rect x="463.53" y="668.93" width="1.30" height="1.30" fill="#000" opacity="0.5"/>
<rect x="463.93" y="669.05" width="1.30" height="1.30" fill="#000" opacity="0.5"/>
<rect x="464.55" y="669.10" width="1.30" height="1.30" fill="#000" opacity="0.5"/>
<rect x="463.52" y="669.22" width="1.30" height="1.30" fill="#000" opacity="0.5"/>
<rect x="460.04" y="669.30" width="1.30" height="1.30" fill="#000" opacity="0.5"/>
<rect x="463.66" y="669.33" width="1.30" height="1.30" fill="#000" opacity="0.5"/>
<text x="456.10" y="660.40" font-size="10.6" text-anchor="middle" font-weight="bold" fill="#111" letter-spacing="-0.3">**</text>
<rect x="497.60" y="667.80" width="15.70" height="2.60" fill="#007a00" />
<line x1="505.45" y1="667.80" x2="505.45" y2="667.06" stroke="#000" stroke-width="0.9" />
<line x1="502.75" y1="667.06" x2="508.15" y2="667.06" stroke="#000" stroke-width="0.9" />
<rect x="483.15" y="669.10" width="1.30" height="1.10" fill="#000" opacity="0.45"/>
<rect x="485.15" y="669.10" width="1.30" height="1.10" fill="#000" opacity="0.45"/>
<rect x="487.15" y="669.10" width="1.30" height="1.10" fill="#000" opacity="0.45"/>
<rect x="489.15" y="669.10" width="1.30" height="1.10" fill="#000" opacity="0.45"/>
<rect x="491.15" y="669.10" width="1.30" height="1.10" fill="#000" opacity="0.45"/>
<rect x="493.15" y="669.10" width="1.30" height="1.10" fill="#000" opacity="0.45"/>
<rect x="495.15" y="669.10" width="1.30" height="1.10" fill="#000" opacity="0.45"/>
<rect x="506.34" y="666.26" width="1.30" height="1.30" fill="#000" opacity="0.5"/>
<rect x="507.89" y="666.49" width="1.30" height="1.30" fill="#000" opacity="0.5"/>
<rect x="503.56" y="667.00" width="1.30" height="1.30" fill="#000" opacity="0.5"/>
<rect x="502.64" y="667.36" width="1.30" height="1.30" fill="#000" opacity="0.5"/>
<rect x="504.54" y="667.74" width="1.30" height="1.30" fill="#000" opacity="0.5"/>
<rect x="506.11" y="668.05" width="1.30" height="1.30" fill="#000" opacity="0.5"/>
<text x="498.10" y="660.40" font-size="10.6" text-anchor="middle" font-weight="bold" fill="#111" letter-spacing="-0.3">****</text>
<rect x="539.60" y="665.20" width="15.70" height="5.20" fill="#007a00" />
<line x1="547.45" y1="665.20" x2="547.45" y2="664.08" stroke="#000" stroke-width="0.9" />
<line x1="544.75" y1="664.08" x2="550.15" y2="664.08" stroke="#000" stroke-width="0.9" />
<rect x="525.15" y="669.10" width="1.30" height="1.10" fill="#000" opacity="0.45"/>
<rect x="527.15" y="669.10" width="1.30" height="1.10" fill="#000" opacity="0.45"/>
<rect x="529.15" y="669.10" width="1.30" height="1.10" fill="#000" opacity="0.45"/>
<rect x="531.15" y="669.10" width="1.30" height="1.10" fill="#000" opacity="0.45"/>
<rect x="533.15" y="669.10" width="1.30" height="1.10" fill="#000" opacity="0.45"/>
<rect x="535.15" y="669.10" width="1.30" height="1.10" fill="#000" opacity="0.45"/>
<rect x="537.15" y="669.10" width="1.30" height="1.10" fill="#000" opacity="0.45"/>
<rect x="549.09" y="662.55" width="1.30" height="1.30" fill="#000" opacity="0.5"/>
<rect x="546.14" y="663.07" width="1.30" height="1.30" fill="#000" opacity="0.5"/>
<rect x="544.40" y="664.19" width="1.30" height="1.30" fill="#000" opacity="0.5"/>
<rect x="549.39" y="665.13" width="1.30" height="1.30" fill="#000" opacity="0.5"/>
<rect x="545.39" y="665.89" width="1.30" height="1.30" fill="#000" opacity="0.5"/>
<rect x="545.38" y="666.47" width="1.30" height="1.30" fill="#000" opacity="0.5"/>
<text x="540.10" y="659.70" font-size="10.6" text-anchor="middle" font-weight="bold" fill="#111" letter-spacing="-0.3">**</text>
<rect x="565.90" y="670.03" width="15.70" height="0.37" fill="#8c8c8c" />
<rect x="581.60" y="643.65" width="15.70" height="26.75" fill="#007a00" />
<line x1="589.45" y1="643.65" x2="589.45" y2="638.23" stroke="#000" stroke-width="0.9" />
<line x1="586.75" y1="638.23" x2="592.15" y2="638.23" stroke="#000" stroke-width="0.9" />
<rect x="574.13" y="669.24" width="1.30" height="1.30" fill="#000" opacity="0.5"/>
<rect x="575.62" y="669.30" width="1.30" height="1.30" fill="#000" opacity="0.5"/>
<rect x="570.27" y="669.35" width="1.30" height="1.30" fill="#000" opacity="0.5"/>
<rect x="570.04" y="669.42" width="1.30" height="1.30" fill="#000" opacity="0.5"/>
<rect x="571.91" y="669.46" width="1.30" height="1.30" fill="#000" opacity="0.5"/>
<rect x="570.70" y="669.48" width="1.30" height="1.30" fill="#000" opacity="0.5"/>
<rect x="591.26" y="635.00" width="1.30" height="1.30" fill="#000" opacity="0.5"/>
<rect x="585.78" y="637.85" width="1.30" height="1.30" fill="#000" opacity="0.5"/>
<rect x="589.86" y="641.03" width="1.30" height="1.30" fill="#000" opacity="0.5"/>
<rect x="592.16" y="645.95" width="1.30" height="1.30" fill="#000" opacity="0.5"/>
<rect x="588.78" y="647.71" width="1.30" height="1.30" fill="#000" opacity="0.5"/>
<rect x="588.76" y="650.55" width="1.30" height="1.30" fill="#000" opacity="0.5"/>
<text x="582.10" y="625.40" font-size="10.6" text-anchor="middle" font-weight="bold" fill="#111" letter-spacing="-0.3">****</text>
<rect x="607.90" y="669.29" width="15.70" height="1.11" fill="#8c8c8c" />
<rect x="623.60" y="634.66" width="15.70" height="35.74" fill="#007a00" />
<line x1="631.45" y1="634.66" x2="631.45" y2="630.58" stroke="#000" stroke-width="0.9" />
<line x1="628.75" y1="630.58" x2="634.15" y2="630.58" stroke="#000" stroke-width="0.9" />
<rect x="613.66" y="668.27" width="1.30" height="1.30" fill="#000" opacity="0.5"/>
<rect x="615.39" y="668.34" width="1.30" height="1.30" fill="#000" opacity="0.5"/>
<rect x="614.50" y="668.54" width="1.30" height="1.30" fill="#000" opacity="0.5"/>
<rect x="612.36" y="668.76" width="1.30" height="1.30" fill="#000" opacity="0.5"/>
<rect x="612.66" y="668.90" width="1.30" height="1.30" fill="#000" opacity="0.5"/>
<rect x="618.12" y="669.09" width="1.30" height="1.30" fill="#000" opacity="0.5"/>
<rect x="633.61" y="619.24" width="1.30" height="1.30" fill="#000" opacity="0.5"/>
<rect x="630.70" y="623.54" width="1.30" height="1.30" fill="#000" opacity="0.5"/>
<rect x="632.50" y="631.72" width="1.30" height="1.30" fill="#000" opacity="0.5"/>
<rect x="632.47" y="637.66" width="1.30" height="1.30" fill="#000" opacity="0.5"/>
<rect x="634.31" y="643.05" width="1.30" height="1.30" fill="#000" opacity="0.5"/>
<rect x="632.99" y="647.86" width="1.30" height="1.30" fill="#000" opacity="0.5"/>
<text x="624.10" y="615.10" font-size="10.6" text-anchor="middle" font-weight="bold" fill="#111" letter-spacing="-0.3">****</text>
<rect x="649.90" y="661.11" width="15.70" height="9.29" fill="#8c8c8c" />
<rect x="665.60" y="603.68" width="15.70" height="66.72" fill="#007a00" />
<line x1="657.75" y1="661.11" x2="657.75" y2="659.25" stroke="#000" stroke-width="0.9" />
<line x1="655.05" y1="659.25" x2="660.45" y2="659.25" stroke="#000" stroke-width="0.9" />
<line x1="673.45" y1="603.68" x2="673.45" y2="597.21" stroke="#000" stroke-width="0.9" />
<line x1="670.75" y1="597.21" x2="676.15" y2="597.21" stroke="#000" stroke-width="0.9" />
<rect x="659.74" y="655.96" width="1.30" height="1.30" fill="#000" opacity="0.5"/>
<rect x="656.84" y="658.74" width="1.30" height="1.30" fill="#000" opacity="0.5"/>
<rect x="657.16" y="659.66" width="1.30" height="1.30" fill="#000" opacity="0.5"/>
<rect x="654.20" y="661.49" width="1.30" height="1.30" fill="#000" opacity="0.5"/>
<rect x="656.10" y="662.07" width="1.30" height="1.30" fill="#000" opacity="0.5"/>
<rect x="654.79" y="663.32" width="1.30" height="1.30" fill="#000" opacity="0.5"/>
<rect x="675.33" y="573.27" width="1.30" height="1.30" fill="#000" opacity="0.5"/>
<rect x="672.90" y="583.46" width="1.30" height="1.30" fill="#000" opacity="0.5"/>
<rect x="671.00" y="599.06" width="1.30" height="1.30" fill="#000" opacity="0.5"/>
<rect x="674.55" y="608.67" width="1.30" height="1.30" fill="#000" opacity="0.5"/>
<rect x="675.36" y="617.14" width="1.30" height="1.30" fill="#000" opacity="0.5"/>
<rect x="672.12" y="625.87" width="1.30" height="1.30" fill="#000" opacity="0.5"/>
<text x="666.10" y="596.20" font-size="10.6" text-anchor="middle" font-weight="bold" fill="#111" letter-spacing="-0.3">****</text>
<text x="399.90" y="602.60" font-size="10.3" >CquiOR38 (n=7)</text>
<text x="25.40" y="746.50" font-size="12.7" text-anchor="middle" transform="rotate(-90 25.40 746.50)" >Current (nA)</text>
<line x1="58.20" y1="705.00" x2="58.20" y2="777.70" stroke="#000" stroke-width="1" />
<line x1="50.90" y1="777.20" x2="58.20" y2="777.20" stroke="#000" stroke-width="1" />
<text x="48.00" y="781.00" font-size="10.9" text-anchor="end" >0</text>
<line x1="54.30" y1="770.03" x2="58.20" y2="770.03" stroke="#000" stroke-width="0.9" />
<line x1="50.90" y1="762.86" x2="58.20" y2="762.86" stroke="#000" stroke-width="1" />
<text x="48.00" y="766.66" font-size="10.9" text-anchor="end" >100</text>
<line x1="54.30" y1="755.69" x2="58.20" y2="755.69" stroke="#000" stroke-width="0.9" />
<line x1="50.90" y1="748.52" x2="58.20" y2="748.52" stroke="#000" stroke-width="1" />
<text x="48.00" y="752.32" font-size="10.9" text-anchor="end" >200</text>
<line x1="54.30" y1="741.35" x2="58.20" y2="741.35" stroke="#000" stroke-width="0.9" />
<line x1="50.90" y1="734.18" x2="58.20" y2="734.18" stroke="#000" stroke-width="1" />
<text x="48.00" y="737.98" font-size="10.9" text-anchor="end" >300</text>
<line x1="54.30" y1="727.01" x2="58.20" y2="727.01" stroke="#000" stroke-width="0.9" />
<line x1="50.90" y1="719.84" x2="58.20" y2="719.84" stroke="#000" stroke-width="1" />
<text x="48.00" y="723.64" font-size="10.9" text-anchor="end" >400</text>
<line x1="54.30" y1="712.67" x2="58.20" y2="712.67" stroke="#000" stroke-width="0.9" />
<line x1="50.90" y1="705.50" x2="58.20" y2="705.50" stroke="#000" stroke-width="1" />
<text x="48.00" y="709.30" font-size="10.9" text-anchor="end" >500</text>
<line x1="58.20" y1="777.20" x2="351.80" y2="777.20" stroke="#000" stroke-width="1" />
<line x1="81.90" y1="777.20" x2="81.90" y2="781.20" stroke="#000" stroke-width="1" />
<text x="81.40" y="792.20" font-size="10.3" text-anchor="middle" >-8</text>
<line x1="122.85" y1="777.20" x2="122.85" y2="781.20" stroke="#000" stroke-width="1" />
<text x="122.35" y="792.20" font-size="10.3" text-anchor="middle" >-7</text>
<line x1="163.80" y1="777.20" x2="163.80" y2="781.20" stroke="#000" stroke-width="1" />
<text x="163.30" y="792.20" font-size="10.3" text-anchor="middle" >-6</text>
<line x1="204.75" y1="777.20" x2="204.75" y2="781.20" stroke="#000" stroke-width="1" />
<text x="204.25" y="792.20" font-size="10.3" text-anchor="middle" >-5.3</text>
<line x1="245.70" y1="777.20" x2="245.70" y2="781.20" stroke="#000" stroke-width="1" />
<text x="245.20" y="792.20" font-size="10.3" text-anchor="middle" >-5</text>
<line x1="286.65" y1="777.20" x2="286.65" y2="781.20" stroke="#000" stroke-width="1" />
<text x="286.15" y="792.20" font-size="10.3" text-anchor="middle" >-4.3</text>
<line x1="327.60" y1="777.20" x2="327.60" y2="781.20" stroke="#000" stroke-width="1" />
<text x="327.10" y="792.20" font-size="10.3" text-anchor="middle" >-4</text>
<rect x="67.30" y="775.90" width="1.30" height="1.10" fill="#000" opacity="0.45"/>
<rect x="69.30" y="775.90" width="1.30" height="1.10" fill="#000" opacity="0.45"/>
<rect x="71.30" y="775.90" width="1.30" height="1.10" fill="#000" opacity="0.45"/>
<rect x="73.30" y="775.90" width="1.30" height="1.10" fill="#000" opacity="0.45"/>
<rect x="75.30" y="775.90" width="1.30" height="1.10" fill="#000" opacity="0.45"/>
<rect x="77.30" y="775.90" width="1.30" height="1.10" fill="#000" opacity="0.45"/>
<rect x="79.30" y="775.90" width="1.30" height="1.10" fill="#000" opacity="0.45"/>
<rect x="83.30" y="775.90" width="1.30" height="1.10" fill="#000" opacity="0.45"/>
<rect x="85.30" y="775.90" width="1.30" height="1.10" fill="#000" opacity="0.45"/>
<rect x="87.30" y="775.90" width="1.30" height="1.10" fill="#000" opacity="0.45"/>
<rect x="89.30" y="775.90" width="1.30" height="1.10" fill="#000" opacity="0.45"/>
<rect x="91.30" y="775.90" width="1.30" height="1.10" fill="#000" opacity="0.45"/>
<rect x="93.30" y="775.90" width="1.30" height="1.10" fill="#000" opacity="0.45"/>
<rect x="95.30" y="775.90" width="1.30" height="1.10" fill="#000" opacity="0.45"/>
<rect x="108.25" y="775.90" width="1.30" height="1.10" fill="#000" opacity="0.45"/>
<rect x="110.25" y="775.90" width="1.30" height="1.10" fill="#000" opacity="0.45"/>
<rect x="112.25" y="775.90" width="1.30" height="1.10" fill="#000" opacity="0.45"/>
<rect x="114.25" y="775.90" width="1.30" height="1.10" fill="#000" opacity="0.45"/>
<rect x="116.25" y="775.90" width="1.30" height="1.10" fill="#000" opacity="0.45"/>
<rect x="118.25" y="775.90" width="1.30" height="1.10" fill="#000" opacity="0.45"/>
<rect x="120.25" y="775.90" width="1.30" height="1.10" fill="#000" opacity="0.45"/>
<rect x="124.25" y="775.90" width="1.30" height="1.10" fill="#000" opacity="0.45"/>
<rect x="126.25" y="775.90" width="1.30" height="1.10" fill="#000" opacity="0.45"/>
<rect x="128.25" y="775.90" width="1.30" height="1.10" fill="#000" opacity="0.45"/>
<rect x="130.25" y="775.90" width="1.30" height="1.10" fill="#000" opacity="0.45"/>
<rect x="132.25" y="775.90" width="1.30" height="1.10" fill="#000" opacity="0.45"/>
<rect x="134.25" y="775.90" width="1.30" height="1.10" fill="#000" opacity="0.45"/>
<rect x="136.25" y="775.90" width="1.30" height="1.10" fill="#000" opacity="0.45"/>
<rect x="163.80" y="775.48" width="16.00" height="1.72" fill="#007a00" />
<rect x="149.20" y="775.90" width="1.30" height="1.10" fill="#000" opacity="0.45"/>
<rect x="151.20" y="775.90" width="1.30" height="1.10" fill="#000" opacity="0.45"/>
<rect x="153.20" y="775.90" width="1.30" height="1.10" fill="#000" opacity="0.45"/>
<rect x="155.20" y="775.90" width="1.30" height="1.10" fill="#000" opacity="0.45"/>
<rect x="157.20" y="775.90" width="1.30" height="1.10" fill="#000" opacity="0.45"/>
<rect x="159.20" y="775.90" width="1.30" height="1.10" fill="#000" opacity="0.45"/>
<rect x="161.20" y="775.90" width="1.30" height="1.10" fill="#000" opacity="0.45"/>
<rect x="169.26" y="774.00" width="1.30" height="1.30" fill="#000" opacity="0.5"/>
<rect x="171.47" y="774.32" width="1.30" height="1.30" fill="#000" opacity="0.5"/>
<rect x="171.55" y="774.72" width="1.30" height="1.30" fill="#000" opacity="0.5"/>
<rect x="167.99" y="775.00" width="1.30" height="1.30" fill="#000" opacity="0.5"/>
<rect x="170.60" y="775.19" width="1.30" height="1.30" fill="#000" opacity="0.5"/>
<rect x="171.24" y="775.50" width="1.30" height="1.30" fill="#000" opacity="0.5"/>
<rect x="204.75" y="764.29" width="16.00" height="12.91" fill="#007a00" />
<line x1="212.75" y1="764.29" x2="212.75" y2="760.28" stroke="#000" stroke-width="0.9" />
<line x1="210.05" y1="760.28" x2="215.45" y2="760.28" stroke="#000" stroke-width="0.9" />
<rect x="190.15" y="775.90" width="1.30" height="1.10" fill="#000" opacity="0.45"/>
<rect x="192.15" y="775.90" width="1.30" height="1.10" fill="#000" opacity="0.45"/>
<rect x="194.15" y="775.90" width="1.30" height="1.10" fill="#000" opacity="0.45"/>
<rect x="196.15" y="775.90" width="1.30" height="1.10" fill="#000" opacity="0.45"/>
<rect x="198.15" y="775.90" width="1.30" height="1.10" fill="#000" opacity="0.45"/>
<rect x="200.15" y="775.90" width="1.30" height="1.10" fill="#000" opacity="0.45"/>
<rect x="202.15" y="775.90" width="1.30" height="1.10" fill="#000" opacity="0.45"/>
<rect x="212.52" y="759.67" width="1.30" height="1.30" fill="#000" opacity="0.5"/>
<rect x="215.21" y="759.84" width="1.30" height="1.30" fill="#000" opacity="0.5"/>
<rect x="209.64" y="762.68" width="1.30" height="1.30" fill="#000" opacity="0.5"/>
<rect x="215.05" y="765.07" width="1.30" height="1.30" fill="#000" opacity="0.5"/>
<rect x="210.09" y="766.08" width="1.30" height="1.30" fill="#000" opacity="0.5"/>
<rect x="209.66" y="769.65" width="1.30" height="1.30" fill="#000" opacity="0.5"/>
<text x="205.25" y="756.10" font-size="10.6" text-anchor="middle" font-weight="bold" fill="#111" letter-spacing="-0.3">****</text>
<rect x="229.70" y="776.91" width="16.00" height="0.29" fill="#8c8c8c" />
<rect x="245.70" y="757.55" width="16.00" height="19.65" fill="#007a00" />
<line x1="253.70" y1="757.55" x2="253.70" y2="752.82" stroke="#000" stroke-width="0.9" />
<line x1="251.00" y1="752.82" x2="256.40" y2="752.82" stroke="#000" stroke-width="0.9" />
<rect x="231.10" y="775.90" width="1.30" height="1.10" fill="#000" opacity="0.45"/>
<rect x="233.10" y="775.90" width="1.30" height="1.10" fill="#000" opacity="0.45"/>
<rect x="235.10" y="775.90" width="1.30" height="1.10" fill="#000" opacity="0.45"/>
<rect x="237.10" y="775.90" width="1.30" height="1.10" fill="#000" opacity="0.45"/>
<rect x="239.10" y="775.90" width="1.30" height="1.10" fill="#000" opacity="0.45"/>
<rect x="241.10" y="775.90" width="1.30" height="1.10" fill="#000" opacity="0.45"/>
<rect x="243.10" y="775.90" width="1.30" height="1.10" fill="#000" opacity="0.45"/>
<rect x="251.06" y="751.03" width="1.30" height="1.30" fill="#000" opacity="0.5"/>
<rect x="251.95" y="751.78" width="1.30" height="1.30" fill="#000" opacity="0.5"/>
<rect x="250.43" y="755.32" width="1.30" height="1.30" fill="#000" opacity="0.5"/>
<rect x="253.27" y="758.40" width="1.30" height="1.30" fill="#000" opacity="0.5"/>
<rect x="253.41" y="760.36" width="1.30" height="1.30" fill="#000" opacity="0.5"/>
<rect x="252.59" y="763.88" width="1.30" height="1.30" fill="#000" opacity="0.5"/>
<text x="246.20" y="745.60" font-size="10.6" text-anchor="middle" font-weight="bold" fill="#111" letter-spacing="-0.3">****</text>
<rect x="270.65" y="771.75" width="16.00" height="5.45" fill="#8c8c8c" />
<rect x="286.65" y="721.27" width="16.00" height="55.93" fill="#007a00" />
<line x1="294.65" y1="721.27" x2="294.65" y2="711.95" stroke="#000" stroke-width="0.9" />
<line x1="291.95" y1="711.95" x2="297.35" y2="711.95" stroke="#000" stroke-width="0.9" />
<rect x="276.08" y="769.32" width="1.30" height="1.30" fill="#000" opacity="0.5"/>
<rect x="278.36" y="769.71" width="1.30" height="1.30" fill="#000" opacity="0.5"/>
<rect x="280.65" y="770.66" width="1.30" height="1.30" fill="#000" opacity="0.5"/>
<rect x="280.32" y="771.68" width="1.30" height="1.30" fill="#000" opacity="0.5"/>
<rect x="276.85" y="772.13" width="1.30" height="1.30" fill="#000" opacity="0.5"/>
<rect x="281.64" y="772.86" width="1.30" height="1.30" fill="#000" opacity="0.5"/>
<rect x="292.33" y="702.61" width="1.30" height="1.30" fill="#000" opacity="0.5"/>
<rect x="291.33" y="709.02" width="1.30" height="1.30" fill="#000" opacity="0.5"/>
<rect x="296.18" y="716.55" width="1.30" height="1.30" fill="#000" opacity="0.5"/>
<rect x="295.45" y="725.67" width="1.30" height="1.30" fill="#000" opacity="0.5"/>
<rect x="295.43" y="730.47" width="1.30" height="1.30" fill="#000" opacity="0.5"/>
<rect x="291.46" y="747.11" width="1.30" height="1.30" fill="#000" opacity="0.5"/>
<text x="287.15" y="710.60" font-size="10.6" text-anchor="middle" font-weight="bold" fill="#111" letter-spacing="-0.3">****</text>
<rect x="311.60" y="770.03" width="16.00" height="7.17" fill="#8c8c8c" />
<rect x="327.60" y="719.12" width="16.00" height="58.08" fill="#007a00" />
<line x1="335.60" y1="719.12" x2="335.60" y2="710.52" stroke="#000" stroke-width="0.9" />
<line x1="332.90" y1="710.52" x2="338.30" y2="710.52" stroke="#000" stroke-width="0.9" />
<rect x="319.12" y="766.13" width="1.30" height="1.30" fill="#000" opacity="0.5"/>
<rect x="316.09" y="767.96" width="1.30" height="1.30" fill="#000" opacity="0.5"/>
<rect x="319.46" y="768.97" width="1.30" height="1.30" fill="#000" opacity="0.5"/>
<rect x="316.63" y="770.09" width="1.30" height="1.30" fill="#000" opacity="0.5"/>
<rect x="321.48" y="770.65" width="1.30" height="1.30" fill="#000" opacity="0.5"/>
<rect x="316.27" y="772.72" width="1.30" height="1.30" fill="#000" opacity="0.5"/>
<rect x="334.83" y="689.79" width="1.30" height="1.30" fill="#000" opacity="0.5"/>
<rect x="334.87" y="705.94" width="1.30" height="1.30" fill="#000" opacity="0.5"/>
<rect x="335.81" y="714.22" width="1.30" height="1.30" fill="#000" opacity="0.5"/>
<rect x="337.51" y="724.57" width="1.30" height="1.30" fill="#000" opacity="0.5"/>
<rect x="336.78" y="730.32" width="1.30" height="1.30" fill="#000" opacity="0.5"/>
<rect x="332.76" y="737.00" width="1.30" height="1.30" fill="#000" opacity="0.5"/>
<text x="328.10" y="710.60" font-size="10.6" text-anchor="middle" font-weight="bold" fill="#111" letter-spacing="-0.3">****</text>
<text x="65.20" y="714.20" font-size="10.3" >AaegOR49 (n=6)</text>
<text x="203.50" y="811.00" font-size="13" text-anchor="middle" >Odorant, Log [M]</text>
<line x1="394.20" y1="706.60" x2="394.20" y2="778.00" stroke="#000" stroke-width="1" />
<line x1="390.10" y1="777.50" x2="394.20" y2="777.50" stroke="#000" stroke-width="1" />
<text x="385.70" y="781.30" font-size="10.6" text-anchor="end" >0</text>
<line x1="391.80" y1="770.46" x2="394.20" y2="770.46" stroke="#000" stroke-width="0.9" />
<line x1="390.10" y1="763.42" x2="394.20" y2="763.42" stroke="#000" stroke-width="1" />
<text x="385.70" y="767.22" font-size="10.6" text-anchor="end" >200</text>
<line x1="391.80" y1="756.38" x2="394.20" y2="756.38" stroke="#000" stroke-width="0.9" />
<line x1="390.10" y1="749.34" x2="394.20" y2="749.34" stroke="#000" stroke-width="1" />
<text x="385.70" y="753.14" font-size="10.6" text-anchor="end" >400</text>
<line x1="391.80" y1="742.30" x2="394.20" y2="742.30" stroke="#000" stroke-width="0.9" />
<line x1="390.10" y1="735.26" x2="394.20" y2="735.26" stroke="#000" stroke-width="1" />
<text x="385.70" y="739.06" font-size="10.6" text-anchor="end" >600</text>
<line x1="391.80" y1="728.22" x2="394.20" y2="728.22" stroke="#000" stroke-width="0.9" />
<line x1="390.10" y1="721.18" x2="394.20" y2="721.18" stroke="#000" stroke-width="1" />
<text x="385.70" y="724.98" font-size="10.6" text-anchor="end" >800</text>
<line x1="391.80" y1="714.14" x2="394.20" y2="714.14" stroke="#000" stroke-width="0.9" />
<line x1="390.10" y1="707.10" x2="394.20" y2="707.10" stroke="#000" stroke-width="1" />
<text x="385.70" y="710.90" font-size="10.6" text-anchor="end" >1000</text>
<line x1="394.20" y1="777.50" x2="685.00" y2="777.50" stroke="#000" stroke-width="1" />
<line x1="415.60" y1="777.50" x2="415.60" y2="781.50" stroke="#000" stroke-width="1" />
<text x="415.10" y="791.50" font-size="10.3" text-anchor="middle" >-8</text>
<line x1="457.05" y1="777.50" x2="457.05" y2="781.50" stroke="#000" stroke-width="1" />
<text x="456.55" y="791.50" font-size="10.3" text-anchor="middle" >-7</text>
<line x1="498.50" y1="777.50" x2="498.50" y2="781.50" stroke="#000" stroke-width="1" />
<text x="498.00" y="791.50" font-size="10.3" text-anchor="middle" >-6</text>
<line x1="539.95" y1="777.50" x2="539.95" y2="781.50" stroke="#000" stroke-width="1" />
<text x="539.45" y="791.50" font-size="10.3" text-anchor="middle" >-5.3</text>
<line x1="581.40" y1="777.50" x2="581.40" y2="781.50" stroke="#000" stroke-width="1" />
<text x="580.90" y="791.50" font-size="10.3" text-anchor="middle" >-5</text>
<line x1="622.85" y1="777.50" x2="622.85" y2="781.50" stroke="#000" stroke-width="1" />
<text x="622.35" y="791.50" font-size="10.3" text-anchor="middle" >-4.3</text>
<line x1="664.30" y1="777.50" x2="664.30" y2="781.50" stroke="#000" stroke-width="1" />
<text x="663.80" y="791.50" font-size="10.3" text-anchor="middle" >-4</text>
<rect x="402.20" y="776.20" width="1.30" height="1.10" fill="#000" opacity="0.45"/>
<rect x="404.20" y="776.20" width="1.30" height="1.10" fill="#000" opacity="0.45"/>
<rect x="406.20" y="776.20" width="1.30" height="1.10" fill="#000" opacity="0.45"/>
<rect x="408.20" y="776.20" width="1.30" height="1.10" fill="#000" opacity="0.45"/>
<rect x="410.20" y="776.20" width="1.30" height="1.10" fill="#000" opacity="0.45"/>
<rect x="412.20" y="776.20" width="1.30" height="1.10" fill="#000" opacity="0.45"/>
<rect x="414.20" y="776.20" width="1.30" height="1.10" fill="#000" opacity="0.45"/>
<rect x="415.80" y="776.20" width="1.30" height="1.10" fill="#000" opacity="0.45"/>
<rect x="417.80" y="776.20" width="1.30" height="1.10" fill="#000" opacity="0.45"/>
<rect x="419.80" y="776.20" width="1.30" height="1.10" fill="#000" opacity="0.45"/>
<rect x="421.80" y="776.20" width="1.30" height="1.10" fill="#000" opacity="0.45"/>
<rect x="423.80" y="776.20" width="1.30" height="1.10" fill="#000" opacity="0.45"/>
<rect x="425.80" y="776.20" width="1.30" height="1.10" fill="#000" opacity="0.45"/>
<rect x="427.80" y="776.20" width="1.30" height="1.10" fill="#000" opacity="0.45"/>
<rect x="457.05" y="777.15" width="13.60" height="0.35" fill="#007a00" />
<rect x="443.65" y="776.20" width="1.30" height="1.10" fill="#000" opacity="0.45"/>
<rect x="445.65" y="776.20" width="1.30" height="1.10" fill="#000" opacity="0.45"/>
<rect x="447.65" y="776.20" width="1.30" height="1.10" fill="#000" opacity="0.45"/>
<rect x="449.65" y="776.20" width="1.30" height="1.10" fill="#000" opacity="0.45"/>
<rect x="451.65" y="776.20" width="1.30" height="1.10" fill="#000" opacity="0.45"/>
<rect x="453.65" y="776.20" width="1.30" height="1.10" fill="#000" opacity="0.45"/>
<rect x="455.65" y="776.20" width="1.30" height="1.10" fill="#000" opacity="0.45"/>
<rect x="466.10" y="776.39" width="1.30" height="1.30" fill="#000" opacity="0.5"/>
<rect x="465.88" y="776.41" width="1.30" height="1.30" fill="#000" opacity="0.5"/>
<rect x="464.05" y="776.47" width="1.30" height="1.30" fill="#000" opacity="0.5"/>
<rect x="465.48" y="776.54" width="1.30" height="1.30" fill="#000" opacity="0.5"/>
<rect x="465.06" y="776.59" width="1.30" height="1.30" fill="#000" opacity="0.5"/>
<rect x="462.69" y="776.65" width="1.30" height="1.30" fill="#000" opacity="0.5"/>
<text x="457.55" y="772.00" font-size="10.6" text-anchor="middle" font-weight="bold" fill="#111" letter-spacing="-0.3">*</text>
<rect x="498.50" y="775.39" width="13.60" height="2.11" fill="#007a00" />
<line x1="505.30" y1="775.39" x2="505.30" y2="774.68" stroke="#000" stroke-width="0.9" />
<line x1="502.60" y1="774.68" x2="508.00" y2="774.68" stroke="#000" stroke-width="0.9" />
<rect x="485.10" y="776.20" width="1.30" height="1.10" fill="#000" opacity="0.45"/>
<rect x="487.10" y="776.20" width="1.30" height="1.10" fill="#000" opacity="0.45"/>
<rect x="489.10" y="776.20" width="1.30" height="1.10" fill="#000" opacity="0.45"/>
<rect x="491.10" y="776.20" width="1.30" height="1.10" fill="#000" opacity="0.45"/>
<rect x="493.10" y="776.20" width="1.30" height="1.10" fill="#000" opacity="0.45"/>
<rect x="495.10" y="776.20" width="1.30" height="1.10" fill="#000" opacity="0.45"/>
<rect x="497.10" y="776.20" width="1.30" height="1.10" fill="#000" opacity="0.45"/>
<rect x="506.16" y="773.73" width="1.30" height="1.30" fill="#000" opacity="0.5"/>
<rect x="504.14" y="774.17" width="1.30" height="1.30" fill="#000" opacity="0.5"/>
<rect x="503.69" y="774.61" width="1.30" height="1.30" fill="#000" opacity="0.5"/>
<rect x="503.79" y="774.89" width="1.30" height="1.30" fill="#000" opacity="0.5"/>
<rect x="502.92" y="775.21" width="1.30" height="1.30" fill="#000" opacity="0.5"/>
<rect x="503.66" y="775.61" width="1.30" height="1.30" fill="#000" opacity="0.5"/>
<text x="499.00" y="770.70" font-size="10.6" text-anchor="middle" font-weight="bold" fill="#111" letter-spacing="-0.3">**</text>
<rect x="526.35" y="777.15" width="13.60" height="0.35" fill="#8c8c8c" />
<rect x="539.95" y="764.97" width="13.60" height="12.53" fill="#007a00" />
<line x1="546.75" y1="764.97" x2="546.75" y2="761.66" stroke="#000" stroke-width="0.9" />
<line x1="544.05" y1="761.66" x2="549.45" y2="761.66" stroke="#000" stroke-width="0.9" />
<rect x="532.88" y="776.35" width="1.30" height="1.30" fill="#000" opacity="0.5"/>
<rect x="533.65" y="776.39" width="1.30" height="1.30" fill="#000" opacity="0.5"/>
<rect x="536.01" y="776.47" width="1.30" height="1.30" fill="#000" opacity="0.5"/>
<rect x="534.32" y="776.53" width="1.30" height="1.30" fill="#000" opacity="0.5"/>
<rect x="529.50" y="776.57" width="1.30" height="1.30" fill="#000" opacity="0.5"/>
<rect x="529.84" y="776.62" width="1.30" height="1.30" fill="#000" opacity="0.5"/>
<rect x="546.60" y="758.25" width="1.30" height="1.30" fill="#000" opacity="0.5"/>
<rect x="546.73" y="760.61" width="1.30" height="1.30" fill="#000" opacity="0.5"/>
<rect x="548.42" y="763.30" width="1.30" height="1.30" fill="#000" opacity="0.5"/>
<rect x="548.06" y="765.57" width="1.30" height="1.30" fill="#000" opacity="0.5"/>
<rect x="543.87" y="767.53" width="1.30" height="1.30" fill="#000" opacity="0.5"/>
<rect x="546.22" y="768.25" width="1.30" height="1.30" fill="#000" opacity="0.5"/>
<text x="540.45" y="756.60" font-size="10.6" text-anchor="middle" font-weight="bold" fill="#111" letter-spacing="-0.3">**</text>
<rect x="567.80" y="776.80" width="13.60" height="0.70" fill="#8c8c8c" />
<rect x="581.40" y="758.98" width="13.60" height="18.52" fill="#007a00" />
<line x1="588.20" y1="758.98" x2="588.20" y2="754.76" stroke="#000" stroke-width="0.9" />
<line x1="585.50" y1="754.76" x2="590.90" y2="754.76" stroke="#000" stroke-width="0.9" />
<rect x="577.22" y="775.93" width="1.30" height="1.30" fill="#000" opacity="0.5"/>
<rect x="574.78" y="775.98" width="1.30" height="1.30" fill="#000" opacity="0.5"/>
<rect x="575.19" y="776.10" width="1.30" height="1.30" fill="#000" opacity="0.5"/>
<rect x="575.62" y="776.21" width="1.30" height="1.30" fill="#000" opacity="0.5"/>
<rect x="572.32" y="776.26" width="1.30" height="1.30" fill="#000" opacity="0.5"/>
<rect x="575.88" y="776.37" width="1.30" height="1.30" fill="#000" opacity="0.5"/>
<rect x="589.44" y="749.40" width="1.30" height="1.30" fill="#000" opacity="0.5"/>
<rect x="590.81" y="752.81" width="1.30" height="1.30" fill="#000" opacity="0.5"/>
<rect x="587.21" y="756.63" width="1.30" height="1.30" fill="#000" opacity="0.5"/>
<rect x="585.91" y="760.53" width="1.30" height="1.30" fill="#000" opacity="0.5"/>
<rect x="589.26" y="763.10" width="1.30" height="1.30" fill="#000" opacity="0.5"/>
<rect x="589.92" y="767.14" width="1.30" height="1.30" fill="#000" opacity="0.5"/>
<text x="581.90" y="749.80" font-size="10.6" text-anchor="middle" font-weight="bold" fill="#111" letter-spacing="-0.3">***</text>
<rect x="609.25" y="773.49" width="13.60" height="4.01" fill="#8c8c8c" />
<rect x="622.85" y="739.84" width="13.60" height="37.66" fill="#007a00" />
<line x1="616.05" y1="773.49" x2="616.05" y2="772.57" stroke="#000" stroke-width="0.9" />
<line x1="613.35" y1="772.57" x2="618.75" y2="772.57" stroke="#000" stroke-width="0.9" />
<line x1="629.65" y1="739.84" x2="629.65" y2="732.80" stroke="#000" stroke-width="0.9" />
<line x1="626.95" y1="732.80" x2="632.35" y2="732.80" stroke="#000" stroke-width="0.9" />
<rect x="616.42" y="771.56" width="1.30" height="1.30" fill="#000" opacity="0.5"/>
<rect x="612.41" y="772.03" width="1.30" height="1.30" fill="#000" opacity="0.5"/>
<rect x="615.15" y="772.59" width="1.30" height="1.30" fill="#000" opacity="0.5"/>
<rect x="613.88" y="773.21" width="1.30" height="1.30" fill="#000" opacity="0.5"/>
<rect x="617.50" y="773.64" width="1.30" height="1.30" fill="#000" opacity="0.5"/>
<rect x="618.72" y="774.76" width="1.30" height="1.30" fill="#000" opacity="0.5"/>
<rect x="626.45" y="726.23" width="1.30" height="1.30" fill="#000" opacity="0.5"/>
<rect x="630.02" y="728.90" width="1.30" height="1.30" fill="#000" opacity="0.5"/>
<rect x="630.45" y="736.67" width="1.30" height="1.30" fill="#000" opacity="0.5"/>
<rect x="630.08" y="742.94" width="1.30" height="1.30" fill="#000" opacity="0.5"/>
<rect x="627.39" y="745.77" width="1.30" height="1.30" fill="#000" opacity="0.5"/>
<rect x="631.80" y="756.63" width="1.30" height="1.30" fill="#000" opacity="0.5"/>
<text x="623.35" y="724.20" font-size="10.6" text-anchor="middle" font-weight="bold" fill="#111" letter-spacing="-0.3">***</text>
<rect x="650.70" y="772.01" width="13.60" height="5.49" fill="#8c8c8c" />
<rect x="664.30" y="738.92" width="13.60" height="38.58" fill="#007a00" />
<line x1="657.50" y1="772.01" x2="657.50" y2="771.16" stroke="#000" stroke-width="0.9" />
<line x1="654.80" y1="771.16" x2="660.20" y2="771.16" stroke="#000" stroke-width="0.9" />
<line x1="671.10" y1="738.92" x2="671.10" y2="731.46" stroke="#000" stroke-width="0.9" />
<line x1="668.40" y1="731.46" x2="673.80" y2="731.46" stroke="#000" stroke-width="0.9" />
<rect x="655.40" y="769.67" width="1.30" height="1.30" fill="#000" opacity="0.5"/>
<rect x="654.22" y="769.97" width="1.30" height="1.30" fill="#000" opacity="0.5"/>
<rect x="654.11" y="771.04" width="1.30" height="1.30" fill="#000" opacity="0.5"/>
<rect x="657.92" y="771.89" width="1.30" height="1.30" fill="#000" opacity="0.5"/>
<rect x="654.97" y="772.49" width="1.30" height="1.30" fill="#000" opacity="0.5"/>
<rect x="659.37" y="773.71" width="1.30" height="1.30" fill="#000" opacity="0.5"/>
<rect x="672.76" y="725.96" width="1.30" height="1.30" fill="#000" opacity="0.5"/>
<rect x="668.59" y="727.81" width="1.30" height="1.30" fill="#000" opacity="0.5"/>
<rect x="672.77" y="735.71" width="1.30" height="1.30" fill="#000" opacity="0.5"/>
<rect x="674.02" y="742.23" width="1.30" height="1.30" fill="#000" opacity="0.5"/>
<rect x="672.32" y="746.54" width="1.30" height="1.30" fill="#000" opacity="0.5"/>
<rect x="669.68" y="752.37" width="1.30" height="1.30" fill="#000" opacity="0.5"/>
<text x="664.80" y="724.20" font-size="10.6" text-anchor="middle" font-weight="bold" fill="#111" letter-spacing="-0.3">***</text>
<text x="400.40" y="712.30" font-size="10.3" >AalbOR49 (n=6)</text>
<text x="540.70" y="810.30" font-size="13" text-anchor="middle" >Odorant, Log [M]</text>
</svg>
</body></html>
